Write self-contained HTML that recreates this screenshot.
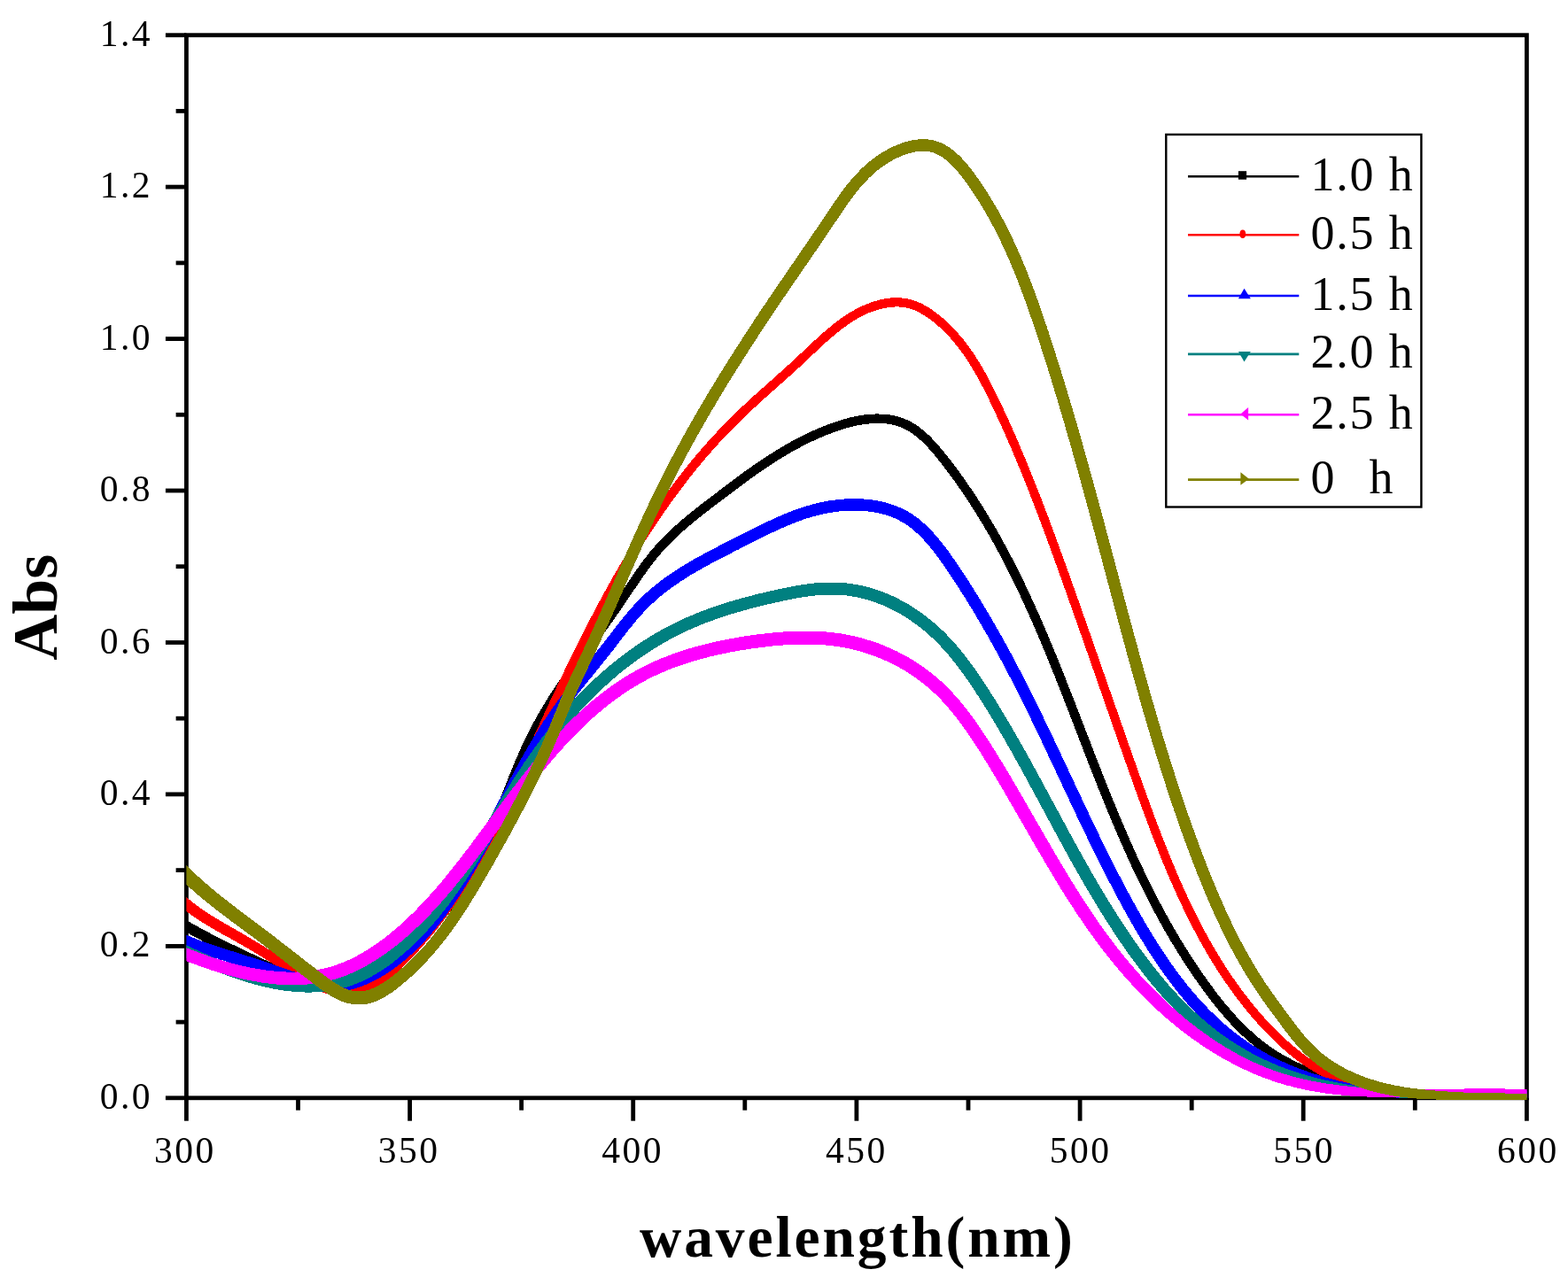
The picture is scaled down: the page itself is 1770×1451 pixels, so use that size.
<!DOCTYPE html>
<html><head><meta charset="utf-8"><title>Abs vs wavelength</title>
<style>
html,body{margin:0;padding:0;background:#fff;width:1770px;height:1451px;overflow:hidden}
svg{display:block}
.t{font-family:"Liberation Serif","Times New Roman",serif;fill:#000}
</style></head><body>
<svg width="1770" height="1451" viewBox="0 0 1770 1451">
<rect width="1770" height="1451" fill="#fff"/>
<rect x="210.4" y="39.7" width="1513.0" height="1200.1" fill="none" stroke="#000" stroke-width="4.8"/>
<line x1="186.9" y1="1239.8" x2="210.4" y2="1239.8" stroke="#000" stroke-width="4.8"/>
<line x1="186.9" y1="1068.4" x2="210.4" y2="1068.4" stroke="#000" stroke-width="4.8"/>
<line x1="186.9" y1="896.9" x2="210.4" y2="896.9" stroke="#000" stroke-width="4.8"/>
<line x1="186.9" y1="725.5" x2="210.4" y2="725.5" stroke="#000" stroke-width="4.8"/>
<line x1="186.9" y1="554.0" x2="210.4" y2="554.0" stroke="#000" stroke-width="4.8"/>
<line x1="186.9" y1="382.6" x2="210.4" y2="382.6" stroke="#000" stroke-width="4.8"/>
<line x1="186.9" y1="211.1" x2="210.4" y2="211.1" stroke="#000" stroke-width="4.8"/>
<line x1="186.9" y1="39.7" x2="210.4" y2="39.7" stroke="#000" stroke-width="4.8"/>
<line x1="198.6" y1="1154.1" x2="210.4" y2="1154.1" stroke="#000" stroke-width="4.8"/>
<line x1="198.6" y1="982.6" x2="210.4" y2="982.6" stroke="#000" stroke-width="4.8"/>
<line x1="198.6" y1="811.2" x2="210.4" y2="811.2" stroke="#000" stroke-width="4.8"/>
<line x1="198.6" y1="639.7" x2="210.4" y2="639.7" stroke="#000" stroke-width="4.8"/>
<line x1="198.6" y1="468.3" x2="210.4" y2="468.3" stroke="#000" stroke-width="4.8"/>
<line x1="198.6" y1="296.9" x2="210.4" y2="296.9" stroke="#000" stroke-width="4.8"/>
<line x1="198.6" y1="125.4" x2="210.4" y2="125.4" stroke="#000" stroke-width="4.8"/>
<line x1="210.4" y1="1239.8" x2="210.4" y2="1265.7" stroke="#000" stroke-width="4.8"/>
<line x1="462.6" y1="1239.8" x2="462.6" y2="1265.7" stroke="#000" stroke-width="4.8"/>
<line x1="714.7" y1="1239.8" x2="714.7" y2="1265.7" stroke="#000" stroke-width="4.8"/>
<line x1="966.9" y1="1239.8" x2="966.9" y2="1265.7" stroke="#000" stroke-width="4.8"/>
<line x1="1219.1" y1="1239.8" x2="1219.1" y2="1265.7" stroke="#000" stroke-width="4.8"/>
<line x1="1471.2" y1="1239.8" x2="1471.2" y2="1265.7" stroke="#000" stroke-width="4.8"/>
<line x1="1723.4" y1="1239.8" x2="1723.4" y2="1265.7" stroke="#000" stroke-width="4.8"/>
<line x1="336.5" y1="1239.8" x2="336.5" y2="1253.7" stroke="#000" stroke-width="4.8"/>
<line x1="588.6" y1="1239.8" x2="588.6" y2="1253.7" stroke="#000" stroke-width="4.8"/>
<line x1="840.8" y1="1239.8" x2="840.8" y2="1253.7" stroke="#000" stroke-width="4.8"/>
<line x1="1093.0" y1="1239.8" x2="1093.0" y2="1253.7" stroke="#000" stroke-width="4.8"/>
<line x1="1345.2" y1="1239.8" x2="1345.2" y2="1253.7" stroke="#000" stroke-width="4.8"/>
<line x1="1597.3" y1="1239.8" x2="1597.3" y2="1253.7" stroke="#000" stroke-width="4.8"/>
<clipPath id="pc"><rect x="210.4" y="0" width="1513.2" height="1451"/></clipPath>
<g clip-path="url(#pc)" shape-rendering="crispEdges">
<path fill="#000000" d="M196.3,1044.3L198.0,1045.3L199.7,1046.4L201.4,1047.4L203.2,1048.5L204.9,1049.5L206.7,1050.5L208.4,1051.6L210.2,1052.6L211.9,1053.6L213.7,1054.6L215.5,1055.6L217.2,1056.5L219.0,1057.5L220.8,1058.5L222.6,1059.4L224.4,1060.4L226.2,1061.3L227.9,1062.3L229.7,1063.2L231.5,1064.1L233.3,1065.1L235.1,1066.0L236.9,1066.9L238.7,1067.8L240.5,1068.7L242.3,1069.6L244.2,1070.5L246.0,1071.4L247.8,1072.2L249.6,1073.1L251.4,1074.0L253.2,1074.9L255.0,1075.7L256.9,1076.6L258.7,1077.4L260.5,1078.3L262.3,1079.2L264.1,1080.0L265.9,1080.9L267.8,1081.7L269.6,1082.5L271.4,1083.4L273.2,1084.2L275.0,1085.1L276.9,1085.9L278.7,1086.7L280.5,1087.6L282.3,1088.4L284.1,1089.3L286.0,1090.1L287.8,1090.9L289.6,1091.8L291.4,1092.6L293.2,1093.4L295.1,1094.3L296.9,1095.1L298.7,1096.0L300.5,1096.8L302.4,1097.6L304.2,1098.4L306.1,1099.3L307.9,1100.1L309.8,1100.9L311.6,1101.7L313.5,1102.5L315.3,1103.3L317.2,1104.1L319.1,1104.8L321.0,1105.6L322.9,1106.3L324.8,1107.1L326.7,1107.8L328.6,1108.5L330.5,1109.2L332.4,1109.9L334.3,1110.6L336.3,1111.3L338.2,1111.9L340.2,1112.6L342.2,1113.2L344.1,1113.8L346.1,1114.3L348.1,1114.9L350.1,1115.4L352.1,1115.9L354.1,1116.4L356.1,1116.8L358.2,1117.2L360.2,1117.6L362.3,1118.0L364.4,1118.3L366.4,1118.6L368.5,1118.9L370.6,1119.1L372.7,1119.3L374.8,1119.4L376.9,1119.5L379.0,1119.5L381.1,1119.5L383.3,1119.5L385.4,1119.4L387.5,1119.3L389.6,1119.1L391.7,1118.9L393.8,1118.6L395.9,1118.2L398.0,1117.9L400.1,1117.5L402.1,1117.0L404.2,1116.5L406.2,1115.9L408.3,1115.3L410.3,1114.7L412.3,1114.0L414.3,1113.3L416.2,1112.5L418.2,1111.7L420.1,1110.8L422.0,1109.9L423.9,1109.0L425.8,1108.0L427.6,1107.0L429.5,1106.0L431.3,1104.9L433.1,1103.8L434.8,1102.7L436.6,1101.6L438.3,1100.4L440.0,1099.2L441.6,1098.0L443.3,1096.7L444.9,1095.5L446.6,1094.2L448.2,1092.9L449.8,1091.6L451.3,1090.3L452.9,1089.0L454.4,1087.6L456.0,1086.3L457.5,1084.9L459.0,1083.5L460.5,1082.1L462.0,1080.7L463.4,1079.3L464.9,1077.9L466.4,1076.5L467.8,1075.0L469.2,1073.6L470.6,1072.2L472.1,1070.7L473.5,1069.3L474.9,1067.8L476.3,1066.3L477.7,1064.9L479.0,1063.4L480.4,1061.9L481.8,1060.5L483.2,1059.0L484.5,1057.5L485.9,1056.0L487.3,1054.5L488.6,1053.0L489.9,1051.4L491.3,1049.9L492.6,1048.4L493.9,1046.9L495.2,1045.3L496.5,1043.8L497.9,1042.2L499.1,1040.7L500.4,1039.1L501.7,1037.6L503.0,1036.0L504.3,1034.4L505.5,1032.8L506.8,1031.2L508.0,1029.6L509.3,1028.0L510.5,1026.4L511.7,1024.8L512.9,1023.2L514.2,1021.6L515.4,1019.9L516.5,1018.3L517.7,1016.6L518.9,1015.0L520.1,1013.3L521.2,1011.7L522.4,1010.0L523.5,1008.3L524.7,1006.6L525.8,1005.0L526.9,1003.3L528.0,1001.6L529.1,999.9L530.2,998.1L531.3,996.4L532.4,994.7L533.4,993.0L534.5,991.2L535.5,989.5L536.6,987.8L537.6,986.0L538.6,984.2L539.6,982.5L540.6,980.7L541.6,978.9L542.6,977.1L543.5,975.4L544.5,973.6L545.4,971.8L546.4,970.0L547.3,968.2L548.2,966.3L549.1,964.5L550.0,962.7L550.9,960.9L551.8,959.1L552.6,957.2L553.5,955.4L554.3,953.6L555.2,951.7L556.0,949.9L556.8,948.0L557.7,946.2L558.5,944.3L559.3,942.5L560.1,940.6L560.9,938.8L561.7,936.9L562.5,935.1L563.2,933.2L564.0,931.4L564.8,929.5L565.6,927.6L566.3,925.8L567.1,923.9L567.8,922.0L568.6,920.2L569.3,918.3L570.1,916.4L570.8,914.6L571.5,912.7L572.3,910.9L573.0,909.0L573.8,907.1L574.5,905.3L575.2,903.4L575.9,901.5L576.7,899.7L577.4,897.8L578.1,895.9L578.9,894.1L579.6,892.2L580.3,890.4L581.1,888.5L581.8,886.6L582.5,884.8L583.3,882.9L584.0,881.1L584.7,879.2L585.5,877.4L586.2,875.5L587.0,873.7L587.7,871.8L588.5,870.0L589.2,868.1L590.0,866.3L590.8,864.5L591.5,862.6L592.3,860.8L593.1,859.0L593.9,857.2L594.7,855.3L595.5,853.5L596.3,851.7L597.1,849.9L597.9,848.1L598.7,846.3L599.6,844.5L600.4,842.7L601.2,840.9L602.1,839.1L603.0,837.4L603.8,835.6L604.7,833.8L605.6,832.0L606.5,830.3L607.4,828.5L608.3,826.8L609.2,825.0L610.1,823.3L611.1,821.5L612.0,819.8L613.0,818.1L613.9,816.3L614.9,814.6L615.9,812.9L616.9,811.2L617.8,809.4L618.8,807.7L619.8,806.0L620.9,804.3L621.9,802.6L622.9,800.9L623.9,799.2L625.0,797.5L626.0,795.9L627.1,794.2L628.1,792.5L629.2,790.8L630.2,789.1L631.3,787.5L632.4,785.8L633.5,784.1L634.6,782.5L635.6,780.8L636.7,779.1L637.8,777.5L638.9,775.8L640.0,774.2L641.2,772.5L642.3,770.9L643.4,769.2L644.5,767.6L645.6,765.9L646.8,764.3L647.9,762.7L649.0,761.0L650.2,759.4L651.3,757.8L652.5,756.1L653.6,754.5L654.8,752.9L655.9,751.2L657.1,749.6L658.2,748.0L659.4,746.4L660.5,744.7L661.7,743.1L662.9,741.5L664.0,739.9L665.2,738.2L666.4,736.6L667.5,735.0L668.7,733.4L669.9,731.7L671.0,730.1L672.2,728.5L673.4,726.9L674.6,725.3L675.7,723.6L676.9,722.0L678.1,720.4L679.2,718.8L680.4,717.1L681.6,715.5L682.7,713.9L683.9,712.2L685.1,710.6L686.2,709.0L687.4,707.3L688.6,705.7L689.7,704.1L690.9,702.4L692.1,700.8L693.2,699.2L694.4,697.5L695.5,695.9L696.7,694.2L697.8,692.6L699.0,690.9L700.1,689.3L701.3,687.6L702.4,685.9L703.5,684.3L704.7,682.6L705.8,681.0L706.9,679.3L708.0,677.6L709.1,676.0L710.3,674.3L711.4,672.6L712.5,671.0L713.6,669.3L714.7,667.7L715.8,666.0L717.0,664.3L718.1,662.7L719.2,661.0L720.3,659.4L721.4,657.7L722.5,656.1L723.7,654.5L724.8,652.8L725.9,651.2L727.1,649.6L728.2,648.0L729.4,646.3L730.5,644.7L731.7,643.1L732.9,641.5L734.0,640.0L735.2,638.4L736.4,636.8L737.6,635.3L738.8,633.7L740.0,632.2L741.3,630.6L742.5,629.1L743.8,627.6L745.0,626.1L746.3,624.6L747.6,623.2L748.9,621.7L750.2,620.3L751.5,618.8L752.9,617.4L754.2,616.0L755.6,614.6L757.0,613.2L758.4,611.8L759.8,610.4L761.2,609.0L762.6,607.7L764.0,606.3L765.4,605.0L766.9,603.6L768.3,602.3L769.8,601.0L771.3,599.7L772.8,598.4L774.3,597.1L775.7,595.8L777.3,594.5L778.8,593.2L780.3,591.9L781.8,590.7L783.3,589.4L784.9,588.2L786.4,586.9L787.9,585.7L789.5,584.4L791.0,583.2L792.6,582.0L794.2,580.7L795.7,579.5L797.3,578.3L798.9,577.1L800.4,575.8L802.0,574.6L803.6,573.4L805.2,572.2L806.8,571.0L808.4,569.8L809.9,568.6L811.5,567.3L813.1,566.1L814.7,564.9L816.3,563.7L817.9,562.5L819.5,561.3L821.1,560.1L822.7,558.9L824.3,557.7L825.9,556.5L827.5,555.3L829.1,554.1L830.7,552.9L832.3,551.7L833.9,550.5L835.5,549.3L837.1,548.1L838.7,546.9L840.3,545.7L841.9,544.6L843.5,543.4L845.1,542.2L846.7,541.0L848.3,539.9L849.9,538.7L851.5,537.6L853.2,536.4L854.8,535.3L856.4,534.1L858.0,533.0L859.7,531.9L861.3,530.8L862.9,529.6L864.6,528.5L866.2,527.4L867.9,526.3L869.5,525.2L871.2,524.1L872.9,523.1L874.5,522.0L876.2,520.9L877.9,519.9L879.5,518.8L881.2,517.8L882.9,516.8L884.6,515.7L886.3,514.7L888.0,513.7L889.7,512.7L891.4,511.7L893.1,510.7L894.8,509.8L896.6,508.8L898.3,507.8L900.0,506.9L901.8,506.0L903.5,505.0L905.3,504.1L907.0,503.2L908.8,502.3L910.5,501.4L912.3,500.6L914.1,499.7L915.8,498.8L917.6,498.0L919.4,497.2L921.2,496.3L923.0,495.5L924.8,494.7L926.6,493.9L928.4,493.2L930.2,492.4L932.0,491.6L933.8,490.9L935.7,490.2L937.5,489.5L939.3,488.8L941.2,488.1L943.0,487.4L944.8,486.8L946.7,486.2L948.5,485.6L950.4,485.0L952.3,484.4L954.1,483.8L956.0,483.3L957.9,482.8L959.8,482.3L961.6,481.8L963.5,481.4L965.4,480.9L967.3,480.5L969.2,480.1L971.1,479.8L973.0,479.5L974.9,479.2L976.8,478.9L978.7,478.7L980.6,478.5L982.5,478.3L984.4,478.2L986.3,478.0L988.2,478.0L990.1,477.9L992.0,478.0L993.9,478.0L995.8,478.1L997.7,478.2L999.5,478.4L1001.4,478.6L1003.2,478.9L1005.1,479.2L1006.9,479.5L1008.7,480.0L1010.5,480.4L1012.3,480.9L1014.0,481.5L1015.7,482.1L1017.5,482.8L1019.1,483.5L1020.8,484.3L1022.4,485.1L1024.1,486.0L1025.7,486.9L1027.2,487.9L1028.8,488.9L1030.3,490.0L1031.9,491.1L1033.4,492.2L1034.8,493.4L1036.3,494.6L1037.7,495.9L1039.2,497.2L1040.6,498.5L1042.0,499.8L1043.3,501.1L1044.7,502.5L1046.0,503.9L1047.4,505.3L1048.7,506.8L1050.0,508.2L1051.3,509.7L1052.5,511.1L1053.8,512.6L1055.1,514.1L1056.3,515.7L1057.6,517.2L1058.8,518.7L1060.0,520.3L1061.3,521.8L1062.5,523.4L1063.7,525.0L1064.9,526.5L1066.1,528.1L1067.3,529.7L1068.5,531.3L1069.7,532.8L1070.9,534.4L1072.1,536.0L1073.3,537.6L1074.4,539.2L1075.6,540.8L1076.8,542.4L1077.9,544.1L1079.1,545.7L1080.2,547.3L1081.4,548.9L1082.5,550.6L1083.6,552.2L1084.8,553.8L1085.9,555.5L1087.0,557.1L1088.1,558.7L1089.2,560.4L1090.3,562.0L1091.4,563.7L1092.5,565.4L1093.6,567.0L1094.7,568.7L1095.8,570.4L1096.8,572.0L1097.9,573.7L1099.0,575.4L1100.0,577.1L1101.1,578.7L1102.1,580.4L1103.2,582.1L1104.2,583.8L1105.3,585.5L1106.3,587.2L1107.3,588.9L1108.3,590.6L1109.4,592.3L1110.4,594.0L1111.4,595.7L1112.4,597.4L1113.4,599.2L1114.4,600.9L1115.4,602.6L1116.4,604.3L1117.4,606.1L1118.3,607.8L1119.3,609.5L1120.3,611.3L1121.3,613.0L1122.2,614.7L1123.2,616.5L1124.1,618.2L1125.1,620.0L1126.0,621.7L1127.0,623.5L1127.9,625.2L1128.8,627.0L1129.8,628.7L1130.7,630.5L1131.6,632.3L1132.6,634.0L1133.5,635.8L1134.4,637.6L1135.3,639.3L1136.2,641.1L1137.1,642.9L1138.0,644.7L1138.9,646.4L1139.8,648.2L1140.7,650.0L1141.6,651.8L1142.4,653.6L1143.3,655.4L1144.2,657.1L1145.1,658.9L1145.9,660.7L1146.8,662.5L1147.7,664.3L1148.5,666.1L1149.4,667.9L1150.2,669.7L1151.1,671.5L1151.9,673.3L1152.8,675.1L1153.6,676.9L1154.4,678.7L1155.3,680.6L1156.1,682.4L1156.9,684.2L1157.7,686.0L1158.6,687.8L1159.4,689.6L1160.2,691.4L1161.0,693.3L1161.8,695.1L1162.6,696.9L1163.4,698.7L1164.3,700.6L1165.1,702.4L1165.9,704.2L1166.7,706.0L1167.4,707.9L1168.2,709.7L1169.0,711.5L1169.8,713.4L1170.6,715.2L1171.4,717.0L1172.2,718.9L1172.9,720.7L1173.7,722.5L1174.5,724.4L1175.3,726.2L1176.0,728.1L1176.8,729.9L1177.6,731.8L1178.3,733.6L1179.1,735.4L1179.9,737.3L1180.6,739.1L1181.4,741.0L1182.1,742.8L1182.9,744.7L1183.6,746.5L1184.4,748.4L1185.1,750.2L1185.9,752.1L1186.6,753.9L1187.4,755.8L1188.1,757.6L1188.9,759.5L1189.6,761.3L1190.4,763.2L1191.1,765.1L1191.8,766.9L1192.6,768.8L1193.3,770.6L1194.0,772.5L1194.8,774.4L1195.5,776.2L1196.2,778.1L1197.0,779.9L1197.7,781.8L1198.4,783.7L1199.1,785.5L1199.9,787.4L1200.6,789.2L1201.3,791.1L1202.1,793.0L1202.8,794.8L1203.5,796.7L1204.2,798.6L1204.9,800.4L1205.7,802.3L1206.4,804.2L1207.1,806.0L1207.8,807.9L1208.5,809.8L1209.3,811.6L1210.0,813.5L1210.7,815.4L1211.4,817.2L1212.1,819.1L1212.9,821.0L1213.6,822.8L1214.3,824.7L1215.0,826.6L1215.7,828.4L1216.5,830.3L1217.2,832.2L1217.9,834.0L1218.6,835.9L1219.3,837.8L1220.1,839.6L1220.8,841.5L1221.5,843.4L1222.2,845.2L1222.9,847.1L1223.7,849.0L1224.4,850.8L1225.1,852.7L1225.8,854.6L1226.6,856.5L1227.3,858.3L1228.0,860.2L1228.7,862.1L1229.5,863.9L1230.2,865.8L1230.9,867.7L1231.6,869.5L1232.4,871.4L1233.1,873.3L1233.8,875.1L1234.6,877.0L1235.3,878.8L1236.0,880.7L1236.8,882.6L1237.5,884.4L1238.3,886.3L1239.0,888.2L1239.7,890.0L1240.5,891.9L1241.2,893.8L1242.0,895.6L1242.7,897.5L1243.5,899.3L1244.2,901.2L1245.0,903.1L1245.7,904.9L1246.5,906.8L1247.2,908.6L1248.0,910.5L1248.7,912.4L1249.5,914.2L1250.3,916.1L1251.0,917.9L1251.8,919.8L1252.6,921.6L1253.3,923.5L1254.1,925.3L1254.9,927.2L1255.7,929.0L1256.4,930.9L1257.2,932.7L1258.0,934.6L1258.8,936.4L1259.6,938.3L1260.4,940.1L1261.2,942.0L1262.0,943.8L1262.8,945.7L1263.6,947.5L1264.4,949.3L1265.2,951.2L1266.0,953.0L1266.8,954.9L1267.6,956.7L1268.4,958.5L1269.2,960.4L1270.1,962.2L1270.9,964.0L1271.7,965.9L1272.5,967.7L1273.4,969.5L1274.2,971.4L1275.0,973.2L1275.9,975.0L1276.7,976.8L1277.6,978.7L1278.4,980.5L1279.3,982.3L1280.1,984.1L1281.0,985.9L1281.8,987.7L1282.7,989.6L1283.6,991.4L1284.5,993.2L1285.3,995.0L1286.2,996.8L1287.1,998.6L1288.0,1000.4L1288.9,1002.2L1289.8,1004.0L1290.7,1005.8L1291.6,1007.6L1292.5,1009.4L1293.4,1011.2L1294.3,1013.0L1295.2,1014.8L1296.1,1016.6L1297.0,1018.4L1298.0,1020.2L1298.9,1022.0L1299.8,1023.7L1300.8,1025.5L1301.7,1027.3L1302.7,1029.1L1303.6,1030.9L1304.6,1032.6L1305.5,1034.4L1306.5,1036.2L1307.5,1037.9L1308.4,1039.7L1309.4,1041.5L1310.4,1043.2L1311.4,1045.0L1312.4,1046.7L1313.3,1048.5L1314.3,1050.2L1315.3,1052.0L1316.4,1053.7L1317.4,1055.5L1318.4,1057.2L1319.4,1058.9L1320.4,1060.7L1321.4,1062.4L1322.5,1064.1L1323.5,1065.9L1324.6,1067.6L1325.6,1069.3L1326.7,1071.0L1327.7,1072.8L1328.8,1074.5L1329.8,1076.2L1330.9,1077.9L1332.0,1079.6L1333.1,1081.3L1334.1,1083.0L1335.2,1084.7L1336.3,1086.4L1337.4,1088.1L1338.5,1089.8L1339.6,1091.5L1340.7,1093.1L1341.9,1094.8L1343.0,1096.5L1344.1,1098.2L1345.2,1099.8L1346.4,1101.5L1347.5,1103.2L1348.7,1104.8L1349.8,1106.5L1351.0,1108.1L1352.1,1109.8L1353.3,1111.4L1354.5,1113.1L1355.7,1114.7L1356.8,1116.3L1358.0,1118.0L1359.2,1119.6L1360.4,1121.2L1361.6,1122.9L1362.9,1124.5L1364.1,1126.1L1365.3,1127.7L1366.5,1129.3L1367.8,1130.9L1369.0,1132.5L1370.3,1134.1L1371.5,1135.7L1372.8,1137.2L1374.1,1138.8L1375.4,1140.4L1376.7,1141.9L1378.0,1143.5L1379.3,1145.0L1380.6,1146.6L1382.0,1148.1L1383.3,1149.6L1384.6,1151.1L1386.0,1152.7L1387.4,1154.2L1388.7,1155.7L1390.1,1157.2L1391.5,1158.6L1392.9,1160.1L1394.4,1161.6L1395.8,1163.0L1397.2,1164.5L1398.7,1165.9L1400.1,1167.3L1401.6,1168.7L1403.1,1170.1L1404.6,1171.5L1406.1,1172.9L1407.6,1174.3L1409.2,1175.6L1410.7,1177.0L1412.3,1178.3L1413.8,1179.6L1415.4,1180.9L1417.0,1182.2L1418.6,1183.5L1420.2,1184.8L1421.8,1186.0L1423.5,1187.2L1425.1,1188.4L1426.8,1189.6L1428.5,1190.8L1430.2,1192.0L1431.9,1193.1L1433.6,1194.3L1435.3,1195.4L1437.1,1196.5L1438.8,1197.6L1440.6,1198.6L1442.3,1199.7L1444.1,1200.7L1445.9,1201.7L1447.7,1202.7L1449.5,1203.7L1451.3,1204.6L1453.1,1205.6L1454.9,1206.5L1456.8,1207.4L1458.6,1208.3L1460.5,1209.2L1462.3,1210.1L1464.2,1210.9L1466.0,1211.7L1467.9,1212.6L1469.8,1213.4L1471.7,1214.2L1473.6,1214.9L1475.5,1215.7L1477.4,1216.4L1479.3,1217.1L1481.2,1217.8L1483.1,1218.5L1485.1,1219.1L1487.0,1219.8L1488.9,1220.4L1490.9,1221.0L1492.8,1221.6L1494.8,1222.2L1496.7,1222.8L1498.7,1223.3L1500.6,1223.9L1502.6,1224.4L1504.6,1224.9L1506.5,1225.4L1508.5,1225.9L1510.5,1226.4L1512.5,1226.9L1514.4,1227.3L1516.4,1227.8L1518.4,1228.2L1520.4,1228.7L1522.4,1229.1L1524.3,1229.5L1526.3,1229.9L1528.3,1230.2L1530.3,1230.6L1532.3,1231.0L1534.3,1231.3L1536.3,1231.7L1538.3,1232.0L1540.3,1232.3L1542.3,1232.6L1544.3,1232.9L1546.3,1233.2L1548.3,1233.5L1550.3,1233.8L1552.3,1234.0L1554.3,1234.3L1556.3,1234.6L1558.3,1234.8L1560.3,1235.0L1562.3,1235.3L1564.3,1235.5L1566.3,1235.8L1568.3,1236.0L1570.3,1236.2L1572.3,1236.4L1574.3,1236.6L1576.3,1236.8L1578.3,1237.0L1580.3,1237.2L1582.3,1237.4L1584.4,1237.6L1586.4,1237.7L1588.4,1237.9L1590.4,1238.0L1592.4,1238.2L1594.4,1238.3L1596.4,1238.4L1598.4,1238.6L1600.4,1238.7L1602.4,1238.8L1604.4,1238.9L1606.4,1239.0L1608.5,1239.1L1610.5,1239.2L1612.5,1239.3L1614.5,1239.4L1616.5,1239.5L1618.5,1239.6L1620.5,1239.6L1622.5,1239.7L1624.5,1239.8L1626.5,1239.8L1628.6,1239.9L1630.7,1239.9L1632.7,1239.8L1634.7,1239.8L1636.7,1239.8L1638.7,1239.8L1640.7,1239.8L1642.7,1239.8L1644.7,1239.8L1646.7,1239.8L1648.7,1239.8L1650.7,1239.8L1652.7,1239.8L1654.7,1239.8L1656.7,1239.8L1658.7,1239.8L1660.7,1239.8L1662.7,1239.8L1664.7,1239.8L1666.7,1239.8L1668.7,1239.8L1670.7,1239.8L1672.7,1239.8L1674.7,1239.8L1676.7,1239.8L1678.7,1239.8L1680.7,1239.7L1682.7,1239.7L1684.7,1239.7L1686.7,1239.7L1688.7,1239.7L1690.7,1239.7L1692.7,1239.7L1694.7,1239.7L1696.7,1239.7L1698.7,1239.7L1700.7,1239.7L1702.7,1239.7L1704.7,1239.7L1706.7,1239.7L1708.7,1239.7L1710.7,1239.7L1712.7,1239.7L1714.7,1239.7L1716.7,1239.7L1718.7,1239.7L1720.7,1239.7L1722.7,1239.6L1724.7,1239.6L1726.7,1239.6L1728.7,1239.6L1730.7,1239.6L1732.7,1239.6L1734.7,1239.5L1734.7,1232.3L1732.7,1232.3L1730.7,1232.3L1728.7,1232.3L1726.7,1232.3L1724.7,1232.3L1722.7,1232.3L1720.7,1232.3L1718.7,1232.3L1716.7,1232.3L1714.7,1232.3L1712.7,1232.3L1710.7,1232.3L1708.7,1232.3L1706.7,1232.3L1704.7,1232.3L1702.7,1232.3L1700.7,1232.3L1698.7,1232.3L1696.7,1232.3L1694.7,1232.3L1692.7,1232.3L1690.7,1232.3L1688.7,1232.3L1686.7,1232.3L1684.7,1232.3L1682.7,1232.3L1680.7,1232.3L1678.7,1232.2L1676.7,1232.2L1674.7,1232.2L1672.7,1232.2L1670.7,1232.2L1668.7,1232.2L1666.7,1232.2L1664.7,1232.2L1662.7,1232.2L1660.7,1232.2L1658.7,1232.2L1656.7,1232.2L1654.7,1232.2L1652.7,1232.2L1650.7,1232.2L1648.7,1232.2L1646.7,1232.2L1644.7,1232.2L1642.7,1232.2L1640.7,1232.2L1638.7,1232.2L1636.7,1232.2L1634.7,1232.2L1632.7,1232.2L1630.7,1232.1L1628.7,1232.1L1626.8,1232.1L1624.8,1232.0L1622.8,1232.0L1620.8,1231.9L1618.8,1231.8L1616.8,1231.7L1614.8,1231.6L1612.8,1231.5L1610.8,1231.4L1608.8,1231.3L1606.9,1231.2L1604.9,1231.1L1602.9,1231.0L1600.9,1230.9L1598.9,1230.7L1596.9,1230.6L1594.9,1230.5L1593.0,1230.3L1591.0,1230.2L1589.0,1230.0L1587.0,1229.9L1585.0,1229.7L1583.0,1229.5L1581.1,1229.3L1579.1,1229.1L1577.1,1228.9L1575.1,1228.7L1573.2,1228.5L1571.2,1228.3L1569.2,1228.1L1567.2,1227.8L1565.3,1227.6L1563.3,1227.4L1561.3,1227.1L1559.4,1226.8L1557.4,1226.5L1555.4,1226.2L1553.5,1225.9L1551.5,1225.6L1549.6,1225.3L1547.6,1224.9L1545.7,1224.6L1543.7,1224.2L1541.8,1223.9L1539.8,1223.5L1537.9,1223.1L1535.9,1222.7L1534.0,1222.3L1532.0,1221.9L1530.1,1221.5L1528.2,1221.0L1526.3,1220.6L1524.3,1220.1L1522.4,1219.7L1520.5,1219.2L1518.6,1218.7L1516.7,1218.2L1514.8,1217.7L1512.9,1217.2L1511.0,1216.7L1509.1,1216.1L1507.2,1215.6L1505.3,1215.0L1503.4,1214.5L1501.5,1213.9L1499.6,1213.3L1497.8,1212.7L1495.9,1212.0L1494.0,1211.4L1492.2,1210.8L1490.3,1210.1L1488.5,1209.4L1486.6,1208.7L1484.8,1208.0L1483.0,1207.3L1481.1,1206.6L1479.3,1205.9L1477.5,1205.2L1475.7,1204.4L1473.9,1203.7L1472.1,1202.9L1470.3,1202.1L1468.5,1201.3L1466.7,1200.5L1464.9,1199.7L1463.2,1198.9L1461.4,1198.0L1459.6,1197.1L1457.9,1196.3L1456.2,1195.3L1454.4,1194.4L1452.7,1193.5L1451.0,1192.6L1449.3,1191.6L1447.6,1190.6L1446.0,1189.6L1444.3,1188.6L1442.6,1187.6L1441.0,1186.5L1439.3,1185.5L1437.7,1184.4L1436.1,1183.3L1434.5,1182.2L1432.9,1181.1L1431.3,1180.0L1429.7,1178.8L1428.2,1177.6L1426.6,1176.4L1425.1,1175.2L1423.6,1174.0L1422.1,1172.8L1420.5,1171.6L1419.0,1170.3L1417.6,1169.0L1416.1,1167.7L1414.6,1166.4L1413.2,1165.1L1411.7,1163.8L1410.3,1162.5L1408.9,1161.1L1407.4,1159.8L1406.0,1158.4L1404.6,1157.0L1403.2,1155.6L1401.9,1154.2L1400.5,1152.8L1399.1,1151.4L1397.8,1150.0L1396.4,1148.5L1395.1,1147.1L1393.8,1145.6L1392.5,1144.2L1391.2,1142.7L1389.9,1141.2L1388.6,1139.7L1387.3,1138.2L1386.0,1136.7L1384.7,1135.2L1383.5,1133.7L1382.2,1132.2L1381.0,1130.6L1379.7,1129.1L1378.5,1127.5L1377.3,1126.0L1376.1,1124.4L1374.8,1122.9L1373.6,1121.3L1372.4,1119.7L1371.2,1118.1L1370.0,1116.6L1368.9,1115.0L1367.7,1113.4L1366.5,1111.8L1365.3,1110.2L1364.2,1108.6L1363.0,1107.0L1361.9,1105.3L1360.7,1103.7L1359.6,1102.1L1358.4,1100.5L1357.3,1098.8L1356.2,1097.2L1355.0,1095.6L1353.9,1093.9L1352.8,1092.3L1351.7,1090.6L1350.6,1089.0L1349.5,1087.3L1348.4,1085.7L1347.3,1084.0L1346.2,1082.4L1345.1,1080.7L1344.1,1079.0L1343.0,1077.4L1341.9,1075.7L1340.9,1074.0L1339.8,1072.3L1338.7,1070.6L1337.7,1068.9L1336.6,1067.3L1335.6,1065.6L1334.6,1063.9L1333.5,1062.2L1332.5,1060.5L1331.5,1058.8L1330.5,1057.1L1329.5,1055.3L1328.4,1053.6L1327.4,1051.9L1326.4,1050.2L1325.4,1048.5L1324.5,1046.8L1323.5,1045.0L1322.5,1043.3L1321.5,1041.6L1320.5,1039.8L1319.6,1038.1L1318.6,1036.4L1317.6,1034.6L1316.7,1032.9L1315.7,1031.1L1314.8,1029.4L1313.8,1027.6L1312.9,1025.9L1311.9,1024.1L1311.0,1022.4L1310.1,1020.6L1309.1,1018.9L1308.2,1017.1L1307.3,1015.3L1306.4,1013.6L1305.5,1011.8L1304.5,1010.0L1303.6,1008.2L1302.7,1006.5L1301.8,1004.7L1300.9,1002.9L1300.1,1001.1L1299.2,999.4L1298.3,997.6L1297.4,995.8L1296.5,994.0L1295.7,992.2L1294.8,990.4L1293.9,988.6L1293.0,986.8L1292.2,985.0L1291.3,983.2L1290.5,981.4L1289.6,979.6L1288.8,977.8L1287.9,976.0L1287.1,974.2L1286.2,972.4L1285.4,970.6L1284.6,968.8L1283.7,967.0L1282.9,965.2L1282.1,963.4L1281.3,961.5L1280.4,959.7L1279.6,957.9L1278.8,956.1L1278.0,954.3L1277.2,952.4L1276.4,950.6L1275.6,948.8L1274.8,947.0L1274.0,945.1L1273.2,943.3L1272.4,941.5L1271.6,939.6L1270.8,937.8L1270.0,936.0L1269.2,934.2L1268.5,932.3L1267.7,930.5L1266.9,928.6L1266.1,926.8L1265.3,925.0L1264.6,923.1L1263.8,921.3L1263.0,919.4L1262.3,917.6L1261.5,915.8L1260.7,913.9L1260.0,912.1L1259.2,910.2L1258.5,908.4L1257.7,906.5L1257.0,904.7L1256.2,902.8L1255.4,901.0L1254.7,899.1L1254.0,897.3L1253.2,895.4L1252.5,893.6L1251.7,891.7L1251.0,889.9L1250.2,888.0L1249.5,886.1L1248.8,884.3L1248.0,882.4L1247.3,880.6L1246.5,878.7L1245.8,876.9L1245.1,875.0L1244.3,873.1L1243.6,871.3L1242.9,869.4L1242.2,867.6L1241.4,865.7L1240.7,863.8L1240.0,862.0L1239.2,860.1L1238.5,858.2L1237.8,856.4L1237.1,854.5L1236.3,852.7L1235.6,850.8L1234.9,848.9L1234.2,847.1L1233.5,845.2L1232.7,843.3L1232.0,841.5L1231.3,839.6L1230.6,837.7L1229.9,835.9L1229.1,834.0L1228.4,832.1L1227.7,830.3L1227.0,828.4L1226.3,826.5L1225.5,824.7L1224.8,822.8L1224.1,820.9L1223.4,819.1L1222.7,817.2L1221.9,815.3L1221.2,813.4L1220.5,811.6L1219.8,809.7L1219.1,807.8L1218.3,806.0L1217.6,804.1L1216.9,802.2L1216.2,800.4L1215.5,798.5L1214.7,796.6L1214.0,794.8L1213.3,792.9L1212.6,791.0L1211.8,789.2L1211.1,787.3L1210.4,785.4L1209.7,783.6L1208.9,781.7L1208.2,779.8L1207.5,778.0L1206.7,776.1L1206.0,774.2L1205.3,772.4L1204.5,770.5L1203.8,768.6L1203.1,766.8L1202.3,764.9L1201.6,763.0L1200.8,761.2L1200.1,759.3L1199.4,757.5L1198.6,755.6L1197.9,753.7L1197.1,751.9L1196.4,750.0L1195.6,748.2L1194.9,746.3L1194.1,744.4L1193.4,742.6L1192.6,740.7L1191.9,738.9L1191.1,737.0L1190.3,735.1L1189.6,733.3L1188.8,731.4L1188.0,729.6L1187.3,727.7L1186.5,725.9L1185.7,724.0L1185.0,722.2L1184.2,720.3L1183.4,718.5L1182.6,716.6L1181.8,714.8L1181.0,712.9L1180.3,711.1L1179.5,709.2L1178.7,707.4L1177.9,705.5L1177.1,703.7L1176.3,701.9L1175.5,700.0L1174.7,698.2L1173.9,696.3L1173.1,694.5L1172.2,692.7L1171.4,690.8L1170.6,689.0L1169.8,687.2L1169.0,685.3L1168.1,683.5L1167.3,681.7L1166.5,679.8L1165.6,678.0L1164.8,676.2L1164.0,674.3L1163.1,672.5L1162.3,670.7L1161.4,668.9L1160.6,667.1L1159.7,665.2L1158.9,663.4L1158.0,661.6L1157.1,659.8L1156.3,658.0L1155.4,656.2L1154.5,654.4L1153.6,652.5L1152.7,650.7L1151.9,648.9L1151.0,647.1L1150.1,645.3L1149.2,643.5L1148.3,641.7L1147.4,639.9L1146.5,638.1L1145.6,636.3L1144.6,634.5L1143.7,632.8L1142.8,631.0L1141.9,629.2L1140.9,627.4L1140.0,625.6L1139.1,623.8L1138.1,622.1L1137.2,620.3L1136.2,618.5L1135.3,616.7L1134.3,615.0L1133.3,613.2L1132.4,611.4L1131.4,609.7L1130.4,607.9L1129.4,606.1L1128.5,604.4L1127.5,602.6L1126.5,600.9L1125.5,599.1L1124.5,597.4L1123.5,595.6L1122.5,593.9L1121.5,592.1L1120.4,590.4L1119.4,588.7L1118.4,586.9L1117.3,585.2L1116.3,583.5L1115.3,581.8L1114.2,580.0L1113.2,578.3L1112.1,576.6L1111.1,574.9L1110.0,573.2L1108.9,571.5L1107.8,569.8L1106.8,568.1L1105.7,566.4L1104.6,564.7L1103.5,563.0L1102.4,561.3L1101.3,559.6L1100.2,557.9L1099.1,556.2L1097.9,554.5L1096.8,552.9L1095.7,551.2L1094.5,549.5L1093.4,547.9L1092.3,546.2L1091.1,544.6L1090.0,542.9L1088.8,541.2L1087.6,539.6L1086.5,538.0L1085.3,536.3L1084.1,534.7L1082.9,533.0L1081.7,531.4L1080.5,529.8L1079.3,528.2L1078.1,526.6L1076.9,524.9L1075.7,523.3L1074.5,521.7L1073.2,520.1L1072.0,518.5L1070.8,516.9L1069.5,515.3L1068.3,513.7L1067.0,512.2L1065.7,510.6L1064.4,509.0L1063.2,507.4L1061.8,505.9L1060.5,504.3L1059.2,502.8L1057.8,501.2L1056.4,499.7L1055.1,498.2L1053.6,496.7L1052.2,495.2L1050.8,493.7L1049.3,492.3L1047.8,490.8L1046.2,489.4L1044.7,488.0L1043.1,486.6L1041.5,485.3L1039.8,484.0L1038.1,482.7L1036.4,481.4L1034.7,480.2L1032.9,479.0L1031.1,477.9L1029.2,476.8L1027.3,475.8L1025.4,474.8L1023.4,473.9L1021.4,473.1L1019.4,472.3L1017.4,471.5L1015.3,470.9L1013.2,470.3L1011.2,469.7L1009.1,469.3L1007.0,468.9L1004.9,468.5L1002.7,468.2L1000.6,467.9L998.5,467.7L996.4,467.6L994.3,467.5L992.2,467.5L990.0,467.4L987.9,467.5L985.8,467.6L983.7,467.7L981.7,467.8L979.6,468.0L977.5,468.2L975.4,468.5L973.4,468.8L971.3,469.1L969.3,469.5L967.2,469.8L965.2,470.2L963.2,470.7L961.2,471.1L959.1,471.6L957.1,472.1L955.2,472.6L953.2,473.2L951.2,473.7L949.2,474.3L947.3,474.9L945.3,475.6L943.4,476.2L941.4,476.9L939.5,477.5L937.6,478.2L935.6,478.9L933.7,479.7L931.8,480.4L929.9,481.2L928.0,481.9L926.2,482.7L924.3,483.5L922.4,484.3L920.5,485.1L918.7,485.9L916.8,486.8L915.0,487.6L913.1,488.5L911.3,489.4L909.5,490.2L907.6,491.1L905.8,492.0L904.0,493.0L902.2,493.9L900.4,494.8L898.6,495.8L896.8,496.7L895.0,497.7L893.2,498.6L891.5,499.6L889.7,500.6L887.9,501.6L886.2,502.6L884.4,503.6L882.7,504.7L880.9,505.7L879.2,506.7L877.5,507.8L875.7,508.8L874.0,509.9L872.3,511.0L870.6,512.1L868.9,513.2L867.2,514.2L865.5,515.3L863.8,516.5L862.1,517.6L860.4,518.7L858.7,519.8L857.1,520.9L855.4,522.1L853.7,523.2L852.1,524.4L850.4,525.5L848.7,526.7L847.1,527.8L845.5,529.0L843.8,530.2L842.2,531.4L840.5,532.5L838.9,533.7L837.3,534.9L835.7,536.1L834.0,537.3L832.4,538.5L830.8,539.7L829.2,540.9L827.6,542.1L826.0,543.3L824.4,544.5L822.8,545.7L821.2,546.9L819.6,548.1L818.0,549.3L816.4,550.5L814.8,551.7L813.2,552.9L811.6,554.1L810.0,555.4L808.4,556.6L806.8,557.8L805.2,559.0L803.6,560.2L802.0,561.4L800.4,562.6L798.8,563.8L797.2,565.1L795.6,566.3L794.0,567.5L792.4,568.8L790.8,570.0L789.3,571.2L787.7,572.5L786.1,573.7L784.5,575.0L782.9,576.2L781.4,577.5L779.8,578.8L778.2,580.0L776.7,581.3L775.1,582.6L773.5,583.9L772.0,585.2L770.4,586.5L768.9,587.8L767.4,589.1L765.8,590.5L764.3,591.8L762.8,593.2L761.3,594.5L759.8,595.9L758.3,597.3L756.8,598.7L755.3,600.1L753.9,601.5L752.4,602.9L751.0,604.3L749.5,605.8L748.1,607.2L746.7,608.7L745.2,610.2L743.8,611.7L742.5,613.2L741.1,614.7L739.7,616.2L738.4,617.8L737.0,619.3L735.7,620.9L734.4,622.4L733.1,624.0L731.8,625.6L730.6,627.2L729.3,628.8L728.1,630.4L726.8,632.1L725.6,633.7L724.4,635.3L723.2,636.9L722.0,638.6L720.8,640.2L719.7,641.9L718.5,643.5L717.3,645.2L716.2,646.8L715.0,648.5L713.9,650.2L712.8,651.8L711.6,653.5L710.5,655.1L709.4,656.8L708.2,658.5L707.1,660.1L706.0,661.8L704.9,663.5L703.8,665.1L702.7,666.8L701.5,668.5L700.4,670.1L699.3,671.8L698.2,673.4L697.1,675.1L696.0,676.7L694.8,678.4L693.7,680.0L692.6,681.7L691.5,683.3L690.3,684.9L689.2,686.6L688.1,688.2L686.9,689.8L685.8,691.5L684.6,693.1L683.5,694.7L682.3,696.4L681.2,698.0L680.0,699.6L678.9,701.3L677.7,702.9L676.5,704.5L675.4,706.1L674.2,707.7L673.0,709.4L671.9,711.0L670.7,712.6L669.5,714.2L668.4,715.9L667.2,717.5L666.0,719.1L664.9,720.7L663.7,722.4L662.5,724.0L661.4,725.6L660.2,727.2L659.0,728.9L657.8,730.5L656.7,732.1L655.5,733.7L654.3,735.4L653.2,737.0L652.0,738.6L650.8,740.3L649.7,741.9L648.5,743.5L647.4,745.2L646.2,746.8L645.0,748.5L643.9,750.1L642.7,751.7L641.6,753.4L640.4,755.0L639.3,756.7L638.1,758.3L637.0,760.0L635.9,761.7L634.7,763.3L633.6,765.0L632.5,766.7L631.3,768.3L630.2,770.0L629.1,771.7L628.0,773.3L626.9,775.0L625.8,776.7L624.7,778.4L623.6,780.1L622.5,781.8L621.4,783.5L620.3,785.2L619.2,786.9L618.2,788.6L617.1,790.3L616.0,792.0L615.0,793.8L613.9,795.5L612.9,797.2L611.8,799.0L610.8,800.7L609.8,802.4L608.8,804.2L607.8,805.9L606.7,807.7L605.7,809.4L604.8,811.2L603.8,813.0L602.8,814.8L601.8,816.5L600.9,818.3L599.9,820.1L599.0,821.9L598.0,823.7L597.1,825.5L596.2,827.3L595.3,829.1L594.4,830.9L593.5,832.8L592.6,834.6L591.8,836.4L590.9,838.3L590.0,840.1L589.2,841.9L588.3,843.8L587.5,845.6L586.7,847.4L585.9,849.3L585.1,851.1L584.3,853.0L583.5,854.8L582.7,856.7L581.9,858.6L581.1,860.4L580.3,862.3L579.5,864.1L578.8,866.0L578.0,867.9L577.3,869.7L576.5,871.6L575.7,873.4L575.0,875.3L574.2,877.2L573.5,879.0L572.8,880.9L572.0,882.8L571.3,884.6L570.6,886.5L569.8,888.4L569.1,890.2L568.4,892.1L567.6,894.0L566.9,895.8L566.2,897.7L565.4,899.6L564.7,901.4L564.0,903.3L563.2,905.1L562.5,907.0L561.8,908.9L561.0,910.7L560.3,912.6L559.6,914.4L558.8,916.3L558.1,918.1L557.3,920.0L556.6,921.8L555.8,923.7L555.1,925.5L554.3,927.3L553.6,929.2L552.8,931.0L552.0,932.8L551.2,934.7L550.4,936.5L549.7,938.3L548.9,940.1L548.1,941.9L547.3,943.7L546.4,945.6L545.6,947.4L544.8,949.2L544.0,951.0L543.1,952.7L542.3,954.5L541.4,956.3L540.6,958.1L539.7,959.9L538.8,961.6L537.9,963.4L537.0,965.2L536.1,966.9L535.2,968.7L534.3,970.4L533.3,972.1L532.4,973.9L531.4,975.6L530.5,977.3L529.5,979.0L528.5,980.7L527.5,982.4L526.5,984.1L525.5,985.8L524.5,987.5L523.4,989.2L522.4,990.9L521.4,992.5L520.3,994.2L519.2,995.9L518.1,997.5L517.1,999.2L516.0,1000.8L514.9,1002.4L513.7,1004.1L512.6,1005.7L511.5,1007.3L510.3,1008.9L509.2,1010.5L508.0,1012.1L506.9,1013.7L505.7,1015.3L504.5,1016.9L503.3,1018.5L502.1,1020.1L500.9,1021.6L499.7,1023.2L498.5,1024.7L497.3,1026.3L496.1,1027.8L494.8,1029.4L493.6,1030.9L492.3,1032.5L491.1,1034.0L489.8,1035.5L488.5,1037.0L487.2,1038.5L486.0,1040.0L484.7,1041.5L483.4,1043.0L482.1,1044.5L480.7,1046.0L479.4,1047.5L478.1,1048.9L476.8,1050.4L475.4,1051.9L474.1,1053.3L472.7,1054.8L471.4,1056.2L470.0,1057.7L468.7,1059.1L467.3,1060.5L465.9,1062.0L464.5,1063.4L463.2,1064.8L461.8,1066.2L460.4,1067.6L459.0,1069.0L457.6,1070.4L456.2,1071.7L454.7,1073.1L453.3,1074.5L451.9,1075.8L450.4,1077.1L449.0,1078.4L447.5,1079.7L446.0,1081.0L444.6,1082.3L443.1,1083.5L441.6,1084.8L440.0,1086.0L438.5,1087.2L437.0,1088.4L435.4,1089.5L433.9,1090.6L432.3,1091.8L430.7,1092.8L429.1,1093.9L427.5,1094.9L425.9,1095.9L424.2,1096.9L422.6,1097.8L420.9,1098.8L419.2,1099.6L417.5,1100.5L415.8,1101.3L414.1,1102.0L412.3,1102.8L410.5,1103.4L408.8,1104.1L407.0,1104.7L405.2,1105.3L403.4,1105.8L401.6,1106.3L399.7,1106.8L397.9,1107.2L396.1,1107.5L394.2,1107.9L392.3,1108.1L390.5,1108.4L388.6,1108.6L386.7,1108.7L384.8,1108.8L383.0,1108.9L381.1,1108.9L379.2,1108.9L377.3,1108.9L375.4,1108.8L373.5,1108.6L371.6,1108.5L369.7,1108.2L367.9,1108.0L366.0,1107.7L364.1,1107.4L362.2,1107.1L360.3,1106.7L358.4,1106.3L356.6,1105.9L354.7,1105.4L352.8,1104.9L350.9,1104.4L349.1,1103.9L347.2,1103.4L345.3,1102.8L343.5,1102.2L341.6,1101.6L339.8,1101.0L337.9,1100.3L336.1,1099.7L334.3,1099.0L332.4,1098.3L330.6,1097.6L328.8,1096.9L326.9,1096.2L325.1,1095.4L323.3,1094.7L321.5,1093.9L319.7,1093.1L317.8,1092.3L316.0,1091.5L314.2,1090.7L312.4,1089.9L310.6,1089.1L308.8,1088.3L307.0,1087.5L305.2,1086.6L303.4,1085.8L301.6,1085.0L299.8,1084.1L297.9,1083.3L296.1,1082.4L294.3,1081.6L292.5,1080.7L290.7,1079.9L288.9,1079.0L287.1,1078.2L285.3,1077.3L283.5,1076.5L281.6,1075.6L279.8,1074.8L278.0,1073.9L276.2,1073.1L274.4,1072.2L272.6,1071.4L270.8,1070.5L269.0,1069.7L267.2,1068.8L265.4,1067.9L263.6,1067.1L261.8,1066.2L260.0,1065.3L258.2,1064.5L256.4,1063.6L254.7,1062.7L252.9,1061.8L251.1,1061.0L249.3,1060.1L247.5,1059.2L245.8,1058.3L244.0,1057.4L242.2,1056.5L240.5,1055.6L238.7,1054.7L236.9,1053.7L235.2,1052.8L233.4,1051.9L231.7,1051.0L229.9,1050.0L228.2,1049.1L226.5,1048.1L224.7,1047.2L223.0,1046.2L221.3,1045.2L219.6,1044.3L217.8,1043.3L216.1,1042.3L214.4,1041.3L212.7,1040.3L211.0,1039.3L209.3,1038.2L207.7,1037.2L206.0,1036.2L204.3,1035.1L202.6,1034.1Z"/>
<path fill="#ff0000" d="M194.6,1014.9L196.1,1016.3L197.5,1017.8L199.1,1019.3L200.6,1020.7L202.1,1022.1L203.7,1023.4L205.3,1024.8L206.9,1026.1L208.5,1027.4L210.1,1028.7L211.8,1030.0L213.4,1031.2L215.1,1032.5L216.7,1033.7L218.4,1034.9L220.1,1036.0L221.8,1037.2L223.5,1038.3L225.2,1039.5L227.0,1040.6L228.7,1041.7L230.4,1042.7L232.1,1043.8L233.9,1044.9L235.6,1045.9L237.4,1047.0L239.1,1048.0L240.9,1049.0L242.6,1050.0L244.4,1051.0L246.1,1052.0L247.9,1053.0L249.6,1054.0L251.4,1055.0L253.1,1055.9L254.9,1056.9L256.6,1057.9L258.4,1058.9L260.1,1059.8L261.9,1060.8L263.6,1061.8L265.3,1062.8L267.1,1063.8L268.8,1064.7L270.5,1065.7L272.3,1066.7L274.0,1067.7L275.7,1068.7L277.4,1069.7L279.1,1070.7L280.9,1071.7L282.6,1072.7L284.3,1073.7L286.0,1074.8L287.7,1075.8L289.4,1076.8L291.1,1077.8L292.8,1078.9L294.5,1079.9L296.2,1080.9L297.9,1082.0L299.6,1083.0L301.3,1084.1L303.0,1085.1L304.6,1086.2L306.3,1087.2L308.0,1088.3L309.7,1089.4L311.4,1090.4L313.0,1091.5L314.7,1092.6L316.4,1093.7L318.0,1094.8L319.7,1095.9L321.4,1097.0L323.0,1098.1L324.7,1099.2L326.4,1100.3L328.1,1101.4L329.8,1102.5L331.5,1103.6L333.2,1104.7L334.9,1105.8L336.6,1106.9L338.4,1107.9L340.2,1109.0L341.9,1110.0L343.7,1111.0L345.5,1112.0L347.3,1113.0L349.2,1114.0L351.0,1114.9L352.9,1115.8L354.8,1116.7L356.7,1117.5L358.7,1118.4L360.6,1119.1L362.6,1119.9L364.6,1120.6L366.6,1121.2L368.6,1121.9L370.7,1122.4L372.7,1123.0L374.8,1123.5L376.9,1123.9L379.0,1124.3L381.1,1124.6L383.2,1124.9L385.3,1125.1L387.5,1125.3L389.6,1125.4L391.8,1125.4L394.0,1125.4L396.1,1125.3L398.3,1125.1L400.5,1124.9L402.7,1124.5L404.8,1124.1L407.0,1123.6L409.1,1123.1L411.2,1122.4L413.2,1121.7L415.3,1120.9L417.2,1120.1L419.2,1119.2L421.1,1118.2L423.0,1117.2L424.9,1116.2L426.7,1115.1L428.5,1114.0L430.3,1112.8L432.0,1111.7L433.7,1110.4L435.4,1109.2L437.1,1107.9L438.7,1106.7L440.3,1105.4L441.9,1104.0L443.5,1102.7L445.0,1101.3L446.6,1100.0L448.1,1098.6L449.6,1097.2L451.1,1095.8L452.5,1094.4L454.0,1092.9L455.4,1091.5L456.9,1090.1L458.3,1088.6L459.7,1087.2L461.1,1085.8L462.5,1084.3L463.9,1082.8L465.3,1081.4L466.7,1079.9L468.1,1078.4L469.5,1076.9L470.8,1075.4L472.2,1073.9L473.6,1072.4L474.9,1070.9L476.2,1069.4L477.6,1067.9L478.9,1066.4L480.2,1064.8L481.6,1063.3L482.9,1061.8L484.2,1060.2L485.5,1058.7L486.8,1057.1L488.0,1055.6L489.3,1054.0L490.6,1052.4L491.9,1050.9L493.1,1049.3L494.4,1047.7L495.6,1046.1L496.9,1044.5L498.1,1042.9L499.3,1041.3L500.6,1039.7L501.8,1038.1L503.0,1036.5L504.2,1034.8L505.4,1033.2L506.6,1031.6L507.8,1029.9L508.9,1028.3L510.1,1026.7L511.3,1025.0L512.5,1023.4L513.6,1021.7L514.8,1020.1L515.9,1018.4L517.0,1016.7L518.2,1015.1L519.3,1013.4L520.4,1011.7L521.6,1010.0L522.7,1008.3L523.8,1006.7L524.9,1005.0L526.0,1003.3L527.1,1001.6L528.1,999.9L529.2,998.2L530.3,996.5L531.4,994.7L532.4,993.0L533.5,991.3L534.5,989.6L535.6,987.9L536.6,986.2L537.7,984.4L538.7,982.7L539.7,981.0L540.7,979.2L541.8,977.5L542.8,975.7L543.8,974.0L544.8,972.3L545.8,970.5L546.8,968.8L547.8,967.0L548.8,965.2L549.8,963.5L550.7,961.7L551.7,960.0L552.7,958.2L553.6,956.4L554.6,954.7L555.6,952.9L556.5,951.1L557.5,949.4L558.4,947.6L559.4,945.8L560.3,944.0L561.2,942.2L562.2,940.5L563.1,938.7L564.0,936.9L564.9,935.1L565.9,933.3L566.8,931.5L567.7,929.7L568.6,927.9L569.5,926.1L570.4,924.4L571.3,922.6L572.2,920.8L573.1,919.0L574.0,917.2L574.9,915.4L575.7,913.6L576.6,911.8L577.5,909.9L578.4,908.1L579.3,906.3L580.1,904.5L581.0,902.7L581.9,900.9L582.7,899.1L583.6,897.3L584.5,895.5L585.3,893.7L586.2,891.9L587.0,890.0L587.9,888.2L588.8,886.4L589.6,884.6L590.5,882.8L591.3,881.0L592.2,879.1L593.0,877.3L593.8,875.5L594.7,873.7L595.5,871.9L596.4,870.0L597.2,868.2L598.0,866.4L598.9,864.6L599.7,862.8L600.6,861.0L601.4,859.1L602.2,857.3L603.1,855.5L603.9,853.7L604.7,851.8L605.6,850.0L606.4,848.2L607.2,846.4L608.1,844.6L608.9,842.7L609.7,840.9L610.5,839.1L611.4,837.3L612.2,835.5L613.0,833.6L613.9,831.8L614.7,830.0L615.5,828.2L616.4,826.4L617.2,824.5L618.0,822.7L618.9,820.9L619.7,819.1L620.5,817.3L621.4,815.5L622.2,813.6L623.0,811.8L623.9,810.0L624.7,808.2L625.5,806.4L626.4,804.6L627.2,802.8L628.1,800.9L628.9,799.1L629.8,797.3L630.6,795.5L631.4,793.7L632.3,791.9L633.1,790.1L634.0,788.3L634.8,786.5L635.7,784.6L636.5,782.8L637.4,781.0L638.2,779.2L639.1,777.4L639.9,775.6L640.8,773.8L641.6,772.0L642.5,770.2L643.4,768.4L644.2,766.6L645.1,764.8L645.9,763.0L646.8,761.2L647.7,759.4L648.5,757.6L649.4,755.8L650.3,754.0L651.2,752.2L652.0,750.4L652.9,748.6L653.8,746.8L654.7,745.0L655.5,743.2L656.4,741.4L657.3,739.6L658.2,737.9L659.1,736.1L659.9,734.3L660.8,732.5L661.7,730.7L662.6,728.9L663.5,727.1L664.4,725.3L665.3,723.6L666.2,721.8L667.1,720.0L668.0,718.2L668.9,716.4L669.8,714.7L670.7,712.9L671.6,711.1L672.5,709.3L673.5,707.6L674.4,705.8L675.3,704.0L676.2,702.2L677.1,700.5L678.1,698.7L679.0,696.9L679.9,695.2L680.8,693.4L681.8,691.7L682.7,689.9L683.7,688.1L684.6,686.4L685.5,684.6L686.5,682.9L687.4,681.1L688.4,679.4L689.3,677.6L690.3,675.9L691.2,674.1L692.2,672.4L693.2,670.6L694.1,668.9L695.1,667.1L696.1,665.4L697.0,663.6L698.0,661.9L699.0,660.2L700.0,658.4L700.9,656.7L701.9,655.0L702.9,653.2L703.9,651.5L704.9,649.8L705.9,648.0L706.9,646.3L707.9,644.6L708.9,642.9L709.9,641.2L710.9,639.4L711.9,637.7L712.9,636.0L714.0,634.3L715.0,632.6L716.0,630.9L717.0,629.2L718.1,627.5L719.1,625.8L720.1,624.1L721.2,622.4L722.2,620.7L723.3,619.0L724.3,617.3L725.4,615.6L726.4,613.9L727.5,612.2L728.5,610.5L729.6,608.9L730.7,607.2L731.8,605.5L732.8,603.8L733.9,602.2L735.0,600.5L736.1,598.8L737.2,597.2L738.3,595.5L739.4,593.8L740.5,592.2L741.6,590.5L742.7,588.9L743.8,587.2L744.9,585.6L746.0,583.9L747.1,582.3L748.3,580.6L749.4,579.0L750.5,577.4L751.7,575.7L752.8,574.1L753.9,572.5L755.1,570.9L756.2,569.2L757.4,567.6L758.6,566.0L759.7,564.4L760.9,562.8L762.1,561.2L763.2,559.6L764.4,558.0L765.6,556.4L766.8,554.8L768.0,553.2L769.2,551.6L770.4,550.0L771.6,548.4L772.8,546.8L774.0,545.3L775.2,543.7L776.4,542.1L777.6,540.6L778.9,539.0L780.1,537.4L781.3,535.9L782.6,534.3L783.8,532.8L785.1,531.2L786.3,529.7L787.6,528.1L788.8,526.6L790.1,525.1L791.4,523.5L792.6,522.0L793.9,520.5L795.2,519.0L796.5,517.5L797.8,516.0L799.1,514.5L800.4,513.0L801.7,511.5L803.0,510.0L804.3,508.5L805.6,507.0L806.9,505.5L808.3,504.0L809.6,502.6L810.9,501.1L812.3,499.6L813.6,498.2L815.0,496.7L816.3,495.2L817.7,493.8L819.0,492.4L820.4,490.9L821.8,489.5L823.1,488.1L824.5,486.6L825.9,485.2L827.3,483.8L828.7,482.4L830.1,481.0L831.5,479.6L832.9,478.2L834.3,476.8L835.7,475.4L837.1,474.0L838.6,472.6L840.0,471.2L841.4,469.9L842.9,468.5L844.3,467.1L845.8,465.8L847.2,464.4L848.7,463.1L850.1,461.7L851.6,460.4L853.1,459.0L854.5,457.7L856.0,456.3L857.5,455.0L858.9,453.6L860.4,452.3L861.9,451.0L863.4,449.6L864.9,448.3L866.4,447.0L867.9,445.6L869.3,444.3L870.8,443.0L872.3,441.6L873.8,440.3L875.3,439.0L876.8,437.7L878.3,436.3L879.8,435.0L881.3,433.7L882.8,432.3L884.3,431.0L885.8,429.7L887.3,428.3L888.8,427.0L890.3,425.6L891.8,424.3L893.2,423.0L894.7,421.6L896.2,420.3L897.7,418.9L899.2,417.6L900.7,416.2L902.2,414.8L903.6,413.5L905.1,412.1L906.6,410.7L908.1,409.4L909.5,408.0L911.0,406.6L912.4,405.2L913.9,403.9L915.4,402.5L916.8,401.1L918.3,399.7L919.7,398.4L921.2,397.0L922.6,395.6L924.1,394.3L925.5,392.9L927.0,391.6L928.4,390.2L929.9,388.9L931.4,387.6L932.8,386.2L934.3,384.9L935.8,383.6L937.3,382.3L938.8,381.0L940.3,379.7L941.8,378.5L943.3,377.2L944.8,376.0L946.3,374.7L947.9,373.5L949.4,372.3L951.0,371.1L952.5,370.0L954.1,368.8L955.7,367.7L957.3,366.6L958.9,365.5L960.5,364.4L962.1,363.3L963.7,362.3L965.4,361.3L967.0,360.3L968.7,359.4L970.4,358.4L972.1,357.5L973.8,356.7L975.5,355.8L977.3,355.0L979.0,354.2L980.7,353.4L982.5,352.7L984.3,352.0L986.1,351.4L987.9,350.7L989.7,350.2L991.5,349.6L993.3,349.1L995.2,348.6L997.0,348.2L998.8,347.8L1000.7,347.5L1002.5,347.2L1004.4,346.9L1006.2,346.7L1008.1,346.6L1009.9,346.5L1011.8,346.4L1013.6,346.4L1015.5,346.5L1017.3,346.6L1019.1,346.8L1020.9,347.1L1022.7,347.4L1024.5,347.8L1026.2,348.3L1027.9,348.8L1029.7,349.4L1031.4,350.0L1033.1,350.7L1034.8,351.5L1036.4,352.3L1038.1,353.2L1039.7,354.1L1041.4,355.0L1043.0,356.0L1044.6,357.0L1046.2,358.1L1047.7,359.2L1049.3,360.3L1050.8,361.5L1052.4,362.6L1053.9,363.8L1055.4,365.0L1056.9,366.3L1058.3,367.5L1059.8,368.8L1061.2,370.1L1062.7,371.4L1064.1,372.8L1065.4,374.1L1066.8,375.5L1068.2,376.9L1069.5,378.3L1070.9,379.7L1072.2,381.1L1073.5,382.6L1074.7,384.0L1076.0,385.5L1077.3,387.0L1078.5,388.5L1079.7,390.0L1080.9,391.6L1082.1,393.1L1083.3,394.7L1084.5,396.2L1085.6,397.8L1086.8,399.4L1087.9,401.0L1089.0,402.6L1090.1,404.2L1091.2,405.9L1092.3,407.5L1093.4,409.1L1094.4,410.8L1095.4,412.5L1096.5,414.1L1097.5,415.8L1098.5,417.5L1099.5,419.2L1100.5,420.9L1101.5,422.6L1102.5,424.3L1103.4,426.1L1104.4,427.8L1105.3,429.5L1106.3,431.3L1107.2,433.0L1108.1,434.8L1109.0,436.5L1110.0,438.3L1110.9,440.0L1111.8,441.8L1112.7,443.6L1113.5,445.3L1114.4,447.1L1115.3,448.9L1116.2,450.7L1117.0,452.5L1117.9,454.3L1118.8,456.1L1119.6,457.9L1120.5,459.7L1121.3,461.5L1122.2,463.3L1123.0,465.1L1123.9,466.9L1124.7,468.7L1125.5,470.5L1126.4,472.3L1127.2,474.1L1128.0,475.9L1128.8,477.7L1129.7,479.6L1130.5,481.4L1131.3,483.2L1132.1,485.0L1132.9,486.8L1133.7,488.7L1134.6,490.5L1135.4,492.3L1136.2,494.1L1137.0,496.0L1137.8,497.8L1138.5,499.6L1139.3,501.4L1140.1,503.3L1140.9,505.1L1141.7,506.9L1142.5,508.8L1143.3,510.6L1144.0,512.5L1144.8,514.3L1145.6,516.1L1146.4,518.0L1147.1,519.8L1147.9,521.7L1148.7,523.5L1149.4,525.3L1150.2,527.2L1150.9,529.0L1151.7,530.9L1152.4,532.7L1153.2,534.6L1153.9,536.4L1154.7,538.3L1155.4,540.1L1156.2,542.0L1156.9,543.8L1157.7,545.7L1158.4,547.5L1159.1,549.4L1159.9,551.3L1160.6,553.1L1161.3,555.0L1162.1,556.8L1162.8,558.7L1163.5,560.5L1164.2,562.4L1164.9,564.3L1165.7,566.1L1166.4,568.0L1167.1,569.9L1167.8,571.7L1168.5,573.6L1169.2,575.4L1170.0,577.3L1170.7,579.2L1171.4,581.0L1172.1,582.9L1172.8,584.8L1173.5,586.7L1174.2,588.5L1174.9,590.4L1175.6,592.3L1176.3,594.1L1177.0,596.0L1177.7,597.9L1178.4,599.8L1179.1,601.6L1179.8,603.5L1180.5,605.4L1181.2,607.3L1181.8,609.1L1182.5,611.0L1183.2,612.9L1183.9,614.8L1184.6,616.6L1185.3,618.5L1186.0,620.4L1186.6,622.3L1187.3,624.1L1188.0,626.0L1188.7,627.9L1189.4,629.8L1190.1,631.7L1190.7,633.5L1191.4,635.4L1192.1,637.3L1192.8,639.2L1193.4,641.1L1194.1,642.9L1194.8,644.8L1195.5,646.7L1196.1,648.6L1196.8,650.5L1197.5,652.4L1198.2,654.2L1198.8,656.1L1199.5,658.0L1200.2,659.9L1200.9,661.8L1201.5,663.7L1202.2,665.5L1202.9,667.4L1203.5,669.3L1204.2,671.2L1204.9,673.1L1205.5,675.0L1206.2,676.9L1206.9,678.7L1207.5,680.6L1208.2,682.5L1208.9,684.4L1209.5,686.3L1210.2,688.2L1210.9,690.1L1211.5,691.9L1212.2,693.8L1212.9,695.7L1213.5,697.6L1214.2,699.5L1214.9,701.4L1215.5,703.3L1216.2,705.1L1216.8,707.0L1217.5,708.9L1218.2,710.8L1218.8,712.7L1219.5,714.6L1220.2,716.5L1220.8,718.4L1221.5,720.2L1222.1,722.1L1222.8,724.0L1223.5,725.9L1224.1,727.8L1224.8,729.7L1225.4,731.6L1226.1,733.5L1226.8,735.4L1227.4,737.2L1228.1,739.1L1228.7,741.0L1229.4,742.9L1230.1,744.8L1230.7,746.7L1231.4,748.6L1232.0,750.5L1232.7,752.4L1233.3,754.3L1234.0,756.1L1234.7,758.0L1235.3,759.9L1236.0,761.8L1236.6,763.7L1237.3,765.6L1238.0,767.5L1238.6,769.4L1239.3,771.3L1239.9,773.1L1240.6,775.0L1241.2,776.9L1241.9,778.8L1242.6,780.7L1243.2,782.6L1243.9,784.5L1244.5,786.4L1245.2,788.3L1245.8,790.2L1246.5,792.0L1247.2,793.9L1247.8,795.8L1248.5,797.7L1249.1,799.6L1249.8,801.5L1250.5,803.4L1251.1,805.3L1251.8,807.2L1252.4,809.1L1253.1,810.9L1253.8,812.8L1254.4,814.7L1255.1,816.6L1255.7,818.5L1256.4,820.4L1257.1,822.3L1257.7,824.2L1258.4,826.1L1259.0,827.9L1259.7,829.8L1260.4,831.7L1261.0,833.6L1261.7,835.5L1262.4,837.4L1263.0,839.3L1263.7,841.2L1264.3,843.1L1265.0,844.9L1265.7,846.8L1266.3,848.7L1267.0,850.6L1267.7,852.5L1268.3,854.4L1269.0,856.3L1269.7,858.2L1270.3,860.1L1271.0,861.9L1271.7,863.8L1272.3,865.7L1273.0,867.6L1273.7,869.5L1274.3,871.4L1275.0,873.3L1275.7,875.1L1276.4,877.0L1277.0,878.9L1277.7,880.8L1278.4,882.7L1279.0,884.6L1279.7,886.5L1280.4,888.4L1281.1,890.2L1281.7,892.1L1282.4,894.0L1283.1,895.9L1283.8,897.8L1284.4,899.7L1285.1,901.5L1285.8,903.4L1286.5,905.3L1287.2,907.2L1287.9,909.1L1288.5,911.0L1289.2,912.9L1289.9,914.7L1290.6,916.6L1291.3,918.5L1292.0,920.4L1292.7,922.3L1293.4,924.1L1294.1,926.0L1294.8,927.9L1295.5,929.8L1296.2,931.7L1296.9,933.5L1297.6,935.4L1298.3,937.3L1299.0,939.2L1299.7,941.0L1300.5,942.9L1301.2,944.8L1301.9,946.7L1302.6,948.5L1303.3,950.4L1304.1,952.3L1304.8,954.2L1305.5,956.0L1306.3,957.9L1307.0,959.8L1307.7,961.6L1308.5,963.5L1309.2,965.4L1310.0,967.2L1310.7,969.1L1311.5,970.9L1312.2,972.8L1313.0,974.7L1313.8,976.5L1314.5,978.4L1315.3,980.2L1316.1,982.1L1316.9,983.9L1317.6,985.8L1318.4,987.6L1319.2,989.5L1320.0,991.3L1320.8,993.2L1321.6,995.0L1322.4,996.9L1323.2,998.7L1324.0,1000.6L1324.8,1002.4L1325.6,1004.2L1326.5,1006.1L1327.3,1007.9L1328.1,1009.7L1329.0,1011.6L1329.8,1013.4L1330.6,1015.2L1331.5,1017.1L1332.3,1018.9L1333.2,1020.7L1334.1,1022.5L1334.9,1024.3L1335.8,1026.2L1336.7,1028.0L1337.5,1029.8L1338.4,1031.6L1339.3,1033.4L1340.2,1035.2L1341.1,1037.0L1342.0,1038.8L1342.9,1040.6L1343.8,1042.4L1344.8,1044.2L1345.7,1046.0L1346.6,1047.8L1347.5,1049.6L1348.5,1051.4L1349.4,1053.1L1350.4,1054.9L1351.3,1056.7L1352.3,1058.5L1353.3,1060.2L1354.2,1062.0L1355.2,1063.8L1356.2,1065.5L1357.2,1067.3L1358.2,1069.0L1359.2,1070.8L1360.2,1072.5L1361.2,1074.3L1362.2,1076.0L1363.2,1077.8L1364.3,1079.5L1365.3,1081.2L1366.3,1083.0L1367.4,1084.7L1368.4,1086.4L1369.5,1088.1L1370.6,1089.8L1371.6,1091.6L1372.7,1093.3L1373.8,1095.0L1374.9,1096.7L1376.0,1098.4L1377.1,1100.1L1378.2,1101.7L1379.3,1103.4L1380.5,1105.1L1381.6,1106.8L1382.7,1108.4L1383.9,1110.1L1385.0,1111.8L1386.2,1113.4L1387.3,1115.1L1388.5,1116.7L1389.7,1118.4L1390.9,1120.0L1392.1,1121.6L1393.3,1123.3L1394.5,1124.9L1395.7,1126.5L1396.9,1128.1L1398.1,1129.7L1399.4,1131.3L1400.6,1132.9L1401.8,1134.5L1403.1,1136.1L1404.4,1137.7L1405.6,1139.3L1406.9,1140.8L1408.2,1142.4L1409.5,1144.0L1410.8,1145.5L1412.1,1147.1L1413.4,1148.6L1414.7,1150.1L1416.0,1151.7L1417.4,1153.2L1418.7,1154.7L1420.1,1156.2L1421.4,1157.7L1422.8,1159.2L1424.1,1160.7L1425.5,1162.2L1426.9,1163.7L1428.3,1165.2L1429.7,1166.6L1431.1,1168.1L1432.6,1169.5L1434.0,1171.0L1435.4,1172.4L1436.9,1173.8L1438.3,1175.2L1439.8,1176.6L1441.3,1178.0L1442.8,1179.4L1444.3,1180.8L1445.8,1182.2L1447.3,1183.5L1448.8,1184.9L1450.4,1186.2L1451.9,1187.5L1453.5,1188.9L1455.0,1190.2L1456.6,1191.5L1458.2,1192.7L1459.8,1194.0L1461.4,1195.3L1463.0,1196.5L1464.7,1197.7L1466.3,1198.9L1468.0,1200.1L1469.6,1201.3L1471.3,1202.5L1473.0,1203.7L1474.7,1204.8L1476.4,1205.9L1478.1,1207.0L1479.9,1208.1L1481.6,1209.2L1483.4,1210.2L1485.2,1211.3L1486.9,1212.3L1488.7,1213.3L1490.5,1214.2L1492.4,1215.2L1494.2,1216.1L1496.0,1217.0L1497.9,1217.9L1499.7,1218.8L1501.6,1219.6L1503.5,1220.5L1505.4,1221.3L1507.3,1222.1L1509.2,1222.8L1511.1,1223.6L1513.0,1224.3L1515.0,1225.0L1516.9,1225.7L1518.8,1226.3L1520.8,1226.9L1522.7,1227.6L1524.7,1228.1L1526.7,1228.7L1528.6,1229.3L1530.6,1229.8L1532.6,1230.3L1534.6,1230.8L1536.5,1231.3L1538.5,1231.7L1540.5,1232.2L1542.5,1232.6L1544.5,1233.0L1546.5,1233.4L1548.5,1233.8L1550.5,1234.1L1552.5,1234.5L1554.5,1234.8L1556.5,1235.1L1558.5,1235.4L1560.5,1235.7L1562.6,1236.0L1564.6,1236.2L1566.6,1236.5L1568.6,1236.7L1570.6,1237.0L1572.6,1237.2L1574.6,1237.4L1576.6,1237.6L1578.6,1237.8L1580.7,1238.0L1582.7,1238.2L1584.7,1238.3L1586.7,1238.5L1588.7,1238.6L1590.7,1238.7L1592.7,1238.8L1594.8,1238.9L1596.8,1239.1L1598.8,1239.1L1600.8,1239.2L1602.8,1239.3L1604.8,1239.4L1606.8,1239.4L1608.9,1239.5L1610.9,1239.5L1612.9,1239.6L1614.9,1239.6L1616.9,1239.6L1618.9,1239.7L1620.9,1239.7L1622.9,1239.7L1625.0,1239.7L1627.0,1239.7L1629.0,1239.7L1631.0,1239.7L1633.0,1239.7L1635.0,1239.7L1637.0,1239.7L1639.0,1239.7L1641.0,1239.6L1643.0,1239.6L1645.0,1239.6L1647.0,1239.6L1649.0,1239.5L1651.0,1239.5L1653.1,1239.5L1655.1,1239.4L1657.1,1239.4L1659.1,1239.3L1661.1,1239.3L1663.1,1239.3L1665.1,1239.2L1667.1,1239.2L1669.1,1239.1L1671.1,1239.1L1673.1,1239.1L1675.1,1239.0L1677.1,1239.0L1679.1,1239.0L1681.0,1238.9L1683.0,1238.9L1685.0,1238.9L1687.0,1238.9L1689.0,1238.8L1691.0,1238.8L1693.0,1238.8L1695.0,1238.8L1697.0,1238.8L1699.0,1238.8L1701.0,1238.8L1703.0,1238.8L1705.0,1238.8L1707.0,1238.8L1708.9,1238.9L1710.9,1238.9L1712.9,1238.9L1714.9,1239.0L1716.9,1239.0L1718.9,1239.1L1720.9,1239.2L1722.8,1239.3L1724.8,1239.3L1726.8,1239.4L1728.8,1239.6L1730.9,1239.6L1733.0,1239.6L1735.0,1239.6L1735.0,1232.4L1733.0,1232.4L1731.1,1232.4L1729.2,1232.3L1727.2,1232.2L1725.2,1232.0L1723.2,1231.9L1721.2,1231.9L1719.1,1231.8L1717.1,1231.7L1715.1,1231.6L1713.1,1231.6L1711.1,1231.5L1709.1,1231.5L1707.1,1231.4L1705.1,1231.4L1703.0,1231.4L1701.0,1231.4L1699.0,1231.4L1697.0,1231.4L1695.0,1231.4L1693.0,1231.4L1691.0,1231.4L1689.0,1231.4L1687.0,1231.4L1685.0,1231.4L1683.0,1231.4L1681.0,1231.4L1678.9,1231.5L1676.9,1231.5L1674.9,1231.5L1672.9,1231.5L1670.9,1231.6L1668.9,1231.6L1666.9,1231.6L1664.9,1231.7L1662.9,1231.7L1660.9,1231.7L1658.9,1231.8L1656.9,1231.8L1654.9,1231.8L1652.9,1231.8L1650.9,1231.9L1648.9,1231.9L1646.9,1231.9L1644.9,1231.9L1642.9,1232.0L1640.9,1232.0L1639.0,1232.0L1637.0,1232.0L1635.0,1232.0L1633.0,1232.0L1631.0,1232.0L1629.0,1232.0L1627.0,1232.0L1625.0,1232.0L1623.0,1232.0L1621.0,1231.9L1619.0,1231.9L1617.0,1231.9L1615.0,1231.8L1613.1,1231.8L1611.1,1231.8L1609.1,1231.7L1607.1,1231.6L1605.1,1231.6L1603.1,1231.5L1601.1,1231.4L1599.2,1231.3L1597.2,1231.2L1595.2,1231.1L1593.2,1231.0L1591.2,1230.9L1589.3,1230.7L1587.3,1230.6L1585.3,1230.4L1583.3,1230.3L1581.3,1230.1L1579.4,1229.9L1577.4,1229.7L1575.4,1229.5L1573.5,1229.3L1571.5,1229.1L1569.5,1228.8L1567.6,1228.6L1565.6,1228.3L1563.7,1228.1L1561.7,1227.8L1559.8,1227.5L1557.8,1227.1L1555.9,1226.8L1553.9,1226.4L1552.0,1226.0L1550.1,1225.6L1548.2,1225.2L1546.2,1224.8L1544.3,1224.4L1542.4,1223.9L1540.5,1223.5L1538.6,1223.0L1536.7,1222.5L1534.8,1221.9L1532.9,1221.4L1531.0,1220.9L1529.2,1220.3L1527.3,1219.7L1525.5,1219.1L1523.6,1218.5L1521.8,1217.8L1519.9,1217.1L1518.1,1216.5L1516.3,1215.7L1514.5,1215.0L1512.7,1214.3L1510.9,1213.5L1509.1,1212.7L1507.3,1211.9L1505.6,1211.1L1503.8,1210.3L1502.1,1209.4L1500.3,1208.5L1498.6,1207.6L1496.9,1206.7L1495.2,1205.7L1493.5,1204.8L1491.8,1203.8L1490.1,1202.8L1488.4,1201.8L1486.8,1200.7L1485.1,1199.7L1483.5,1198.6L1481.9,1197.6L1480.2,1196.5L1478.6,1195.4L1477.0,1194.3L1475.4,1193.2L1473.8,1192.0L1472.2,1190.9L1470.7,1189.7L1469.1,1188.5L1467.5,1187.3L1466.0,1186.1L1464.5,1184.9L1462.9,1183.7L1461.4,1182.4L1459.9,1181.2L1458.4,1179.9L1456.9,1178.6L1455.4,1177.3L1454.0,1176.0L1452.5,1174.7L1451.0,1173.4L1449.6,1172.1L1448.1,1170.7L1446.7,1169.4L1445.3,1168.0L1443.9,1166.7L1442.5,1165.3L1441.1,1163.9L1439.7,1162.5L1438.3,1161.1L1436.9,1159.7L1435.6,1158.2L1434.2,1156.8L1432.9,1155.4L1431.5,1153.9L1430.2,1152.5L1428.8,1151.0L1427.5,1149.5L1426.2,1148.1L1424.9,1146.6L1423.6,1145.1L1422.3,1143.6L1421.0,1142.1L1419.7,1140.6L1418.5,1139.1L1417.2,1137.6L1415.9,1136.0L1414.7,1134.5L1413.4,1133.0L1412.2,1131.4L1411.0,1129.9L1409.7,1128.3L1408.5,1126.8L1407.3,1125.2L1406.1,1123.6L1404.9,1122.1L1403.7,1120.5L1402.5,1118.9L1401.3,1117.3L1400.2,1115.7L1399.0,1114.1L1397.8,1112.5L1396.7,1110.9L1395.5,1109.3L1394.4,1107.7L1393.3,1106.0L1392.1,1104.4L1391.0,1102.8L1389.9,1101.1L1388.8,1099.5L1387.7,1097.8L1386.6,1096.2L1385.5,1094.5L1384.4,1092.9L1383.3,1091.2L1382.3,1089.5L1381.2,1087.9L1380.1,1086.2L1379.1,1084.5L1378.0,1082.8L1377.0,1081.2L1376.0,1079.5L1374.9,1077.8L1373.9,1076.1L1372.9,1074.4L1371.9,1072.7L1370.9,1070.9L1369.9,1069.2L1368.9,1067.5L1367.9,1065.8L1366.9,1064.1L1365.9,1062.3L1365.0,1060.6L1364.0,1058.9L1363.0,1057.1L1362.1,1055.4L1361.1,1053.7L1360.2,1051.9L1359.2,1050.2L1358.3,1048.4L1357.4,1046.7L1356.4,1044.9L1355.5,1043.1L1354.6,1041.4L1353.7,1039.6L1352.8,1037.8L1351.9,1036.1L1351.0,1034.3L1350.1,1032.5L1349.2,1030.7L1348.3,1029.0L1347.5,1027.2L1346.6,1025.4L1345.7,1023.6L1344.9,1021.8L1344.0,1020.0L1343.2,1018.2L1342.3,1016.4L1341.5,1014.6L1340.6,1012.8L1339.8,1011.0L1338.9,1009.2L1338.1,1007.4L1337.3,1005.6L1336.5,1003.8L1335.7,1002.0L1334.8,1000.1L1334.0,998.3L1333.2,996.5L1332.4,994.7L1331.6,992.9L1330.8,991.0L1330.0,989.2L1329.3,987.4L1328.5,985.5L1327.7,983.7L1326.9,981.9L1326.1,980.0L1325.4,978.2L1324.6,976.4L1323.8,974.5L1323.1,972.7L1322.3,970.8L1321.6,969.0L1320.8,967.2L1320.1,965.3L1319.3,963.5L1318.6,961.6L1317.8,959.8L1317.1,957.9L1316.4,956.0L1315.6,954.2L1314.9,952.3L1314.2,950.5L1313.5,948.6L1312.7,946.8L1312.0,944.9L1311.3,943.0L1310.6,941.2L1309.9,939.3L1309.2,937.5L1308.4,935.6L1307.7,933.7L1307.0,931.9L1306.3,930.0L1305.6,928.1L1304.9,926.3L1304.2,924.4L1303.5,922.5L1302.8,920.6L1302.1,918.8L1301.5,916.9L1300.8,915.0L1300.1,913.1L1299.4,911.3L1298.7,909.4L1298.0,907.5L1297.3,905.6L1296.7,903.8L1296.0,901.9L1295.3,900.0L1294.6,898.1L1293.9,896.2L1293.3,894.4L1292.6,892.5L1291.9,890.6L1291.2,888.7L1290.6,886.8L1289.9,885.0L1289.2,883.1L1288.5,881.2L1287.9,879.3L1287.2,877.4L1286.5,875.5L1285.9,873.7L1285.2,871.8L1284.5,869.9L1283.9,868.0L1283.2,866.1L1282.5,864.2L1281.9,862.3L1281.2,860.5L1280.5,858.6L1279.9,856.7L1279.2,854.8L1278.5,852.9L1277.9,851.0L1277.2,849.1L1276.5,847.3L1275.9,845.4L1275.2,843.5L1274.5,841.6L1273.9,839.7L1273.2,837.8L1272.5,835.9L1271.9,834.0L1271.2,832.2L1270.6,830.3L1269.9,828.4L1269.2,826.5L1268.6,824.6L1267.9,822.7L1267.3,820.8L1266.6,818.9L1265.9,817.1L1265.3,815.2L1264.6,813.3L1264.0,811.4L1263.3,809.5L1262.6,807.6L1262.0,805.7L1261.3,803.8L1260.7,801.9L1260.0,800.1L1259.3,798.2L1258.7,796.3L1258.0,794.4L1257.4,792.5L1256.7,790.6L1256.0,788.7L1255.4,786.8L1254.7,784.9L1254.1,783.1L1253.4,781.2L1252.8,779.3L1252.1,777.4L1251.4,775.5L1250.8,773.6L1250.1,771.7L1249.5,769.8L1248.8,767.9L1248.2,766.0L1247.5,764.2L1246.8,762.3L1246.2,760.4L1245.5,758.5L1244.9,756.6L1244.2,754.7L1243.6,752.8L1242.9,750.9L1242.2,749.0L1241.6,747.1L1240.9,745.3L1240.3,743.4L1239.6,741.5L1238.9,739.6L1238.3,737.7L1237.6,735.8L1237.0,733.9L1236.3,732.0L1235.6,730.1L1235.0,728.2L1234.3,726.4L1233.7,724.5L1233.0,722.6L1232.3,720.7L1231.7,718.8L1231.0,716.9L1230.4,715.0L1229.7,713.1L1229.0,711.2L1228.4,709.4L1227.7,707.5L1227.1,705.6L1226.4,703.7L1225.7,701.8L1225.1,699.9L1224.4,698.0L1223.7,696.1L1223.1,694.2L1222.4,692.4L1221.8,690.5L1221.1,688.6L1220.4,686.7L1219.8,684.8L1219.1,682.9L1218.4,681.0L1217.8,679.1L1217.1,677.2L1216.4,675.4L1215.8,673.5L1215.1,671.6L1214.4,669.7L1213.7,667.8L1213.1,665.9L1212.4,664.0L1211.7,662.2L1211.1,660.3L1210.4,658.4L1209.7,656.5L1209.1,654.6L1208.4,652.7L1207.7,650.8L1207.0,648.9L1206.4,647.1L1205.7,645.2L1205.0,643.3L1204.3,641.4L1203.7,639.5L1203.0,637.6L1202.3,635.8L1201.6,633.9L1200.9,632.0L1200.3,630.1L1199.6,628.2L1198.9,626.3L1198.2,624.5L1197.5,622.6L1196.9,620.7L1196.2,618.8L1195.5,616.9L1194.8,615.0L1194.1,613.2L1193.4,611.3L1192.7,609.4L1192.0,607.5L1191.4,605.6L1190.7,603.8L1190.0,601.9L1189.3,600.0L1188.6,598.1L1187.9,596.2L1187.2,594.4L1186.5,592.5L1185.8,590.6L1185.1,588.7L1184.4,586.8L1183.7,585.0L1183.0,583.1L1182.3,581.2L1181.6,579.3L1180.9,577.5L1180.1,575.6L1179.4,573.7L1178.7,571.8L1178.0,570.0L1177.3,568.1L1176.6,566.2L1175.9,564.3L1175.1,562.5L1174.4,560.6L1173.7,558.7L1173.0,556.9L1172.2,555.0L1171.5,553.1L1170.8,551.3L1170.0,549.4L1169.3,547.5L1168.6,545.7L1167.8,543.8L1167.1,541.9L1166.3,540.1L1165.6,538.2L1164.8,536.3L1164.1,534.5L1163.3,532.6L1162.6,530.8L1161.8,528.9L1161.1,527.0L1160.3,525.2L1159.6,523.3L1158.8,521.5L1158.0,519.6L1157.3,517.8L1156.5,515.9L1155.7,514.1L1154.9,512.2L1154.2,510.4L1153.4,508.5L1152.6,506.7L1151.8,504.8L1151.0,503.0L1150.2,501.1L1149.5,499.3L1148.7,497.4L1147.9,495.6L1147.1,493.7L1146.3,491.9L1145.5,490.1L1144.7,488.2L1143.8,486.4L1143.0,484.5L1142.2,482.7L1141.4,480.9L1140.6,479.0L1139.8,477.2L1138.9,475.4L1138.1,473.5L1137.3,471.7L1136.4,469.9L1135.6,468.1L1134.8,466.2L1133.9,464.4L1133.1,462.6L1132.2,460.8L1131.4,459.0L1130.5,457.1L1129.7,455.3L1128.8,453.5L1127.9,451.7L1127.1,449.9L1126.2,448.1L1125.3,446.2L1124.4,444.4L1123.5,442.6L1122.6,440.8L1121.7,439.0L1120.8,437.2L1119.9,435.4L1119.0,433.6L1118.1,431.8L1117.1,430.0L1116.2,428.2L1115.2,426.4L1114.3,424.7L1113.3,422.9L1112.3,421.1L1111.3,419.3L1110.3,417.6L1109.3,415.8L1108.3,414.1L1107.3,412.3L1106.2,410.6L1105.2,408.8L1104.1,407.1L1103.0,405.4L1101.9,403.7L1100.8,401.9L1099.7,400.2L1098.6,398.5L1097.4,396.8L1096.2,395.2L1095.1,393.5L1093.9,391.8L1092.7,390.2L1091.5,388.5L1090.2,386.9L1089.0,385.3L1087.7,383.7L1086.4,382.1L1085.1,380.5L1083.8,378.9L1082.4,377.4L1081.1,375.8L1079.7,374.3L1078.3,372.8L1076.9,371.3L1075.5,369.8L1074.1,368.3L1072.6,366.8L1071.1,365.4L1069.6,364.0L1068.1,362.6L1066.6,361.2L1065.0,359.8L1063.4,358.5L1061.8,357.2L1060.2,355.9L1058.6,354.6L1057.0,353.3L1055.3,352.1L1053.6,350.9L1051.9,349.7L1050.2,348.5L1048.4,347.4L1046.6,346.3L1044.8,345.2L1042.9,344.2L1041.0,343.2L1039.1,342.2L1037.1,341.4L1035.1,340.5L1033.1,339.8L1031.0,339.1L1028.9,338.4L1026.8,337.9L1024.7,337.4L1022.5,337.0L1020.4,336.7L1018.2,336.5L1016.0,336.3L1013.9,336.2L1011.7,336.2L1009.6,336.3L1007.4,336.4L1005.3,336.5L1003.2,336.8L1001.0,337.0L998.9,337.4L996.8,337.8L994.8,338.2L992.7,338.7L990.7,339.2L988.6,339.8L986.6,340.4L984.6,341.0L982.6,341.7L980.7,342.5L978.7,343.2L976.8,344.0L974.9,344.8L973.0,345.7L971.1,346.6L969.2,347.5L967.3,348.5L965.5,349.4L963.7,350.4L961.9,351.5L960.1,352.5L958.3,353.6L956.6,354.7L954.9,355.8L953.1,357.0L951.4,358.1L949.7,359.3L948.1,360.5L946.4,361.7L944.8,363.0L943.1,364.2L941.5,365.5L939.9,366.7L938.3,368.0L936.8,369.3L935.2,370.6L933.6,371.9L932.1,373.2L930.6,374.6L929.0,375.9L927.5,377.2L926.0,378.6L924.5,380.0L923.0,381.3L921.5,382.7L920.0,384.0L918.5,385.4L917.1,386.8L915.6,388.2L914.1,389.5L912.7,390.9L911.2,392.3L909.8,393.7L908.3,395.0L906.9,396.4L905.4,397.8L903.9,399.1L902.5,400.5L901.0,401.9L899.6,403.2L898.1,404.6L896.7,405.9L895.2,407.3L893.7,408.6L892.3,410.0L890.8,411.3L889.3,412.7L887.8,414.0L886.4,415.3L884.9,416.7L883.4,418.0L881.9,419.3L880.4,420.7L878.9,422.0L877.4,423.3L875.9,424.7L874.5,426.0L873.0,427.3L871.5,428.6L870.0,430.0L868.5,431.3L867.0,432.6L865.5,434.0L864.0,435.3L862.5,436.6L861.0,438.0L859.5,439.3L858.0,440.6L856.5,442.0L855.0,443.3L853.5,444.7L852.0,446.0L850.6,447.4L849.1,448.7L847.6,450.1L846.1,451.4L844.6,452.8L843.1,454.1L841.7,455.5L840.2,456.9L838.7,458.3L837.3,459.6L835.8,461.0L834.3,462.4L832.9,463.8L831.4,465.2L830.0,466.6L828.5,468.0L827.1,469.4L825.6,470.8L824.2,472.3L822.8,473.7L821.4,475.1L819.9,476.6L818.5,478.0L817.1,479.4L815.7,480.9L814.3,482.3L812.9,483.8L811.5,485.3L810.2,486.7L808.8,488.2L807.4,489.7L806.0,491.2L804.7,492.6L803.3,494.1L801.9,495.6L800.6,497.1L799.2,498.6L797.9,500.1L796.6,501.6L795.2,503.2L793.9,504.7L792.6,506.2L791.3,507.7L789.9,509.2L788.6,510.8L787.3,512.3L786.0,513.9L784.7,515.4L783.4,516.9L782.1,518.5L780.9,520.0L779.6,521.6L778.3,523.2L777.0,524.7L775.8,526.3L774.5,527.9L773.3,529.4L772.0,531.0L770.7,532.6L769.5,534.2L768.3,535.8L767.0,537.4L765.8,539.0L764.6,540.6L763.3,542.2L762.1,543.8L760.9,545.4L759.7,547.0L758.5,548.6L757.3,550.2L756.1,551.8L754.9,553.4L753.7,555.1L752.5,556.7L751.3,558.3L750.2,560.0L749.0,561.6L747.8,563.2L746.7,564.9L745.5,566.5L744.3,568.2L743.2,569.8L742.0,571.5L740.9,573.1L739.7,574.8L738.6,576.4L737.5,578.1L736.3,579.8L735.2,581.4L734.1,583.1L733.0,584.8L731.8,586.4L730.7,588.1L729.6,589.8L728.5,591.5L727.4,593.2L726.3,594.9L725.2,596.5L724.1,598.2L723.0,599.9L722.0,601.6L720.9,603.3L719.8,605.0L718.7,606.7L717.7,608.4L716.6,610.1L715.5,611.8L714.5,613.5L713.4,615.2L712.4,617.0L711.3,618.7L710.3,620.4L709.2,622.1L708.2,623.8L707.1,625.5L706.1,627.3L705.1,629.0L704.0,630.7L703.0,632.5L702.0,634.2L701.0,635.9L700.0,637.6L698.9,639.4L697.9,641.1L696.9,642.9L695.9,644.6L694.9,646.3L693.9,648.1L692.9,649.8L691.9,651.6L690.9,653.3L689.9,655.1L689.0,656.8L688.0,658.6L687.0,660.3L686.0,662.1L685.1,663.8L684.1,665.6L683.1,667.4L682.1,669.1L681.2,670.9L680.2,672.6L679.3,674.4L678.3,676.2L677.3,677.9L676.4,679.7L675.4,681.5L674.5,683.3L673.6,685.0L672.6,686.8L671.7,688.6L670.7,690.3L669.8,692.1L668.9,693.9L667.9,695.7L667.0,697.5L666.1,699.2L665.2,701.0L664.2,702.8L663.3,704.6L662.4,706.4L661.5,708.2L660.6,709.9L659.7,711.7L658.7,713.5L657.8,715.3L656.9,717.1L656.0,718.9L655.1,720.7L654.2,722.5L653.3,724.3L652.4,726.1L651.5,727.9L650.6,729.7L649.8,731.5L648.9,733.3L648.0,735.1L647.1,736.8L646.2,738.6L645.3,740.5L644.4,742.3L643.6,744.1L642.7,745.9L641.8,747.7L640.9,749.5L640.1,751.3L639.2,753.1L638.3,754.9L637.4,756.7L636.6,758.5L635.7,760.3L634.8,762.1L634.0,763.9L633.1,765.7L632.3,767.5L631.4,769.4L630.5,771.2L629.7,773.0L628.8,774.8L628.0,776.6L627.1,778.4L626.3,780.2L625.4,782.0L624.6,783.9L623.7,785.7L622.9,787.5L622.0,789.3L621.2,791.1L620.3,792.9L619.5,794.8L618.6,796.6L617.8,798.4L617.0,800.2L616.1,802.0L615.3,803.8L614.4,805.7L613.6,807.5L612.8,809.3L611.9,811.1L611.1,812.9L610.2,814.8L609.4,816.6L608.6,818.4L607.7,820.2L606.9,822.0L606.1,823.9L605.2,825.7L604.4,827.5L603.6,829.3L602.7,831.1L601.9,833.0L601.1,834.8L600.3,836.6L599.4,838.4L598.6,840.2L597.8,842.1L596.9,843.9L596.1,845.7L595.3,847.5L594.4,849.3L593.6,851.2L592.8,853.0L591.9,854.8L591.1,856.6L590.3,858.4L589.4,860.2L588.6,862.1L587.8,863.9L586.9,865.7L586.1,867.5L585.2,869.3L584.4,871.1L583.6,872.9L582.7,874.7L581.9,876.6L581.0,878.4L580.2,880.2L579.3,882.0L578.5,883.8L577.6,885.6L576.8,887.4L575.9,889.2L575.1,891.0L574.2,892.8L573.3,894.6L572.5,896.4L571.6,898.2L570.8,900.0L569.9,901.8L569.0,903.6L568.1,905.4L567.3,907.2L566.4,909.0L565.5,910.8L564.6,912.5L563.7,914.3L562.9,916.1L562.0,917.9L561.1,919.7L560.2,921.5L559.3,923.2L558.4,925.0L557.5,926.8L556.6,928.6L555.7,930.3L554.8,932.1L553.8,933.9L552.9,935.6L552.0,937.4L551.1,939.2L550.1,940.9L549.2,942.7L548.3,944.4L547.3,946.2L546.4,947.9L545.4,949.7L544.5,951.4L543.5,953.2L542.6,954.9L541.6,956.7L540.6,958.4L539.7,960.1L538.7,961.9L537.7,963.6L536.7,965.3L535.7,967.1L534.8,968.8L533.8,970.5L532.8,972.2L531.8,973.9L530.7,975.6L529.7,977.4L528.7,979.1L527.7,980.8L526.7,982.5L525.6,984.2L524.6,985.8L523.5,987.5L522.5,989.2L521.4,990.9L520.4,992.6L519.3,994.3L518.3,995.9L517.2,997.6L516.1,999.3L515.0,1000.9L513.9,1002.6L512.8,1004.3L511.7,1005.9L510.6,1007.6L509.5,1009.2L508.4,1010.8L507.3,1012.5L506.2,1014.1L505.0,1015.7L503.9,1017.4L502.8,1019.0L501.6,1020.6L500.5,1022.2L499.3,1023.8L498.1,1025.4L497.0,1027.0L495.8,1028.6L494.6,1030.2L493.4,1031.8L492.2,1033.4L491.0,1035.0L489.8,1036.5L488.6,1038.1L487.4,1039.7L486.2,1041.2L484.9,1042.8L483.7,1044.3L482.5,1045.9L481.2,1047.4L480.0,1048.9L478.7,1050.5L477.4,1052.0L476.2,1053.5L474.9,1055.0L473.6,1056.5L472.3,1058.0L471.0,1059.5L469.7,1061.0L468.4,1062.5L467.1,1064.0L465.8,1065.4L464.4,1066.9L463.1,1068.4L461.8,1069.8L460.4,1071.3L459.1,1072.7L457.7,1074.2L456.4,1075.6L455.0,1077.0L453.6,1078.5L452.2,1079.9L450.8,1081.3L449.5,1082.7L448.1,1084.1L446.7,1085.5L445.2,1086.8L443.8,1088.2L442.4,1089.5L441.0,1090.9L439.5,1092.2L438.1,1093.5L436.6,1094.8L435.1,1096.0L433.7,1097.3L432.2,1098.5L430.7,1099.7L429.1,1100.8L427.6,1101.9L426.0,1103.1L424.5,1104.1L422.9,1105.2L421.3,1106.1L419.7,1107.1L418.0,1108.0L416.4,1108.9L414.7,1109.7L413.0,1110.5L411.3,1111.2L409.6,1111.8L407.9,1112.4L406.2,1113.0L404.4,1113.4L402.7,1113.8L400.9,1114.2L399.1,1114.4L397.3,1114.6L395.5,1114.8L393.7,1114.9L391.8,1114.9L390.0,1114.8L388.2,1114.7L386.3,1114.6L384.5,1114.4L382.6,1114.1L380.8,1113.8L379.0,1113.5L377.1,1113.1L375.3,1112.6L373.5,1112.2L371.7,1111.6L369.9,1111.1L368.1,1110.5L366.3,1109.8L364.5,1109.1L362.8,1108.4L361.0,1107.7L359.3,1106.9L357.6,1106.1L355.8,1105.2L354.1,1104.4L352.4,1103.5L350.7,1102.5L349.0,1101.6L347.4,1100.6L345.7,1099.6L344.0,1098.6L342.4,1097.6L340.7,1096.6L339.0,1095.5L337.4,1094.4L335.7,1093.4L334.1,1092.3L332.4,1091.2L330.8,1090.1L329.1,1089.0L327.4,1087.8L325.8,1086.7L324.1,1085.6L322.4,1084.5L320.8,1083.4L319.1,1082.3L317.4,1081.2L315.7,1080.1L314.0,1079.0L312.3,1077.9L310.6,1076.8L308.9,1075.7L307.3,1074.6L305.6,1073.5L303.9,1072.4L302.1,1071.4L300.4,1070.3L298.7,1069.2L297.0,1068.2L295.3,1067.1L293.6,1066.0L291.9,1065.0L290.2,1064.0L288.4,1062.9L286.7,1061.9L285.0,1060.8L283.3,1059.8L281.5,1058.8L279.8,1057.7L278.1,1056.7L276.3,1055.7L274.6,1054.7L272.9,1053.7L271.1,1052.7L269.4,1051.7L267.6,1050.7L265.9,1049.7L264.2,1048.7L262.4,1047.7L260.7,1046.7L258.9,1045.7L257.2,1044.7L255.5,1043.7L253.8,1042.7L252.0,1041.7L250.3,1040.7L248.6,1039.7L246.9,1038.7L245.2,1037.7L243.5,1036.7L241.8,1035.6L240.2,1034.6L238.5,1033.6L236.8,1032.5L235.2,1031.5L233.5,1030.4L231.9,1029.3L230.3,1028.2L228.7,1027.1L227.1,1026.0L225.5,1024.9L223.9,1023.7L222.4,1022.6L220.8,1021.4L219.3,1020.2L217.8,1019.1L216.3,1017.8L214.8,1016.6L213.3,1015.4L211.9,1014.1L210.4,1012.8L209.0,1011.5L207.6,1010.2L206.3,1008.9L204.9,1007.5L203.6,1006.1Z"/>
<path fill="#0000ff" d="M196.6,1063.8L198.4,1064.7L200.3,1065.5L202.2,1066.3L204.0,1067.2L205.9,1068.0L207.8,1068.8L209.7,1069.5L211.6,1070.3L213.4,1071.1L215.3,1071.8L217.2,1072.6L219.1,1073.3L221.0,1074.0L222.9,1074.7L224.8,1075.4L226.7,1076.1L228.7,1076.8L230.6,1077.5L232.5,1078.1L234.4,1078.8L236.3,1079.5L238.2,1080.1L240.1,1080.8L242.0,1081.4L244.0,1082.0L245.9,1082.6L247.8,1083.3L249.7,1083.9L251.6,1084.5L253.5,1085.1L255.4,1085.7L257.4,1086.3L259.3,1086.9L261.2,1087.5L263.1,1088.1L265.0,1088.7L266.9,1089.3L268.8,1089.9L270.7,1090.5L272.6,1091.1L274.5,1091.7L276.4,1092.4L278.3,1093.0L280.2,1093.6L282.1,1094.2L284.0,1094.8L285.9,1095.4L287.8,1096.0L289.7,1096.7L291.5,1097.3L293.4,1097.9L295.3,1098.6L297.2,1099.2L299.0,1099.9L300.9,1100.5L302.8,1101.2L304.6,1101.9L306.5,1102.5L308.4,1103.2L310.3,1103.9L312.2,1104.6L314.1,1105.2L316.0,1105.9L317.9,1106.6L319.8,1107.3L321.7,1107.9L323.6,1108.6L325.5,1109.2L327.4,1109.9L329.4,1110.5L331.3,1111.2L333.3,1111.8L335.2,1112.4L337.2,1113.0L339.2,1113.5L341.1,1114.1L343.1,1114.7L345.1,1115.2L347.1,1115.7L349.2,1116.2L351.2,1116.6L353.2,1117.1L355.3,1117.5L357.4,1117.9L359.4,1118.2L361.5,1118.5L363.6,1118.8L365.7,1119.1L367.8,1119.3L370.0,1119.4L372.1,1119.6L374.3,1119.6L376.4,1119.7L378.6,1119.6L380.7,1119.6L382.9,1119.4L385.1,1119.2L387.3,1119.0L389.4,1118.7L391.6,1118.3L393.7,1117.9L395.8,1117.5L397.9,1116.9L400.0,1116.4L402.0,1115.8L404.1,1115.1L406.1,1114.4L408.1,1113.7L410.1,1113.0L412.0,1112.2L414.0,1111.4L415.9,1110.5L417.8,1109.6L419.7,1108.7L421.6,1107.8L423.5,1106.8L425.3,1105.9L427.1,1104.9L429.0,1103.8L430.8,1102.8L432.5,1101.7L434.3,1100.7L436.1,1099.5L437.8,1098.4L439.6,1097.3L441.3,1096.1L443.0,1094.9L444.7,1093.7L446.4,1092.5L448.0,1091.3L449.7,1090.1L451.3,1088.8L452.9,1087.5L454.6,1086.2L456.2,1084.9L457.7,1083.6L459.3,1082.2L460.9,1080.9L462.4,1079.5L463.9,1078.1L465.5,1076.7L467.0,1075.3L468.5,1073.9L469.9,1072.5L471.4,1071.1L472.9,1069.6L474.3,1068.1L475.7,1066.7L477.1,1065.2L478.6,1063.7L480.0,1062.2L481.3,1060.7L482.7,1059.2L484.1,1057.6L485.4,1056.1L486.8,1054.5L488.1,1053.0L489.4,1051.4L490.7,1049.9L492.0,1048.3L493.3,1046.7L494.6,1045.1L495.8,1043.5L497.1,1041.9L498.3,1040.3L499.6,1038.7L500.8,1037.1L502.0,1035.4L503.3,1033.8L504.5,1032.2L505.7,1030.5L506.8,1028.9L508.0,1027.2L509.2,1025.5L510.4,1023.9L511.5,1022.2L512.7,1020.5L513.8,1018.9L514.9,1017.2L516.1,1015.5L517.2,1013.8L518.3,1012.1L519.4,1010.4L520.5,1008.7L521.6,1007.0L522.7,1005.3L523.7,1003.6L524.8,1001.9L525.9,1000.1L526.9,998.4L528.0,996.7L529.0,995.0L530.1,993.2L531.1,991.5L532.2,989.8L533.2,988.0L534.2,986.3L535.2,984.5L536.3,982.8L537.3,981.1L538.3,979.3L539.3,977.6L540.3,975.8L541.3,974.0L542.2,972.3L543.2,970.5L544.2,968.8L545.2,967.0L546.2,965.3L547.1,963.5L548.1,961.7L549.1,960.0L550.0,958.2L551.0,956.4L551.9,954.7L552.9,952.9L553.8,951.1L554.8,949.3L555.7,947.6L556.7,945.8L557.6,944.0L558.6,942.2L559.5,940.5L560.4,938.7L561.4,936.9L562.3,935.1L563.2,933.4L564.2,931.6L565.1,929.8L566.0,928.0L566.9,926.2L567.8,924.5L568.8,922.7L569.7,920.9L570.6,919.1L571.5,917.4L572.5,915.6L573.4,913.8L574.3,912.0L575.2,910.2L576.1,908.5L577.0,906.7L578.0,904.9L578.9,903.1L579.8,901.4L580.7,899.6L581.6,897.8L582.6,896.1L583.5,894.3L584.4,892.5L585.3,890.8L586.3,889.0L587.2,887.2L588.1,885.5L589.1,883.7L590.0,881.9L590.9,880.2L591.9,878.4L592.8,876.7L593.8,874.9L594.7,873.2L595.7,871.4L596.6,869.7L597.6,867.9L598.5,866.2L599.5,864.4L600.4,862.7L601.4,861.0L602.4,859.2L603.4,857.5L604.3,855.8L605.3,854.1L606.3,852.3L607.3,850.6L608.3,848.9L609.3,847.2L610.3,845.5L611.3,843.8L612.3,842.1L613.3,840.4L614.3,838.7L615.4,837.0L616.4,835.3L617.4,833.6L618.5,831.9L619.5,830.2L620.6,828.6L621.6,826.9L622.7,825.2L623.8,823.6L624.8,821.9L625.9,820.3L627.0,818.6L628.1,817.0L629.2,815.3L630.3,813.7L631.4,812.0L632.5,810.4L633.7,808.8L634.8,807.2L635.9,805.6L637.1,804.0L638.2,802.4L639.4,800.8L640.5,799.2L641.7,797.6L642.9,796.0L644.1,794.4L645.3,792.8L646.5,791.3L647.7,789.7L648.9,788.1L650.1,786.6L651.3,785.0L652.5,783.4L653.8,781.9L655.0,780.3L656.2,778.8L657.5,777.2L658.7,775.7L660.0,774.1L661.2,772.5L662.5,771.0L663.7,769.4L665.0,767.9L666.2,766.3L667.5,764.8L668.8,763.2L670.0,761.7L671.3,760.1L672.5,758.6L673.8,757.0L675.1,755.5L676.3,753.9L677.6,752.3L678.9,750.8L680.1,749.2L681.4,747.6L682.6,746.1L683.9,744.5L685.1,742.9L686.4,741.3L687.6,739.7L688.9,738.2L690.1,736.6L691.3,735.0L692.6,733.4L693.8,731.8L695.0,730.2L696.2,728.6L697.5,727.0L698.7,725.4L699.9,723.8L701.1,722.3L702.3,720.7L703.5,719.1L704.8,717.5L706.0,716.0L707.2,714.4L708.4,712.9L709.6,711.3L710.9,709.8L712.1,708.2L713.4,706.7L714.6,705.2L715.9,703.6L717.1,702.1L718.4,700.6L719.7,699.1L720.9,697.7L722.2,696.2L723.5,694.7L724.8,693.3L726.1,691.9L727.5,690.4L728.8,689.0L730.2,687.6L731.5,686.2L732.9,684.9L734.3,683.5L735.7,682.2L737.1,680.9L738.5,679.6L739.9,678.3L741.4,677.0L742.8,675.7L744.3,674.4L745.8,673.2L747.3,672.0L748.8,670.7L750.3,669.5L751.9,668.3L753.4,667.2L755.0,666.0L756.5,664.8L758.1,663.7L759.7,662.5L761.3,661.4L762.9,660.3L764.5,659.2L766.1,658.1L767.7,657.0L769.4,655.9L771.0,654.8L772.7,653.8L774.3,652.7L776.0,651.7L777.7,650.7L779.3,649.6L781.0,648.6L782.7,647.6L784.4,646.6L786.1,645.6L787.8,644.6L789.5,643.6L791.2,642.7L793.0,641.7L794.7,640.7L796.4,639.8L798.2,638.8L799.9,637.9L801.6,636.9L803.4,636.0L805.1,635.1L806.9,634.1L808.6,633.2L810.4,632.3L812.2,631.4L813.9,630.4L815.7,629.5L817.5,628.6L819.2,627.7L821.0,626.8L822.8,625.9L824.6,625.0L826.3,624.1L828.1,623.2L829.9,622.3L831.7,621.4L833.5,620.5L835.3,619.6L837.0,618.7L838.8,617.8L840.6,616.9L842.4,616.0L844.2,615.1L846.0,614.2L847.8,613.3L849.6,612.4L851.3,611.5L853.1,610.6L854.9,609.7L856.7,608.8L858.5,607.9L860.2,607.0L862.0,606.1L863.8,605.2L865.6,604.4L867.4,603.5L869.1,602.6L870.9,601.8L872.7,600.9L874.5,600.1L876.3,599.2L878.1,598.4L879.9,597.6L881.7,596.8L883.5,596.0L885.3,595.2L887.1,594.4L888.9,593.6L890.7,592.9L892.5,592.1L894.3,591.4L896.1,590.7L897.9,590.0L899.8,589.3L901.6,588.6L903.4,587.9L905.2,587.3L907.1,586.6L908.9,586.0L910.8,585.4L912.6,584.8L914.5,584.3L916.3,583.7L918.2,583.2L920.1,582.7L921.9,582.2L923.8,581.7L925.7,581.3L927.6,580.8L929.4,580.4L931.3,580.0L933.2,579.6L935.1,579.3L937.0,579.0L938.9,578.7L940.8,578.4L942.7,578.1L944.6,577.9L946.5,577.6L948.5,577.4L950.4,577.2L952.3,577.1L954.2,577.0L956.1,576.8L958.0,576.8L960.0,576.7L961.9,576.6L963.8,576.6L965.7,576.6L967.6,576.7L969.5,576.7L971.4,576.8L973.3,576.9L975.2,577.1L977.1,577.2L979.0,577.4L980.9,577.6L982.8,577.9L984.7,578.1L986.5,578.4L988.4,578.8L990.3,579.1L992.1,579.5L993.9,579.9L995.8,580.4L997.6,580.9L999.4,581.4L1001.2,582.0L1002.9,582.5L1004.7,583.2L1006.4,583.8L1008.2,584.5L1009.9,585.2L1011.6,586.0L1013.2,586.8L1014.9,587.6L1016.5,588.5L1018.1,589.4L1019.7,590.3L1021.3,591.3L1022.9,592.3L1024.4,593.4L1025.9,594.5L1027.4,595.6L1028.9,596.7L1030.4,597.9L1031.8,599.1L1033.2,600.3L1034.6,601.6L1036.0,602.9L1037.4,604.2L1038.8,605.5L1040.1,606.9L1041.4,608.3L1042.7,609.7L1044.0,611.1L1045.3,612.5L1046.6,614.0L1047.9,615.4L1049.1,616.9L1050.3,618.4L1051.6,619.9L1052.8,621.4L1054.0,623.0L1055.2,624.5L1056.3,626.1L1057.5,627.6L1058.7,629.2L1059.8,630.8L1061.0,632.4L1062.1,634.0L1063.3,635.6L1064.4,637.2L1065.5,638.8L1066.6,640.5L1067.8,642.1L1068.9,643.8L1070.0,645.4L1071.1,647.0L1072.2,648.7L1073.3,650.3L1074.4,652.0L1075.5,653.7L1076.6,655.3L1077.7,657.0L1078.8,658.6L1079.9,660.3L1080.9,662.0L1082.0,663.6L1083.1,665.3L1084.2,667.0L1085.2,668.7L1086.3,670.3L1087.4,672.0L1088.4,673.7L1089.5,675.4L1090.5,677.1L1091.6,678.8L1092.6,680.5L1093.7,682.2L1094.7,683.8L1095.7,685.5L1096.8,687.2L1097.8,688.9L1098.8,690.6L1099.9,692.4L1100.9,694.1L1101.9,695.8L1102.9,697.5L1103.9,699.2L1104.9,700.9L1105.9,702.6L1106.9,704.3L1107.9,706.1L1108.9,707.8L1109.9,709.5L1110.9,711.2L1111.9,712.9L1112.9,714.7L1113.9,716.4L1114.9,718.1L1115.9,719.9L1116.8,721.6L1117.8,723.3L1118.8,725.1L1119.8,726.8L1120.7,728.6L1121.7,730.3L1122.6,732.0L1123.6,733.8L1124.6,735.5L1125.5,737.3L1126.5,739.0L1127.4,740.8L1128.4,742.5L1129.3,744.3L1130.3,746.0L1131.2,747.8L1132.1,749.6L1133.1,751.3L1134.0,753.1L1134.9,754.8L1135.9,756.6L1136.8,758.4L1137.7,760.1L1138.6,761.9L1139.5,763.7L1140.5,765.4L1141.4,767.2L1142.3,769.0L1143.2,770.7L1144.1,772.5L1145.0,774.3L1145.9,776.1L1146.8,777.8L1147.7,779.6L1148.6,781.4L1149.5,783.2L1150.4,785.0L1151.3,786.7L1152.2,788.5L1153.1,790.3L1154.0,792.1L1154.9,793.9L1155.8,795.7L1156.6,797.5L1157.5,799.2L1158.4,801.0L1159.3,802.8L1160.2,804.6L1161.0,806.4L1161.9,808.2L1162.8,810.0L1163.7,811.8L1164.5,813.6L1165.4,815.4L1166.3,817.2L1167.1,819.0L1168.0,820.8L1168.9,822.6L1169.7,824.4L1170.6,826.2L1171.5,828.0L1172.3,829.8L1173.2,831.6L1174.0,833.4L1174.9,835.2L1175.8,837.0L1176.6,838.8L1177.5,840.6L1178.3,842.4L1179.2,844.2L1180.0,846.0L1180.9,847.8L1181.7,849.6L1182.6,851.4L1183.4,853.3L1184.3,855.1L1185.1,856.9L1186.0,858.7L1186.8,860.5L1187.7,862.3L1188.5,864.1L1189.4,865.9L1190.2,867.7L1191.1,869.5L1191.9,871.4L1192.8,873.2L1193.6,875.0L1194.5,876.8L1195.3,878.6L1196.2,880.4L1197.0,882.2L1197.9,884.0L1198.7,885.9L1199.6,887.7L1200.4,889.5L1201.3,891.3L1202.1,893.1L1203.0,894.9L1203.8,896.7L1204.7,898.5L1205.5,900.4L1206.4,902.2L1207.2,904.0L1208.1,905.8L1208.9,907.6L1209.8,909.4L1210.6,911.2L1211.5,913.0L1212.4,914.8L1213.2,916.7L1214.1,918.5L1214.9,920.3L1215.8,922.1L1216.7,923.9L1217.5,925.7L1218.4,927.5L1219.2,929.3L1220.1,931.1L1221.0,932.9L1221.8,934.8L1222.7,936.6L1223.6,938.4L1224.4,940.2L1225.3,942.0L1226.2,943.8L1227.1,945.6L1227.9,947.4L1228.8,949.2L1229.7,951.0L1230.6,952.8L1231.4,954.6L1232.3,956.4L1233.2,958.2L1234.1,960.0L1235.0,961.8L1235.9,963.6L1236.8,965.4L1237.6,967.2L1238.5,969.0L1239.4,970.8L1240.3,972.6L1241.2,974.4L1242.1,976.2L1243.0,978.0L1243.9,979.8L1244.8,981.6L1245.7,983.4L1246.7,985.2L1247.6,986.9L1248.5,988.7L1249.4,990.5L1250.3,992.3L1251.2,994.1L1252.2,995.9L1253.1,997.7L1254.0,999.4L1254.9,1001.2L1255.9,1003.0L1256.8,1004.8L1257.7,1006.6L1258.7,1008.3L1259.6,1010.1L1260.6,1011.9L1261.5,1013.7L1262.4,1015.4L1263.4,1017.2L1264.4,1019.0L1265.3,1020.8L1266.3,1022.5L1267.2,1024.3L1268.2,1026.1L1269.2,1027.8L1270.1,1029.6L1271.1,1031.3L1272.1,1033.1L1273.1,1034.9L1274.1,1036.6L1275.1,1038.4L1276.1,1040.1L1277.1,1041.9L1278.1,1043.6L1279.1,1045.4L1280.1,1047.1L1281.1,1048.9L1282.1,1050.6L1283.2,1052.3L1284.2,1054.1L1285.2,1055.8L1286.3,1057.5L1287.3,1059.3L1288.4,1061.0L1289.4,1062.7L1290.5,1064.4L1291.5,1066.1L1292.6,1067.9L1293.7,1069.6L1294.7,1071.3L1295.8,1073.0L1296.9,1074.7L1298.0,1076.4L1299.1,1078.1L1300.2,1079.8L1301.3,1081.5L1302.4,1083.2L1303.6,1084.8L1304.7,1086.5L1305.8,1088.2L1307.0,1089.9L1308.1,1091.5L1309.3,1093.2L1310.4,1094.9L1311.6,1096.5L1312.8,1098.2L1313.9,1099.8L1315.1,1101.5L1316.3,1103.1L1317.5,1104.7L1318.7,1106.4L1319.9,1108.0L1321.2,1109.6L1322.4,1111.2L1323.6,1112.9L1324.9,1114.5L1326.1,1116.1L1327.4,1117.7L1328.6,1119.3L1329.9,1120.8L1331.2,1122.4L1332.5,1124.0L1333.8,1125.6L1335.1,1127.1L1336.4,1128.7L1337.7,1130.2L1339.0,1131.8L1340.3,1133.3L1341.7,1134.8L1343.0,1136.4L1344.4,1137.9L1345.8,1139.4L1347.1,1140.9L1348.5,1142.4L1349.9,1143.9L1351.3,1145.4L1352.7,1146.8L1354.2,1148.3L1355.6,1149.8L1357.0,1151.2L1358.5,1152.6L1359.9,1154.1L1361.4,1155.5L1362.9,1156.9L1364.4,1158.3L1365.8,1159.7L1367.3,1161.1L1368.9,1162.5L1370.4,1163.8L1371.9,1165.2L1373.5,1166.6L1375.0,1167.9L1376.6,1169.2L1378.1,1170.5L1379.7,1171.8L1381.3,1173.1L1382.9,1174.4L1384.5,1175.7L1386.1,1176.9L1387.8,1178.2L1389.4,1179.4L1391.0,1180.7L1392.7,1181.9L1394.4,1183.1L1396.0,1184.3L1397.7,1185.4L1399.4,1186.6L1401.2,1187.7L1402.9,1188.8L1404.6,1189.9L1406.4,1191.0L1408.1,1192.0L1409.9,1193.1L1411.7,1194.1L1413.4,1195.2L1415.2,1196.2L1417.0,1197.2L1418.8,1198.2L1420.6,1199.1L1422.4,1200.1L1424.2,1201.0L1426.1,1202.0L1427.9,1202.9L1429.7,1203.8L1431.6,1204.7L1433.4,1205.5L1435.3,1206.4L1437.1,1207.2L1439.0,1208.1L1440.9,1208.9L1442.8,1209.7L1444.6,1210.5L1446.5,1211.3L1448.4,1212.0L1450.3,1212.8L1452.2,1213.5L1454.1,1214.3L1456.0,1215.0L1457.9,1215.7L1459.8,1216.4L1461.8,1217.1L1463.7,1217.7L1465.6,1218.4L1467.5,1219.0L1469.5,1219.7L1471.4,1220.3L1473.4,1220.9L1475.3,1221.5L1477.2,1222.1L1479.2,1222.7L1481.1,1223.2L1483.1,1223.8L1485.1,1224.3L1487.0,1224.8L1489.0,1225.4L1490.9,1225.9L1492.9,1226.4L1494.9,1226.9L1496.8,1227.3L1498.8,1227.8L1500.8,1228.3L1502.8,1228.7L1504.7,1229.1L1506.7,1229.6L1508.7,1230.0L1510.7,1230.4L1512.7,1230.8L1514.6,1231.2L1516.6,1231.6L1518.6,1232.0L1520.6,1232.3L1522.6,1232.7L1524.6,1233.0L1526.6,1233.4L1528.6,1233.7L1530.6,1234.0L1532.6,1234.3L1534.6,1234.6L1536.6,1234.9L1538.6,1235.2L1540.6,1235.5L1542.6,1235.8L1544.6,1236.0L1546.6,1236.3L1548.6,1236.6L1550.6,1236.8L1552.6,1237.0L1554.6,1237.3L1556.6,1237.5L1558.6,1237.7L1560.6,1237.9L1562.6,1238.2L1564.6,1238.4L1566.6,1238.6L1568.6,1238.8L1570.6,1239.0L1572.6,1239.2L1574.6,1239.4L1576.6,1239.6L1578.6,1239.8L1580.8,1240.0L1582.9,1240.0L1584.9,1239.9L1586.9,1239.9L1588.9,1239.9L1590.9,1239.9L1592.9,1239.9L1594.9,1239.9L1596.9,1239.9L1598.9,1239.9L1600.9,1239.9L1602.9,1239.9L1604.9,1239.9L1606.9,1239.9L1608.9,1239.9L1610.9,1239.9L1612.9,1239.9L1614.9,1239.9L1616.9,1239.9L1618.9,1239.9L1620.9,1239.9L1622.9,1239.9L1624.9,1239.9L1626.9,1239.9L1628.9,1239.9L1630.9,1239.9L1632.9,1239.8L1634.9,1239.8L1636.9,1239.8L1638.9,1239.8L1640.9,1239.8L1642.9,1239.8L1644.9,1239.8L1646.9,1239.8L1648.9,1239.8L1650.9,1239.8L1652.9,1239.8L1654.9,1239.8L1656.9,1239.8L1658.9,1239.8L1660.9,1239.8L1662.9,1239.8L1664.9,1239.8L1666.9,1239.8L1668.9,1239.8L1670.9,1239.8L1672.9,1239.8L1674.9,1239.8L1676.9,1239.8L1678.9,1239.8L1680.9,1239.7L1682.9,1239.7L1684.9,1239.7L1686.9,1239.7L1688.9,1239.7L1690.9,1239.7L1692.9,1239.7L1694.9,1239.7L1696.9,1239.7L1698.9,1239.7L1700.9,1239.7L1702.9,1239.7L1704.9,1239.7L1706.9,1239.7L1708.9,1239.7L1710.9,1239.7L1712.9,1239.7L1714.9,1239.7L1716.9,1239.7L1718.9,1239.7L1720.9,1239.7L1722.9,1239.7L1725.0,1239.6L1727.1,1239.5L1729.1,1239.3L1731.1,1239.2L1733.1,1239.1L1735.1,1238.9L1734.6,1231.7L1732.6,1231.8L1730.6,1231.9L1728.6,1232.1L1726.6,1232.2L1724.7,1232.3L1722.9,1232.3L1720.9,1232.3L1718.9,1232.3L1716.9,1232.3L1714.9,1232.3L1712.9,1232.3L1710.9,1232.3L1708.9,1232.3L1706.9,1232.3L1704.9,1232.3L1702.9,1232.3L1700.9,1232.3L1698.9,1232.3L1696.9,1232.3L1694.9,1232.3L1692.9,1232.3L1690.9,1232.3L1688.9,1232.3L1686.9,1232.3L1684.9,1232.3L1682.9,1232.3L1680.9,1232.3L1678.9,1232.2L1676.9,1232.2L1674.9,1232.2L1672.9,1232.2L1670.9,1232.2L1668.9,1232.2L1666.9,1232.2L1664.9,1232.2L1662.9,1232.2L1660.9,1232.2L1658.9,1232.2L1656.9,1232.2L1654.9,1232.2L1652.9,1232.2L1650.9,1232.2L1648.9,1232.2L1646.9,1232.2L1644.9,1232.2L1642.9,1232.2L1640.9,1232.2L1638.9,1232.2L1636.9,1232.2L1634.9,1232.2L1632.9,1232.2L1630.9,1232.1L1628.9,1232.1L1626.9,1232.1L1624.9,1232.1L1622.9,1232.1L1620.9,1232.1L1618.9,1232.1L1616.9,1232.1L1614.9,1232.1L1612.9,1232.1L1610.9,1232.1L1608.9,1232.1L1606.9,1232.1L1604.9,1232.1L1602.9,1232.1L1600.9,1232.1L1598.9,1232.1L1596.9,1232.1L1594.9,1232.1L1592.9,1232.1L1590.9,1232.1L1588.9,1232.1L1586.9,1232.1L1584.9,1232.1L1582.9,1232.0L1581.1,1232.0L1579.3,1231.9L1577.3,1231.7L1575.4,1231.5L1573.4,1231.3L1571.4,1231.1L1569.4,1230.9L1567.4,1230.7L1565.5,1230.4L1563.5,1230.2L1561.5,1230.0L1559.6,1229.7L1557.6,1229.4L1555.6,1229.1L1553.7,1228.8L1551.7,1228.5L1549.7,1228.2L1547.8,1227.9L1545.8,1227.6L1543.9,1227.2L1541.9,1226.9L1540.0,1226.6L1538.0,1226.2L1536.1,1225.8L1534.1,1225.5L1532.2,1225.1L1530.2,1224.7L1528.3,1224.3L1526.3,1223.9L1524.4,1223.5L1522.5,1223.1L1520.5,1222.6L1518.6,1222.2L1516.7,1221.7L1514.7,1221.3L1512.8,1220.8L1510.9,1220.4L1509.0,1219.9L1507.1,1219.4L1505.1,1218.9L1503.2,1218.4L1501.3,1217.9L1499.4,1217.3L1497.5,1216.8L1495.6,1216.3L1493.7,1215.7L1491.8,1215.1L1490.0,1214.6L1488.1,1214.0L1486.2,1213.4L1484.3,1212.8L1482.4,1212.2L1480.6,1211.6L1478.7,1210.9L1476.8,1210.3L1475.0,1209.6L1473.1,1209.0L1471.3,1208.3L1469.4,1207.6L1467.6,1207.0L1465.7,1206.3L1463.9,1205.5L1462.1,1204.8L1460.3,1204.1L1458.4,1203.3L1456.6,1202.6L1454.8,1201.8L1453.0,1201.0L1451.2,1200.2L1449.4,1199.4L1447.6,1198.6L1445.9,1197.8L1444.1,1197.0L1442.3,1196.1L1440.6,1195.3L1438.8,1194.4L1437.1,1193.5L1435.3,1192.6L1433.6,1191.7L1431.9,1190.8L1430.2,1189.8L1428.5,1188.9L1426.8,1187.9L1425.1,1187.0L1423.4,1186.0L1421.7,1185.0L1420.0,1184.0L1418.4,1183.0L1416.7,1181.9L1415.1,1180.9L1413.4,1179.8L1411.8,1178.8L1410.2,1177.7L1408.6,1176.6L1407.0,1175.5L1405.4,1174.3L1403.8,1173.2L1402.2,1172.1L1400.6,1170.9L1399.1,1169.8L1397.5,1168.6L1395.9,1167.5L1394.4,1166.3L1392.8,1165.1L1391.3,1163.9L1389.8,1162.6L1388.3,1161.4L1386.8,1160.2L1385.3,1158.9L1383.8,1157.6L1382.3,1156.4L1380.8,1155.1L1379.4,1153.8L1377.9,1152.5L1376.5,1151.2L1375.0,1149.8L1373.6,1148.5L1372.2,1147.1L1370.8,1145.8L1369.4,1144.4L1368.0,1143.0L1366.6,1141.7L1365.2,1140.3L1363.8,1138.9L1362.5,1137.5L1361.1,1136.0L1359.8,1134.6L1358.4,1133.2L1357.1,1131.8L1355.7,1130.3L1354.4,1128.8L1353.1,1127.4L1351.8,1125.9L1350.5,1124.4L1349.2,1123.0L1347.9,1121.5L1346.7,1120.0L1345.4,1118.5L1344.1,1116.9L1342.9,1115.4L1341.6,1113.9L1340.4,1112.4L1339.2,1110.8L1338.0,1109.3L1336.7,1107.7L1335.5,1106.2L1334.3,1104.6L1333.1,1103.1L1331.9,1101.5L1330.7,1099.9L1329.6,1098.3L1328.4,1096.7L1327.2,1095.2L1326.1,1093.6L1324.9,1092.0L1323.8,1090.3L1322.6,1088.7L1321.5,1087.1L1320.4,1085.5L1319.2,1083.9L1318.1,1082.2L1317.0,1080.6L1315.9,1079.0L1314.8,1077.3L1313.7,1075.7L1312.6,1074.0L1311.5,1072.4L1310.4,1070.7L1309.4,1069.1L1308.3,1067.4L1307.2,1065.7L1306.2,1064.1L1305.1,1062.4L1304.0,1060.7L1303.0,1059.0L1302.0,1057.3L1300.9,1055.6L1299.9,1054.0L1298.9,1052.3L1297.8,1050.6L1296.8,1048.9L1295.8,1047.2L1294.8,1045.5L1293.8,1043.7L1292.8,1042.0L1291.8,1040.3L1290.8,1038.6L1289.8,1036.9L1288.8,1035.2L1287.8,1033.4L1286.8,1031.7L1285.8,1030.0L1284.9,1028.2L1283.9,1026.5L1282.9,1024.8L1282.0,1023.0L1281.0,1021.3L1280.0,1019.6L1279.1,1017.8L1278.1,1016.1L1277.2,1014.3L1276.2,1012.6L1275.3,1010.8L1274.3,1009.1L1273.4,1007.3L1272.5,1005.6L1271.5,1003.8L1270.6,1002.0L1269.7,1000.3L1268.7,998.5L1267.8,996.7L1266.9,995.0L1266.0,993.2L1265.1,991.4L1264.1,989.7L1263.2,987.9L1262.3,986.1L1261.4,984.4L1260.5,982.6L1259.6,980.8L1258.7,979.0L1257.8,977.3L1256.9,975.5L1256.0,973.7L1255.1,971.9L1254.2,970.1L1253.3,968.4L1252.4,966.6L1251.5,964.8L1250.6,963.0L1249.7,961.2L1248.9,959.4L1248.0,957.6L1247.1,955.9L1246.2,954.1L1245.3,952.3L1244.4,950.5L1243.6,948.7L1242.7,946.9L1241.8,945.1L1240.9,943.3L1240.1,941.5L1239.2,939.7L1238.3,937.9L1237.5,936.1L1236.6,934.3L1235.7,932.5L1234.9,930.7L1234.0,928.9L1233.1,927.1L1232.3,925.3L1231.4,923.5L1230.6,921.7L1229.7,919.9L1228.8,918.1L1228.0,916.3L1227.1,914.5L1226.3,912.7L1225.4,910.9L1224.6,909.1L1223.7,907.3L1222.9,905.5L1222.0,903.7L1221.2,901.8L1220.3,900.0L1219.4,898.2L1218.6,896.4L1217.7,894.6L1216.9,892.8L1216.0,891.0L1215.2,889.2L1214.3,887.4L1213.5,885.6L1212.7,883.7L1211.8,881.9L1211.0,880.1L1210.1,878.3L1209.3,876.5L1208.4,874.7L1207.6,872.9L1206.7,871.1L1205.9,869.3L1205.0,867.4L1204.2,865.6L1203.3,863.8L1202.5,862.0L1201.6,860.2L1200.8,858.4L1199.9,856.6L1199.1,854.8L1198.2,852.9L1197.4,851.1L1196.5,849.3L1195.7,847.5L1194.8,845.7L1193.9,843.9L1193.1,842.1L1192.2,840.3L1191.4,838.4L1190.5,836.6L1189.7,834.8L1188.8,833.0L1188.0,831.2L1187.1,829.4L1186.2,827.6L1185.4,825.8L1184.5,824.0L1183.6,822.2L1182.8,820.3L1181.9,818.5L1181.0,816.7L1180.2,814.9L1179.3,813.1L1178.4,811.3L1177.6,809.5L1176.7,807.7L1175.8,805.9L1174.9,804.1L1174.1,802.3L1173.2,800.5L1172.3,798.7L1171.4,796.9L1170.5,795.1L1169.6,793.3L1168.7,791.5L1167.9,789.7L1167.0,787.9L1166.1,786.1L1165.2,784.3L1164.3,782.5L1163.4,780.7L1162.5,778.9L1161.6,777.1L1160.7,775.3L1159.8,773.5L1158.9,771.7L1158.0,769.9L1157.0,768.2L1156.1,766.4L1155.2,764.6L1154.3,762.8L1153.4,761.0L1152.5,759.2L1151.5,757.4L1150.6,755.7L1149.7,753.9L1148.7,752.1L1147.8,750.3L1146.9,748.5L1145.9,746.8L1145.0,745.0L1144.0,743.2L1143.1,741.4L1142.2,739.7L1141.2,737.9L1140.2,736.1L1139.3,734.4L1138.3,732.6L1137.4,730.8L1136.4,729.1L1135.4,727.3L1134.5,725.5L1133.5,723.8L1132.5,722.0L1131.6,720.2L1130.6,718.5L1129.6,716.7L1128.6,715.0L1127.6,713.2L1126.6,711.5L1125.6,709.7L1124.6,708.0L1123.6,706.2L1122.6,704.5L1121.6,702.7L1120.6,701.0L1119.6,699.3L1118.6,697.5L1117.6,695.8L1116.6,694.1L1115.5,692.3L1114.5,690.6L1113.5,688.9L1112.5,687.1L1111.4,685.4L1110.4,683.7L1109.4,682.0L1108.3,680.2L1107.3,678.5L1106.2,676.8L1105.2,675.1L1104.1,673.4L1103.0,671.7L1102.0,669.9L1100.9,668.2L1099.9,666.5L1098.8,664.8L1097.7,663.1L1096.6,661.4L1095.5,659.7L1094.5,658.0L1093.4,656.3L1092.3,654.6L1091.2,653.0L1090.1,651.3L1089.0,649.6L1087.9,647.9L1086.8,646.2L1085.7,644.5L1084.5,642.9L1083.4,641.2L1082.3,639.5L1081.2,637.8L1080.0,636.2L1078.9,634.5L1077.8,632.8L1076.6,631.2L1075.5,629.5L1074.3,627.8L1073.1,626.2L1071.9,624.5L1070.8,622.9L1069.6,621.2L1068.3,619.6L1067.1,617.9L1065.9,616.3L1064.6,614.7L1063.4,613.1L1062.1,611.5L1060.8,609.9L1059.5,608.3L1058.1,606.7L1056.8,605.1L1055.4,603.5L1054.0,602.0L1052.6,600.5L1051.2,598.9L1049.8,597.4L1048.3,596.0L1046.8,594.5L1045.3,593.0L1043.7,591.6L1042.1,590.2L1040.5,588.8L1038.9,587.5L1037.3,586.1L1035.6,584.8L1033.9,583.6L1032.1,582.3L1030.4,581.1L1028.6,579.9L1026.7,578.8L1024.9,577.7L1023.0,576.6L1021.1,575.6L1019.2,574.7L1017.2,573.7L1015.3,572.9L1013.3,572.0L1011.3,571.2L1009.3,570.5L1007.3,569.8L1005.3,569.1L1003.2,568.5L1001.2,567.9L999.1,567.3L997.1,566.8L995.0,566.3L993.0,565.9L990.9,565.5L988.8,565.1L986.7,564.8L984.6,564.5L982.6,564.2L980.5,564.0L978.4,563.8L976.3,563.6L974.2,563.4L972.1,563.3L970.0,563.2L967.9,563.2L965.8,563.1L963.7,563.1L961.7,563.2L959.6,563.2L957.5,563.3L955.4,563.4L953.3,563.5L951.3,563.6L949.2,563.8L947.1,564.0L945.1,564.2L943.0,564.5L940.9,564.7L938.9,565.0L936.8,565.3L934.8,565.6L932.7,566.0L930.7,566.4L928.6,566.8L926.6,567.2L924.6,567.7L922.6,568.1L920.6,568.6L918.6,569.1L916.5,569.6L914.6,570.2L912.6,570.8L910.6,571.3L908.6,571.9L906.6,572.6L904.7,573.2L902.7,573.9L900.8,574.5L898.9,575.2L896.9,575.9L895.0,576.6L893.1,577.4L891.2,578.1L889.3,578.9L887.4,579.6L885.5,580.4L883.6,581.2L881.7,582.0L879.9,582.8L878.0,583.6L876.1,584.5L874.3,585.3L872.4,586.1L870.6,587.0L868.8,587.9L866.9,588.7L865.1,589.6L863.3,590.5L861.5,591.3L859.6,592.2L857.8,593.1L856.0,594.0L854.2,594.9L852.4,595.8L850.6,596.7L848.8,597.6L847.0,598.5L845.2,599.4L843.5,600.3L841.7,601.2L839.9,602.1L838.1,603.0L836.3,603.9L834.5,604.8L832.8,605.7L831.0,606.6L829.2,607.5L827.4,608.4L825.6,609.3L823.8,610.3L822.0,611.2L820.2,612.1L818.5,613.0L816.7,613.9L814.9,614.8L813.1,615.7L811.3,616.6L809.5,617.5L807.7,618.5L805.9,619.4L804.1,620.3L802.4,621.3L800.6,622.2L798.8,623.1L797.0,624.1L795.2,625.0L793.5,626.0L791.7,627.0L789.9,627.9L788.1,628.9L786.4,629.9L784.6,630.9L782.8,631.9L781.1,632.9L779.3,633.9L777.6,635.0L775.8,636.0L774.1,637.0L772.3,638.1L770.6,639.2L768.9,640.2L767.1,641.3L765.4,642.4L763.7,643.5L762.0,644.6L760.3,645.7L758.6,646.9L756.9,648.0L755.2,649.2L753.5,650.4L751.8,651.5L750.2,652.7L748.5,654.0L746.9,655.2L745.2,656.4L743.6,657.7L742.0,658.9L740.4,660.2L738.8,661.5L737.2,662.8L735.6,664.1L734.0,665.5L732.5,666.8L730.9,668.2L729.4,669.6L727.9,671.0L726.4,672.4L724.9,673.8L723.4,675.3L721.9,676.7L720.5,678.2L719.0,679.7L717.6,681.2L716.2,682.7L714.8,684.2L713.5,685.7L712.1,687.3L710.8,688.8L709.4,690.3L708.1,691.9L706.8,693.5L705.5,695.0L704.2,696.6L702.9,698.2L701.6,699.7L700.3,701.3L699.1,702.9L697.8,704.5L696.6,706.1L695.3,707.7L694.1,709.3L692.9,710.9L691.6,712.4L690.4,714.0L689.2,715.6L688.0,717.2L686.7,718.8L685.5,720.4L684.3,722.0L683.1,723.6L681.9,725.1L680.7,726.7L679.4,728.3L678.2,729.9L677.0,731.4L675.8,733.0L674.5,734.5L673.3,736.1L672.1,737.7L670.8,739.2L669.6,740.8L668.3,742.3L667.1,743.9L665.8,745.4L664.6,747.0L663.3,748.5L662.1,750.1L660.8,751.6L659.5,753.2L658.3,754.7L657.0,756.3L655.8,757.8L654.5,759.4L653.2,761.0L652.0,762.5L650.7,764.1L649.5,765.6L648.2,767.2L646.9,768.8L645.7,770.4L644.4,771.9L643.2,773.5L641.9,775.1L640.7,776.7L639.4,778.3L638.2,779.9L637.0,781.5L635.7,783.1L634.5,784.7L633.3,786.3L632.1,787.9L630.9,789.5L629.7,791.2L628.5,792.8L627.3,794.5L626.1,796.1L624.9,797.8L623.7,799.4L622.6,801.1L621.4,802.8L620.3,804.4L619.1,806.1L618.0,807.8L616.9,809.5L615.8,811.2L614.6,812.8L613.5,814.5L612.4,816.2L611.3,817.9L610.2,819.6L609.2,821.4L608.1,823.1L607.0,824.8L605.9,826.5L604.9,828.2L603.8,830.0L602.8,831.7L601.7,833.4L600.7,835.2L599.7,836.9L598.6,838.6L597.6,840.4L596.6,842.1L595.6,843.9L594.6,845.6L593.6,847.4L592.6,849.1L591.6,850.9L590.6,852.6L589.6,854.4L588.6,856.1L587.7,857.9L586.7,859.7L585.7,861.4L584.8,863.2L583.8,865.0L582.8,866.7L581.9,868.5L580.9,870.3L580.0,872.1L579.0,873.8L578.1,875.6L577.1,877.4L576.2,879.1L575.3,880.9L574.3,882.7L573.4,884.5L572.5,886.3L571.5,888.0L570.6,889.8L569.7,891.6L568.7,893.4L567.8,895.1L566.9,896.9L566.0,898.7L565.1,900.5L564.1,902.3L563.2,904.0L562.3,905.8L561.4,907.6L560.5,909.4L559.5,911.1L558.6,912.9L557.7,914.7L556.8,916.5L555.9,918.2L554.9,920.0L554.0,921.8L553.1,923.6L552.2,925.3L551.3,927.1L550.3,928.9L549.4,930.6L548.5,932.4L547.6,934.2L546.6,935.9L545.7,937.7L544.8,939.5L543.8,941.2L542.9,943.0L541.9,944.7L541.0,946.5L540.1,948.2L539.1,950.0L538.2,951.7L537.2,953.5L536.3,955.2L535.3,957.0L534.3,958.7L533.4,960.5L532.4,962.2L531.4,963.9L530.5,965.7L529.5,967.4L528.5,969.1L527.5,970.9L526.6,972.6L525.6,974.3L524.6,976.0L523.6,977.7L522.6,979.5L521.6,981.2L520.6,982.9L519.5,984.6L518.5,986.3L517.5,988.0L516.5,989.7L515.4,991.3L514.4,993.0L513.4,994.7L512.3,996.4L511.3,998.1L510.2,999.7L509.1,1001.4L508.1,1003.1L507.0,1004.7L505.9,1006.4L504.8,1008.0L503.7,1009.7L502.6,1011.3L501.5,1012.9L500.4,1014.5L499.3,1016.2L498.1,1017.8L497.0,1019.4L495.9,1021.0L494.7,1022.6L493.6,1024.2L492.4,1025.8L491.2,1027.4L490.0,1028.9L488.9,1030.5L487.7,1032.1L486.5,1033.6L485.2,1035.1L484.0,1036.7L482.8,1038.2L481.6,1039.7L480.3,1041.2L479.1,1042.8L477.8,1044.3L476.5,1045.7L475.2,1047.2L474.0,1048.7L472.7,1050.1L471.3,1051.6L470.0,1053.0L468.7,1054.5L467.4,1055.9L466.0,1057.3L464.7,1058.7L463.3,1060.1L461.9,1061.5L460.5,1062.8L459.1,1064.2L457.7,1065.5L456.3,1066.8L454.9,1068.1L453.4,1069.4L452.0,1070.7L450.5,1072.0L449.0,1073.3L447.5,1074.5L446.0,1075.7L444.5,1076.9L443.0,1078.1L441.5,1079.3L440.0,1080.5L438.4,1081.6L436.8,1082.8L435.3,1083.9L433.7,1085.0L432.1,1086.1L430.5,1087.1L428.9,1088.1L427.2,1089.2L425.6,1090.2L423.9,1091.1L422.3,1092.1L420.6,1093.0L418.9,1094.0L417.2,1094.9L415.5,1095.7L413.8,1096.6L412.1,1097.4L410.4,1098.2L408.6,1099.0L406.9,1099.7L405.2,1100.4L403.4,1101.1L401.6,1101.7L399.9,1102.3L398.1,1102.9L396.3,1103.4L394.5,1103.9L392.7,1104.3L390.9,1104.7L389.1,1105.1L387.3,1105.4L385.5,1105.6L383.7,1105.8L381.9,1106.0L380.1,1106.1L378.3,1106.2L376.4,1106.2L374.6,1106.2L372.7,1106.1L370.9,1106.0L369.0,1105.9L367.1,1105.7L365.3,1105.5L363.4,1105.3L361.5,1105.0L359.7,1104.7L357.8,1104.3L355.9,1104.0L354.1,1103.6L352.2,1103.1L350.3,1102.7L348.4,1102.2L346.6,1101.7L344.7,1101.2L342.8,1100.7L341.0,1100.2L339.1,1099.6L337.2,1099.0L335.4,1098.4L333.5,1097.8L331.6,1097.2L329.8,1096.6L327.9,1096.0L326.0,1095.3L324.1,1094.7L322.3,1094.0L320.4,1093.4L318.5,1092.7L316.6,1092.1L314.8,1091.4L312.9,1090.7L311.0,1090.0L309.1,1089.4L307.2,1088.7L305.3,1088.0L303.4,1087.4L301.5,1086.7L299.6,1086.0L297.7,1085.4L295.7,1084.8L293.8,1084.1L291.9,1083.5L290.0,1082.9L288.1,1082.2L286.2,1081.6L284.3,1081.0L282.3,1080.4L280.4,1079.8L278.5,1079.2L276.6,1078.6L274.7,1078.0L272.8,1077.4L270.9,1076.8L268.9,1076.2L267.0,1075.6L265.1,1075.0L263.2,1074.4L261.3,1073.8L259.4,1073.2L257.5,1072.6L255.6,1072.0L253.7,1071.4L251.8,1070.8L249.9,1070.2L248.0,1069.6L246.1,1068.9L244.3,1068.3L242.4,1067.7L240.5,1067.1L238.6,1066.4L236.8,1065.8L234.9,1065.1L233.0,1064.5L231.2,1063.8L229.3,1063.1L227.5,1062.5L225.6,1061.8L223.8,1061.1L221.9,1060.4L220.1,1059.7L218.3,1059.0L216.4,1058.2L214.6,1057.5L212.8,1056.7L211.0,1056.0L209.2,1055.2L207.4,1054.4L205.6,1053.6L203.8,1052.8L202.0,1052.0Z"/>
<path fill="#008080" d="M196.7,1074.9L198.5,1075.8L200.3,1076.7L202.1,1077.6L203.9,1078.5L205.7,1079.4L207.5,1080.3L209.4,1081.2L211.2,1082.1L213.0,1082.9L214.8,1083.8L216.6,1084.7L218.5,1085.5L220.3,1086.4L222.1,1087.2L224.0,1088.1L225.8,1088.9L227.7,1089.7L229.5,1090.6L231.4,1091.4L233.2,1092.2L235.1,1093.0L237.0,1093.8L238.8,1094.6L240.7,1095.4L242.6,1096.1L244.5,1096.9L246.4,1097.7L248.2,1098.4L250.1,1099.1L252.0,1099.9L253.9,1100.6L255.8,1101.3L257.7,1102.0L259.6,1102.7L261.6,1103.4L263.5,1104.1L265.4,1104.8L267.3,1105.4L269.3,1106.1L271.2,1106.7L273.1,1107.3L275.1,1108.0L277.0,1108.6L279.0,1109.2L280.9,1109.7L282.9,1110.3L284.9,1110.9L286.8,1111.4L288.8,1112.0L290.8,1112.5L292.8,1113.0L294.8,1113.5L296.8,1114.0L298.8,1114.4L300.8,1114.9L302.8,1115.3L304.8,1115.8L306.8,1116.2L308.8,1116.6L310.8,1116.9L312.8,1117.3L314.9,1117.6L316.9,1118.0L319.0,1118.3L321.0,1118.6L323.0,1118.8L325.1,1119.1L327.1,1119.3L329.2,1119.5L331.3,1119.7L333.3,1119.9L335.4,1120.1L337.5,1120.2L339.5,1120.3L341.6,1120.4L343.7,1120.5L345.8,1120.5L347.8,1120.5L349.9,1120.5L352.0,1120.5L354.1,1120.4L356.2,1120.4L358.3,1120.2L360.4,1120.1L362.4,1120.0L364.5,1119.8L366.6,1119.5L368.7,1119.3L370.8,1119.0L372.8,1118.7L374.9,1118.4L377.0,1118.0L379.1,1117.6L381.1,1117.2L383.2,1116.7L385.2,1116.2L387.3,1115.7L389.3,1115.2L391.3,1114.6L393.4,1114.0L395.4,1113.3L397.4,1112.6L399.4,1111.9L401.3,1111.1L403.3,1110.4L405.2,1109.6L407.2,1108.7L409.1,1107.8L411.0,1107.0L412.9,1106.0L414.7,1105.1L416.6,1104.1L418.4,1103.1L420.3,1102.1L422.1,1101.1L423.9,1100.1L425.7,1099.0L427.4,1097.9L429.2,1096.8L430.9,1095.7L432.7,1094.5L434.4,1093.3L436.1,1092.2L437.8,1091.0L439.5,1089.8L441.1,1088.5L442.8,1087.3L444.4,1086.0L446.1,1084.8L447.7,1083.5L449.3,1082.2L450.9,1080.9L452.4,1079.6L454.0,1078.3L455.6,1076.9L457.1,1075.6L458.7,1074.2L460.2,1072.8L461.7,1071.5L463.2,1070.1L464.7,1068.7L466.2,1067.3L467.7,1065.8L469.1,1064.4L470.6,1063.0L472.0,1061.5L473.5,1060.1L474.9,1058.6L476.3,1057.1L477.7,1055.7L479.1,1054.2L480.5,1052.7L481.9,1051.2L483.3,1049.7L484.7,1048.2L486.0,1046.6L487.4,1045.1L488.7,1043.6L490.0,1042.0L491.3,1040.5L492.7,1038.9L494.0,1037.3L495.3,1035.8L496.5,1034.2L497.8,1032.6L499.1,1031.0L500.4,1029.4L501.6,1027.8L502.9,1026.2L504.1,1024.6L505.3,1023.0L506.6,1021.4L507.8,1019.7L509.0,1018.1L510.2,1016.5L511.4,1014.8L512.6,1013.2L513.8,1011.5L514.9,1009.9L516.1,1008.2L517.3,1006.6L518.4,1004.9L519.6,1003.3L520.7,1001.6L521.9,999.9L523.0,998.2L524.1,996.6L525.3,994.9L526.4,993.2L527.5,991.5L528.6,989.8L529.7,988.1L530.8,986.4L531.9,984.7L533.0,983.0L534.1,981.4L535.2,979.6L536.3,977.9L537.3,976.2L538.4,974.5L539.5,972.8L540.5,971.1L541.6,969.4L542.7,967.7L543.7,966.0L544.8,964.3L545.8,962.6L546.9,960.8L547.9,959.1L549.0,957.4L550.0,955.7L551.0,954.0L552.1,952.2L553.1,950.5L554.1,948.8L555.2,947.1L556.2,945.4L557.2,943.6L558.3,941.9L559.3,940.2L560.3,938.5L561.3,936.8L562.4,935.0L563.4,933.3L564.4,931.6L565.4,929.9L566.5,928.2L567.5,926.4L568.5,924.7L569.5,923.0L570.6,921.3L571.6,919.6L572.6,917.9L573.7,916.2L574.7,914.4L575.7,912.7L576.7,911.0L577.8,909.3L578.8,907.6L579.8,905.9L580.9,904.2L581.9,902.5L583.0,900.8L584.0,899.1L585.1,897.4L586.1,895.7L587.2,894.1L588.2,892.4L589.3,890.7L590.3,889.0L591.4,887.3L592.5,885.6L593.5,884.0L594.6,882.3L595.7,880.6L596.8,879.0L597.9,877.3L598.9,875.7L600.0,874.0L601.1,872.4L602.2,870.7L603.3,869.1L604.5,867.4L605.6,865.8L606.7,864.1L607.8,862.5L608.9,860.9L610.1,859.3L611.2,857.7L612.4,856.0L613.5,854.4L614.7,852.8L615.8,851.2L617.0,849.6L618.2,848.0L619.3,846.4L620.5,844.8L621.7,843.2L622.9,841.7L624.1,840.1L625.3,838.5L626.5,836.9L627.7,835.4L628.9,833.8L630.1,832.3L631.4,830.7L632.6,829.2L633.8,827.6L635.1,826.1L636.3,824.6L637.6,823.0L638.8,821.5L640.1,820.0L641.4,818.5L642.7,817.0L643.9,815.5L645.2,814.0L646.5,812.5L647.8,811.0L649.1,809.5L650.4,808.0L651.7,806.5L653.1,805.1L654.4,803.6L655.7,802.2L657.1,800.7L658.4,799.3L659.7,797.8L661.1,796.4L662.5,795.0L663.8,793.5L665.2,792.1L666.6,790.7L668.0,789.3L669.4,787.9L670.8,786.5L672.2,785.2L673.6,783.8L675.0,782.4L676.4,781.0L677.8,779.7L679.3,778.3L680.7,777.0L682.1,775.6L683.6,774.3L685.1,773.0L686.5,771.7L688.0,770.4L689.5,769.1L690.9,767.8L692.4,766.5L693.9,765.2L695.4,763.9L696.9,762.7L698.4,761.4L700.0,760.1L701.5,758.9L703.0,757.7L704.5,756.4L706.1,755.2L707.6,754.0L709.2,752.8L710.8,751.6L712.3,750.4L713.9,749.3L715.5,748.1L717.1,746.9L718.7,745.8L720.2,744.6L721.9,743.5L723.5,742.4L725.1,741.2L726.7,740.1L728.3,739.0L730.0,737.9L731.6,736.9L733.2,735.8L734.9,734.7L736.5,733.7L738.2,732.6L739.9,731.6L741.5,730.6L743.2,729.5L744.9,728.5L746.6,727.5L748.3,726.6L750.0,725.6L751.7,724.6L753.4,723.7L755.1,722.7L756.8,721.8L758.6,720.8L760.3,719.9L762.0,719.0L763.8,718.1L765.5,717.2L767.3,716.3L769.0,715.5L770.8,714.6L772.6,713.8L774.4,712.9L776.1,712.1L777.9,711.3L779.7,710.5L781.5,709.7L783.3,708.9L785.1,708.1L786.9,707.4L788.7,706.6L790.5,705.9L792.4,705.1L794.2,704.4L796.0,703.7L797.8,703.0L799.7,702.3L801.5,701.6L803.4,700.9L805.2,700.3L807.1,699.6L808.9,698.9L810.8,698.3L812.7,697.7L814.5,697.0L816.4,696.4L818.3,695.8L820.2,695.2L822.0,694.6L823.9,694.0L825.8,693.4L827.7,692.8L829.6,692.3L831.5,691.7L833.4,691.1L835.3,690.6L837.2,690.1L839.1,689.5L841.0,689.0L842.9,688.5L844.8,687.9L846.7,687.4L848.6,686.9L850.5,686.4L852.5,685.9L854.4,685.4L856.3,685.0L858.2,684.5L860.2,684.0L862.1,683.5L864.0,683.1L865.9,682.6L867.9,682.2L869.8,681.7L871.7,681.3L873.7,680.8L875.6,680.4L877.6,680.0L879.5,679.5L881.4,679.1L883.4,678.7L885.3,678.3L887.3,677.9L889.2,677.5L891.1,677.1L893.1,676.7L895.0,676.3L896.9,675.9L898.9,675.6L900.8,675.2L902.7,674.9L904.7,674.6L906.6,674.3L908.5,674.0L910.5,673.7L912.4,673.4L914.3,673.1L916.3,672.9L918.2,672.7L920.1,672.5L922.0,672.3L924.0,672.1L925.9,671.9L927.8,671.8L929.7,671.7L931.7,671.6L933.6,671.5L935.5,671.5L937.4,671.5L939.3,671.5L941.2,671.5L943.1,671.5L945.0,671.6L946.9,671.7L948.8,671.8L950.7,672.0L952.6,672.2L954.5,672.4L956.4,672.6L958.3,672.9L960.2,673.2L962.1,673.5L964.0,673.8L965.9,674.1L967.7,674.5L969.6,674.9L971.5,675.4L973.3,675.8L975.2,676.3L977.0,676.8L978.9,677.3L980.7,677.8L982.6,678.4L984.4,679.0L986.2,679.6L988.0,680.2L989.8,680.9L991.6,681.6L993.4,682.3L995.2,683.0L997.0,683.7L998.7,684.5L1000.5,685.2L1002.2,686.0L1004.0,686.9L1005.7,687.7L1007.4,688.6L1009.1,689.4L1010.8,690.3L1012.5,691.2L1014.2,692.2L1015.9,693.1L1017.6,694.1L1019.2,695.1L1020.9,696.1L1022.5,697.1L1024.1,698.1L1025.8,699.2L1027.4,700.3L1029.0,701.4L1030.5,702.5L1032.1,703.6L1033.7,704.7L1035.2,705.9L1036.8,707.0L1038.3,708.2L1039.8,709.4L1041.3,710.6L1042.8,711.9L1044.3,713.1L1045.8,714.4L1047.2,715.6L1048.7,716.9L1050.1,718.2L1051.5,719.5L1052.9,720.8L1054.3,722.2L1055.7,723.5L1057.1,724.9L1058.5,726.3L1059.8,727.7L1061.2,729.1L1062.5,730.5L1063.8,731.9L1065.1,733.4L1066.4,734.8L1067.7,736.3L1069.0,737.8L1070.3,739.2L1071.5,740.7L1072.8,742.2L1074.0,743.7L1075.3,745.3L1076.5,746.8L1077.7,748.3L1078.9,749.9L1080.1,751.4L1081.3,753.0L1082.5,754.5L1083.7,756.1L1084.8,757.7L1086.0,759.3L1087.2,760.9L1088.3,762.5L1089.5,764.1L1090.6,765.7L1091.7,767.3L1092.8,768.9L1094.0,770.6L1095.1,772.2L1096.2,773.8L1097.3,775.5L1098.4,777.1L1099.5,778.8L1100.5,780.4L1101.6,782.1L1102.7,783.8L1103.8,785.4L1104.9,787.1L1105.9,788.8L1107.0,790.5L1108.0,792.1L1109.1,793.8L1110.2,795.5L1111.2,797.2L1112.3,798.9L1113.3,800.6L1114.4,802.3L1115.4,804.0L1116.4,805.7L1117.5,807.4L1118.5,809.1L1119.5,810.8L1120.6,812.5L1121.6,814.2L1122.6,815.9L1123.6,817.6L1124.6,819.3L1125.6,821.0L1126.7,822.7L1127.7,824.5L1128.7,826.2L1129.7,827.9L1130.7,829.6L1131.7,831.3L1132.7,833.1L1133.7,834.8L1134.7,836.5L1135.7,838.2L1136.7,840.0L1137.6,841.7L1138.6,843.4L1139.6,845.2L1140.6,846.9L1141.6,848.6L1142.5,850.4L1143.5,852.1L1144.5,853.9L1145.5,855.6L1146.4,857.4L1147.4,859.1L1148.4,860.8L1149.4,862.6L1150.3,864.3L1151.3,866.1L1152.2,867.8L1153.2,869.6L1154.2,871.3L1155.1,873.1L1156.1,874.8L1157.0,876.6L1158.0,878.3L1159.0,880.1L1159.9,881.8L1160.9,883.6L1161.8,885.4L1162.8,887.1L1163.7,888.9L1164.7,890.6L1165.6,892.4L1166.6,894.1L1167.5,895.9L1168.5,897.7L1169.4,899.4L1170.4,901.2L1171.3,903.0L1172.3,904.7L1173.2,906.5L1174.2,908.2L1175.1,910.0L1176.1,911.8L1177.0,913.5L1178.0,915.3L1178.9,917.1L1179.9,918.8L1180.8,920.6L1181.7,922.3L1182.7,924.1L1183.6,925.9L1184.6,927.6L1185.5,929.4L1186.5,931.2L1187.4,932.9L1188.4,934.7L1189.4,936.5L1190.3,938.2L1191.3,940.0L1192.2,941.7L1193.2,943.5L1194.1,945.3L1195.1,947.0L1196.0,948.8L1197.0,950.6L1198.0,952.3L1198.9,954.1L1199.9,955.8L1200.9,957.6L1201.8,959.4L1202.8,961.1L1203.8,962.9L1204.7,964.6L1205.7,966.4L1206.7,968.1L1207.6,969.9L1208.6,971.7L1209.6,973.4L1210.6,975.2L1211.6,976.9L1212.5,978.7L1213.5,980.4L1214.5,982.2L1215.5,983.9L1216.5,985.7L1217.5,987.4L1218.5,989.2L1219.5,990.9L1220.5,992.6L1221.5,994.4L1222.5,996.1L1223.5,997.9L1224.5,999.6L1225.5,1001.3L1226.5,1003.1L1227.6,1004.8L1228.6,1006.6L1229.6,1008.3L1230.6,1010.0L1231.7,1011.7L1232.7,1013.5L1233.7,1015.2L1234.8,1016.9L1235.8,1018.7L1236.8,1020.4L1237.9,1022.1L1238.9,1023.8L1240.0,1025.5L1241.0,1027.2L1242.1,1029.0L1243.2,1030.7L1244.2,1032.4L1245.3,1034.1L1246.4,1035.8L1247.4,1037.5L1248.5,1039.2L1249.6,1040.9L1250.7,1042.6L1251.8,1044.3L1252.9,1046.0L1254.0,1047.7L1255.1,1049.4L1256.2,1051.1L1257.3,1052.8L1258.4,1054.4L1259.5,1056.1L1260.6,1057.8L1261.7,1059.5L1262.9,1061.2L1264.0,1062.8L1265.1,1064.5L1266.3,1066.2L1267.4,1067.8L1268.6,1069.5L1269.7,1071.1L1270.9,1072.8L1272.1,1074.5L1273.2,1076.1L1274.4,1077.7L1275.6,1079.4L1276.8,1081.0L1278.0,1082.7L1279.2,1084.3L1280.4,1085.9L1281.6,1087.6L1282.8,1089.2L1284.0,1090.8L1285.2,1092.4L1286.4,1094.0L1287.7,1095.6L1288.9,1097.2L1290.1,1098.8L1291.4,1100.4L1292.6,1102.0L1293.9,1103.6L1295.2,1105.2L1296.4,1106.8L1297.7,1108.3L1299.0,1109.9L1300.3,1111.5L1301.6,1113.0L1302.9,1114.6L1304.2,1116.1L1305.5,1117.7L1306.9,1119.2L1308.2,1120.8L1309.5,1122.3L1310.9,1123.8L1312.2,1125.3L1313.6,1126.8L1314.9,1128.4L1316.3,1129.9L1317.7,1131.4L1319.1,1132.8L1320.5,1134.3L1321.9,1135.8L1323.3,1137.3L1324.7,1138.7L1326.1,1140.2L1327.5,1141.7L1329.0,1143.1L1330.4,1144.5L1331.8,1146.0L1333.3,1147.4L1334.8,1148.8L1336.2,1150.2L1337.7,1151.6L1339.2,1153.0L1340.7,1154.4L1342.2,1155.8L1343.7,1157.2L1345.2,1158.5L1346.8,1159.9L1348.3,1161.2L1349.8,1162.6L1351.4,1163.9L1353.0,1165.2L1354.5,1166.5L1356.1,1167.8L1357.7,1169.1L1359.3,1170.4L1360.9,1171.7L1362.5,1172.9L1364.1,1174.2L1365.7,1175.4L1367.4,1176.7L1369.0,1177.9L1370.7,1179.1L1372.3,1180.3L1374.0,1181.5L1375.7,1182.7L1377.3,1183.8L1379.0,1185.0L1380.7,1186.1L1382.4,1187.3L1384.2,1188.4L1385.9,1189.5L1387.6,1190.6L1389.4,1191.7L1391.1,1192.8L1392.9,1193.8L1394.6,1194.9L1396.4,1195.9L1398.2,1196.9L1400.0,1197.9L1401.8,1198.8L1403.6,1199.8L1405.5,1200.7L1407.3,1201.7L1409.1,1202.6L1411.0,1203.5L1412.8,1204.3L1414.7,1205.2L1416.6,1206.1L1418.4,1206.9L1420.3,1207.7L1422.2,1208.5L1424.1,1209.3L1426.0,1210.1L1427.9,1210.9L1429.8,1211.6L1431.7,1212.4L1433.6,1213.1L1435.5,1213.8L1437.4,1214.5L1439.3,1215.2L1441.3,1215.9L1443.2,1216.6L1445.1,1217.2L1447.1,1217.9L1449.0,1218.5L1450.9,1219.1L1452.9,1219.7L1454.8,1220.3L1456.8,1220.9L1458.7,1221.5L1460.7,1222.0L1462.7,1222.6L1464.6,1223.1L1466.6,1223.6L1468.6,1224.2L1470.5,1224.7L1472.5,1225.2L1474.5,1225.6L1476.4,1226.1L1478.4,1226.6L1480.4,1227.0L1482.4,1227.5L1484.4,1227.9L1486.3,1228.3L1488.3,1228.7L1490.3,1229.1L1492.3,1229.5L1494.3,1229.9L1496.3,1230.3L1498.3,1230.7L1500.3,1231.0L1502.3,1231.4L1504.3,1231.7L1506.3,1232.0L1508.2,1232.4L1510.2,1232.7L1512.2,1233.0L1514.2,1233.3L1516.2,1233.6L1518.2,1233.9L1520.2,1234.1L1522.2,1234.4L1524.3,1234.7L1526.3,1234.9L1528.3,1235.2L1530.3,1235.4L1532.3,1235.6L1534.3,1235.8L1536.3,1236.1L1538.3,1236.3L1540.3,1236.5L1542.3,1236.7L1544.3,1236.9L1546.3,1237.0L1548.3,1237.2L1550.3,1237.4L1552.3,1237.5L1554.3,1237.7L1556.4,1237.9L1558.4,1238.0L1560.4,1238.1L1562.4,1238.3L1564.4,1238.5L1566.4,1238.6L1568.4,1238.8L1570.4,1238.9L1572.4,1239.1L1574.4,1239.2L1576.4,1239.3L1578.4,1239.4L1580.4,1239.6L1582.5,1239.7L1584.5,1239.8L1586.5,1239.9L1588.6,1239.9L1590.7,1239.9L1592.7,1239.9L1594.7,1239.9L1596.7,1239.9L1598.7,1239.9L1600.7,1239.9L1602.7,1239.9L1604.7,1239.9L1606.7,1239.9L1608.7,1239.9L1610.7,1239.9L1612.7,1239.9L1614.7,1239.9L1616.7,1239.9L1618.7,1239.9L1620.7,1239.9L1622.7,1239.9L1624.7,1239.9L1626.7,1239.9L1628.7,1239.9L1630.7,1239.9L1632.7,1239.8L1634.7,1239.8L1636.7,1239.8L1638.7,1239.8L1640.7,1239.8L1642.7,1239.8L1644.7,1239.8L1646.7,1239.8L1648.7,1239.8L1650.7,1239.8L1652.7,1239.8L1654.7,1239.8L1656.7,1239.8L1658.7,1239.8L1660.7,1239.8L1662.7,1239.8L1664.7,1239.8L1666.7,1239.8L1668.7,1239.8L1670.7,1239.8L1672.7,1239.8L1674.7,1239.8L1676.7,1239.8L1678.7,1239.8L1680.7,1239.7L1682.7,1239.7L1684.7,1239.7L1686.7,1239.7L1688.7,1239.7L1690.7,1239.7L1692.7,1239.7L1694.7,1239.7L1696.7,1239.7L1698.8,1239.7L1700.8,1239.7L1702.8,1239.7L1704.8,1239.7L1706.8,1239.7L1708.8,1239.7L1710.8,1239.7L1712.8,1239.7L1714.8,1239.7L1716.8,1239.7L1718.8,1239.7L1720.8,1239.7L1722.8,1239.7L1724.8,1239.7L1726.8,1239.6L1728.8,1239.6L1730.8,1239.5L1732.8,1239.5L1734.8,1239.4L1734.7,1232.2L1732.7,1232.2L1730.7,1232.2L1728.7,1232.3L1726.7,1232.3L1724.7,1232.3L1722.8,1232.3L1720.8,1232.3L1718.8,1232.3L1716.8,1232.3L1714.8,1232.3L1712.8,1232.3L1710.8,1232.3L1708.8,1232.3L1706.8,1232.3L1704.8,1232.3L1702.8,1232.3L1700.8,1232.3L1698.8,1232.3L1696.7,1232.3L1694.7,1232.3L1692.7,1232.3L1690.7,1232.3L1688.7,1232.3L1686.7,1232.3L1684.7,1232.3L1682.7,1232.3L1680.7,1232.3L1678.7,1232.2L1676.7,1232.2L1674.7,1232.2L1672.7,1232.2L1670.7,1232.2L1668.7,1232.2L1666.7,1232.2L1664.7,1232.2L1662.7,1232.2L1660.7,1232.2L1658.7,1232.2L1656.7,1232.2L1654.7,1232.2L1652.7,1232.2L1650.7,1232.2L1648.7,1232.2L1646.7,1232.2L1644.7,1232.2L1642.7,1232.2L1640.7,1232.2L1638.7,1232.2L1636.7,1232.2L1634.7,1232.2L1632.7,1232.2L1630.7,1232.1L1628.7,1232.1L1626.7,1232.1L1624.7,1232.1L1622.7,1232.1L1620.7,1232.1L1618.7,1232.1L1616.7,1232.1L1614.7,1232.1L1612.7,1232.1L1610.7,1232.1L1608.7,1232.1L1606.7,1232.1L1604.7,1232.1L1602.7,1232.1L1600.7,1232.1L1598.7,1232.1L1596.7,1232.1L1594.7,1232.1L1592.7,1232.1L1590.7,1232.1L1588.7,1232.1L1586.8,1232.0L1584.9,1231.9L1582.9,1231.8L1580.9,1231.7L1578.9,1231.5L1576.9,1231.4L1575.0,1231.3L1573.0,1231.1L1571.0,1231.0L1569.0,1230.8L1567.0,1230.7L1565.0,1230.5L1563.0,1230.4L1561.1,1230.2L1559.1,1230.0L1557.1,1229.8L1555.1,1229.5L1553.1,1229.3L1551.2,1229.1L1549.2,1228.8L1547.2,1228.6L1545.3,1228.3L1543.3,1228.1L1541.3,1227.8L1539.3,1227.5L1537.4,1227.3L1535.4,1227.0L1533.4,1226.7L1531.5,1226.4L1529.5,1226.1L1527.6,1225.8L1525.6,1225.4L1523.6,1225.1L1521.7,1224.8L1519.7,1224.4L1517.8,1224.1L1515.8,1223.7L1513.9,1223.4L1511.9,1223.0L1510.0,1222.6L1508.0,1222.2L1506.1,1221.8L1504.2,1221.4L1502.2,1221.0L1500.3,1220.6L1498.4,1220.2L1496.4,1219.7L1494.5,1219.3L1492.6,1218.8L1490.7,1218.3L1488.7,1217.9L1486.8,1217.4L1484.9,1216.9L1483.0,1216.4L1481.1,1215.9L1479.2,1215.4L1477.3,1214.8L1475.4,1214.3L1473.5,1213.8L1471.6,1213.2L1469.7,1212.6L1467.8,1212.1L1466.0,1211.5L1464.1,1210.9L1462.2,1210.3L1460.3,1209.6L1458.5,1209.0L1456.6,1208.4L1454.8,1207.7L1452.9,1207.1L1451.1,1206.4L1449.2,1205.7L1447.4,1205.0L1445.5,1204.3L1443.7,1203.6L1441.9,1202.9L1440.1,1202.1L1438.3,1201.4L1436.5,1200.6L1434.7,1199.8L1432.9,1199.0L1431.1,1198.2L1429.3,1197.4L1427.5,1196.6L1425.8,1195.8L1424.0,1194.9L1422.2,1194.1L1420.5,1193.2L1418.8,1192.3L1417.0,1191.4L1415.3,1190.5L1413.6,1189.6L1411.9,1188.6L1410.2,1187.7L1408.5,1186.7L1406.8,1185.8L1405.1,1184.8L1403.4,1183.8L1401.7,1182.8L1400.1,1181.8L1398.4,1180.8L1396.7,1179.8L1395.1,1178.7L1393.4,1177.7L1391.8,1176.6L1390.1,1175.6L1388.5,1174.5L1386.9,1173.4L1385.3,1172.3L1383.7,1171.2L1382.1,1170.1L1380.5,1168.9L1378.9,1167.8L1377.3,1166.6L1375.8,1165.5L1374.2,1164.3L1372.6,1163.1L1371.1,1161.9L1369.6,1160.7L1368.0,1159.5L1366.5,1158.2L1365.0,1157.0L1363.5,1155.7L1362.0,1154.5L1360.5,1153.2L1359.0,1151.9L1357.5,1150.7L1356.0,1149.4L1354.6,1148.1L1353.1,1146.8L1351.6,1145.4L1350.2,1144.1L1348.8,1142.8L1347.3,1141.4L1345.9,1140.1L1344.5,1138.7L1343.1,1137.4L1341.7,1136.0L1340.3,1134.6L1338.9,1133.2L1337.5,1131.8L1336.1,1130.4L1334.7,1129.0L1333.4,1127.6L1332.0,1126.2L1330.6,1124.7L1329.3,1123.3L1328.0,1121.8L1326.6,1120.4L1325.3,1118.9L1324.0,1117.5L1322.7,1116.0L1321.3,1114.5L1320.0,1113.1L1318.7,1111.6L1317.5,1110.1L1316.2,1108.6L1314.9,1107.1L1313.6,1105.6L1312.3,1104.1L1311.1,1102.5L1309.8,1101.0L1308.6,1099.5L1307.3,1098.0L1306.1,1096.4L1304.9,1094.9L1303.6,1093.3L1302.4,1091.8L1301.2,1090.2L1300.0,1088.7L1298.8,1087.1L1297.6,1085.5L1296.4,1083.9L1295.2,1082.4L1294.0,1080.8L1292.8,1079.2L1291.6,1077.6L1290.4,1076.0L1289.3,1074.4L1288.1,1072.8L1286.9,1071.2L1285.8,1069.6L1284.6,1068.0L1283.5,1066.4L1282.3,1064.7L1281.2,1063.1L1280.1,1061.5L1278.9,1059.9L1277.8,1058.2L1276.7,1056.6L1275.6,1055.0L1274.5,1053.3L1273.4,1051.7L1272.3,1050.0L1271.2,1048.4L1270.1,1046.7L1269.0,1045.1L1267.9,1043.4L1266.8,1041.7L1265.7,1040.1L1264.6,1038.4L1263.5,1036.7L1262.5,1035.1L1261.4,1033.4L1260.3,1031.7L1259.3,1030.0L1258.2,1028.3L1257.2,1026.7L1256.1,1025.0L1255.1,1023.3L1254.0,1021.6L1253.0,1019.9L1251.9,1018.2L1250.9,1016.5L1249.8,1014.8L1248.8,1013.1L1247.8,1011.4L1246.8,1009.7L1245.7,1008.0L1244.7,1006.3L1243.7,1004.6L1242.7,1002.9L1241.7,1001.2L1240.6,999.4L1239.6,997.7L1238.6,996.0L1237.6,994.3L1236.6,992.6L1235.6,990.8L1234.6,989.1L1233.6,987.4L1232.6,985.7L1231.6,983.9L1230.6,982.2L1229.7,980.5L1228.7,978.7L1227.7,977.0L1226.7,975.3L1225.7,973.5L1224.7,971.8L1223.8,970.1L1222.8,968.3L1221.8,966.6L1220.9,964.8L1219.9,963.1L1218.9,961.3L1217.9,959.6L1217.0,957.9L1216.0,956.1L1215.0,954.4L1214.1,952.6L1213.1,950.9L1212.2,949.1L1211.2,947.4L1210.2,945.6L1209.3,943.9L1208.3,942.1L1207.4,940.3L1206.4,938.6L1205.5,936.8L1204.5,935.1L1203.6,933.3L1202.6,931.6L1201.7,929.8L1200.7,928.0L1199.8,926.3L1198.8,924.5L1197.9,922.8L1196.9,921.0L1196.0,919.2L1195.0,917.5L1194.1,915.7L1193.1,914.0L1192.2,912.2L1191.2,910.4L1190.3,908.7L1189.3,906.9L1188.4,905.1L1187.4,903.4L1186.5,901.6L1185.5,899.8L1184.6,898.1L1183.7,896.3L1182.7,894.6L1181.8,892.8L1180.8,891.0L1179.8,889.3L1178.9,887.5L1177.9,885.7L1177.0,884.0L1176.0,882.2L1175.1,880.4L1174.1,878.7L1173.2,876.9L1172.2,875.2L1171.3,873.4L1170.3,871.6L1169.3,869.9L1168.4,868.1L1167.4,866.4L1166.4,864.6L1165.5,862.8L1164.5,861.1L1163.5,859.3L1162.6,857.6L1161.6,855.8L1160.6,854.0L1159.7,852.3L1158.7,850.5L1157.7,848.8L1156.7,847.0L1155.7,845.3L1154.8,843.5L1153.8,841.8L1152.8,840.0L1151.8,838.3L1150.8,836.5L1149.8,834.8L1148.8,833.0L1147.8,831.3L1146.8,829.5L1145.8,827.8L1144.8,826.1L1143.8,824.3L1142.8,822.6L1141.8,820.8L1140.8,819.1L1139.7,817.4L1138.7,815.6L1137.7,813.9L1136.7,812.2L1135.7,810.4L1134.6,808.7L1133.6,807.0L1132.6,805.3L1131.5,803.5L1130.5,801.8L1129.4,800.1L1128.4,798.4L1127.3,796.6L1126.3,794.9L1125.2,793.2L1124.2,791.5L1123.1,789.8L1122.0,788.1L1121.0,786.4L1119.9,784.7L1118.8,783.0L1117.7,781.3L1116.7,779.6L1115.6,777.9L1114.5,776.2L1113.4,774.5L1112.3,772.8L1111.2,771.1L1110.0,769.4L1108.9,767.7L1107.8,766.0L1106.7,764.3L1105.5,762.7L1104.4,761.0L1103.2,759.3L1102.1,757.7L1100.9,756.0L1099.7,754.3L1098.5,752.7L1097.3,751.0L1096.1,749.4L1094.9,747.8L1093.7,746.1L1092.5,744.5L1091.2,742.9L1090.0,741.3L1088.7,739.7L1087.4,738.1L1086.2,736.5L1084.9,734.9L1083.6,733.3L1082.3,731.7L1080.9,730.2L1079.6,728.6L1078.3,727.0L1076.9,725.5L1075.5,724.0L1074.1,722.5L1072.7,720.9L1071.3,719.4L1069.9,718.0L1068.5,716.5L1067.0,715.0L1065.6,713.6L1064.1,712.1L1062.6,710.7L1061.1,709.3L1059.6,707.9L1058.0,706.5L1056.5,705.1L1054.9,703.8L1053.3,702.4L1051.8,701.1L1050.2,699.8L1048.5,698.5L1046.9,697.2L1045.3,695.9L1043.6,694.7L1042.0,693.4L1040.3,692.2L1038.6,691.0L1036.9,689.8L1035.2,688.7L1033.5,687.5L1031.7,686.4L1030.0,685.3L1028.2,684.2L1026.5,683.1L1024.7,682.0L1022.9,681.0L1021.1,680.0L1019.2,678.9L1017.4,678.0L1015.6,677.0L1013.7,676.1L1011.9,675.1L1010.0,674.2L1008.1,673.3L1006.2,672.5L1004.3,671.6L1002.4,670.8L1000.5,670.0L998.5,669.2L996.6,668.5L994.7,667.7L992.7,667.0L990.7,666.4L988.8,665.7L986.8,665.1L984.8,664.4L982.8,663.8L980.8,663.3L978.7,662.7L976.7,662.2L974.7,661.7L972.6,661.3L970.6,660.8L968.6,660.4L966.5,660.0L964.4,659.7L962.4,659.3L960.3,659.0L958.2,658.7L956.1,658.5L954.1,658.3L952.0,658.1L949.9,657.9L947.8,657.7L945.7,657.6L943.6,657.5L941.5,657.5L939.4,657.5L937.3,657.5L935.2,657.5L933.2,657.5L931.1,657.6L929.0,657.7L926.9,657.8L924.8,658.0L922.8,658.1L920.7,658.3L918.7,658.5L916.6,658.8L914.6,659.0L912.5,659.2L910.5,659.5L908.5,659.8L906.4,660.1L904.4,660.4L902.4,660.8L900.4,661.1L898.4,661.4L896.3,661.8L894.3,662.2L892.3,662.6L890.4,663.0L888.4,663.3L886.4,663.8L884.4,664.2L882.4,664.6L880.4,665.0L878.5,665.4L876.5,665.9L874.5,666.3L872.6,666.7L870.6,667.2L868.6,667.6L866.7,668.1L864.7,668.5L862.7,669.0L860.8,669.5L858.8,669.9L856.8,670.4L854.9,670.9L852.9,671.4L850.9,671.9L849.0,672.4L847.0,672.9L845.1,673.4L843.1,673.9L841.2,674.4L839.2,675.0L837.3,675.5L835.3,676.0L833.4,676.6L831.4,677.1L829.5,677.7L827.5,678.3L825.6,678.8L823.6,679.4L821.7,680.0L819.7,680.6L817.8,681.2L815.9,681.9L813.9,682.5L812.0,683.1L810.1,683.7L808.2,684.4L806.2,685.1L804.3,685.7L802.4,686.4L800.5,687.1L798.6,687.8L796.7,688.5L794.8,689.2L792.8,689.9L790.9,690.6L789.0,691.4L787.2,692.1L785.3,692.9L783.4,693.7L781.5,694.5L779.6,695.3L777.7,696.1L775.9,696.9L774.0,697.7L772.1,698.5L770.3,699.4L768.4,700.3L766.6,701.1L764.7,702.0L762.9,702.9L761.1,703.8L759.2,704.7L757.4,705.6L755.6,706.6L753.8,707.5L752.0,708.5L750.2,709.5L748.4,710.4L746.6,711.4L744.8,712.4L743.0,713.4L741.3,714.4L739.5,715.5L737.8,716.5L736.0,717.6L734.3,718.6L732.5,719.7L730.8,720.8L729.1,721.8L727.3,722.9L725.6,724.0L723.9,725.2L722.2,726.3L720.5,727.4L718.8,728.6L717.1,729.7L715.5,730.9L713.8,732.0L712.1,733.2L710.5,734.4L708.8,735.6L707.2,736.8L705.5,738.0L703.9,739.2L702.3,740.5L700.7,741.7L699.0,743.0L697.4,744.2L695.8,745.5L694.2,746.8L692.7,748.0L691.1,749.3L689.5,750.6L687.9,751.9L686.4,753.2L684.8,754.5L683.3,755.9L681.8,757.2L680.2,758.5L678.7,759.9L677.2,761.2L675.7,762.6L674.2,764.0L672.7,765.3L671.2,766.7L669.7,768.1L668.2,769.5L666.7,770.9L665.3,772.3L663.8,773.7L662.3,775.2L660.9,776.6L659.5,778.0L658.0,779.5L656.6,780.9L655.2,782.4L653.8,783.8L652.4,785.3L650.9,786.8L649.6,788.2L648.2,789.7L646.8,791.2L645.4,792.7L644.0,794.2L642.7,795.7L641.3,797.2L640.0,798.7L638.6,800.2L637.3,801.8L635.9,803.3L634.6,804.8L633.3,806.4L632.0,807.9L630.7,809.5L629.4,811.0L628.1,812.6L626.8,814.1L625.5,815.7L624.2,817.3L622.9,818.8L621.7,820.4L620.4,822.0L619.1,823.6L617.9,825.2L616.6,826.8L615.4,828.4L614.2,830.0L612.9,831.6L611.7,833.2L610.5,834.8L609.3,836.5L608.1,838.1L606.9,839.7L605.7,841.4L604.5,843.0L603.3,844.6L602.1,846.3L601.0,847.9L599.8,849.6L598.6,851.2L597.5,852.9L596.3,854.5L595.2,856.2L594.0,857.9L592.9,859.5L591.7,861.2L590.6,862.9L589.5,864.6L588.4,866.3L587.3,867.9L586.1,869.6L585.0,871.3L583.9,873.0L582.8,874.7L581.7,876.4L580.7,878.1L579.6,879.8L578.5,881.5L577.4,883.2L576.4,884.9L575.3,886.6L574.2,888.3L573.2,890.1L572.1,891.8L571.0,893.5L570.0,895.2L568.9,896.9L567.9,898.6L566.8,900.3L565.8,902.1L564.8,903.8L563.7,905.5L562.7,907.2L561.7,908.9L560.6,910.7L559.6,912.4L558.6,914.1L557.5,915.8L556.5,917.5L555.5,919.3L554.4,921.0L553.4,922.7L552.4,924.4L551.4,926.2L550.3,927.9L549.3,929.6L548.3,931.3L547.3,933.0L546.3,934.7L545.2,936.5L544.2,938.2L543.2,939.9L542.1,941.6L541.1,943.3L540.1,945.0L539.1,946.7L538.0,948.4L537.0,950.1L536.0,951.8L534.9,953.5L533.9,955.2L532.8,956.9L531.8,958.6L530.8,960.3L529.7,962.0L528.7,963.7L527.6,965.4L526.6,967.1L525.5,968.8L524.4,970.5L523.4,972.1L522.3,973.8L521.2,975.5L520.2,977.2L519.1,978.8L518.0,980.5L516.9,982.1L515.8,983.8L514.7,985.5L513.6,987.1L512.5,988.8L511.4,990.4L510.3,992.0L509.2,993.7L508.1,995.3L506.9,996.9L505.8,998.5L504.7,1000.2L503.5,1001.8L502.4,1003.4L501.2,1005.0L500.1,1006.6L498.9,1008.2L497.7,1009.8L496.6,1011.4L495.4,1012.9L494.2,1014.5L493.0,1016.1L491.8,1017.6L490.6,1019.2L489.4,1020.7L488.1,1022.3L486.9,1023.8L485.7,1025.4L484.4,1026.9L483.2,1028.4L481.9,1029.9L480.7,1031.4L479.4,1032.9L478.1,1034.4L476.8,1035.9L475.5,1037.4L474.2,1038.8L472.9,1040.3L471.6,1041.7L470.3,1043.2L468.9,1044.6L467.6,1046.0L466.2,1047.5L464.9,1048.9L463.5,1050.3L462.1,1051.7L460.7,1053.0L459.3,1054.4L457.9,1055.8L456.5,1057.1L455.1,1058.5L453.7,1059.8L452.2,1061.1L450.8,1062.5L449.3,1063.8L447.9,1065.1L446.4,1066.3L444.9,1067.6L443.4,1068.9L442.0,1070.1L440.4,1071.3L438.9,1072.6L437.4,1073.8L435.9,1075.0L434.3,1076.1L432.8,1077.3L431.2,1078.4L429.7,1079.6L428.1,1080.7L426.5,1081.8L424.9,1082.9L423.3,1083.9L421.7,1085.0L420.0,1086.0L418.4,1087.0L416.8,1088.0L415.1,1089.0L413.4,1089.9L411.8,1090.8L410.1,1091.8L408.4,1092.6L406.7,1093.5L405.0,1094.3L403.2,1095.1L401.5,1095.9L399.8,1096.7L398.0,1097.4L396.2,1098.1L394.5,1098.8L392.7,1099.4L390.9,1100.1L389.1,1100.7L387.3,1101.2L385.5,1101.8L383.7,1102.3L381.9,1102.7L380.0,1103.2L378.2,1103.6L376.3,1104.0L374.5,1104.4L372.6,1104.7L370.7,1105.0L368.8,1105.3L366.9,1105.6L365.0,1105.8L363.1,1106.0L361.2,1106.2L359.3,1106.4L357.4,1106.5L355.5,1106.6L353.6,1106.7L351.7,1106.7L349.8,1106.8L347.9,1106.8L345.9,1106.8L344.0,1106.8L342.1,1106.7L340.2,1106.6L338.2,1106.5L336.3,1106.4L334.4,1106.3L332.4,1106.1L330.5,1106.0L328.6,1105.8L326.7,1105.6L324.7,1105.3L322.8,1105.1L320.9,1104.8L319.0,1104.5L317.1,1104.2L315.1,1103.9L313.2,1103.6L311.3,1103.2L309.4,1102.9L307.5,1102.5L305.6,1102.1L303.7,1101.7L301.8,1101.3L299.9,1100.8L298.0,1100.4L296.1,1099.9L294.2,1099.4L292.3,1099.0L290.4,1098.4L288.5,1097.9L286.6,1097.4L284.7,1096.9L282.8,1096.3L280.9,1095.8L279.1,1095.2L277.2,1094.6L275.3,1094.0L273.5,1093.4L271.6,1092.8L269.7,1092.1L267.9,1091.5L266.0,1090.9L264.2,1090.2L262.3,1089.5L260.4,1088.9L258.6,1088.2L256.8,1087.5L254.9,1086.8L253.1,1086.1L251.2,1085.3L249.4,1084.6L247.6,1083.9L245.7,1083.1L243.9,1082.4L242.1,1081.6L240.3,1080.9L238.5,1080.1L236.6,1079.3L234.8,1078.5L233.0,1077.7L231.2,1076.9L229.4,1076.1L227.6,1075.3L225.8,1074.5L224.0,1073.6L222.2,1072.8L220.4,1072.0L218.6,1071.1L216.8,1070.3L215.0,1069.4L213.3,1068.6L211.5,1067.7L209.7,1066.8L207.9,1065.9L206.1,1065.1L204.4,1064.2L202.6,1063.3Z"/>
<path fill="#ff00ff" d="M196.8,1079.7L198.7,1080.5L200.6,1081.3L202.4,1082.0L204.3,1082.8L206.2,1083.6L208.1,1084.3L209.9,1085.1L211.8,1085.8L213.7,1086.6L215.6,1087.3L217.5,1088.0L219.4,1088.7L221.3,1089.4L223.2,1090.1L225.1,1090.8L227.0,1091.5L228.9,1092.2L230.8,1092.9L232.8,1093.5L234.7,1094.2L236.6,1094.9L238.5,1095.5L240.5,1096.1L242.4,1096.7L244.4,1097.4L246.3,1098.0L248.3,1098.6L250.2,1099.1L252.2,1099.7L254.1,1100.3L256.1,1100.8L258.0,1101.4L260.0,1101.9L262.0,1102.5L264.0,1103.0L265.9,1103.5L267.9,1104.0L269.9,1104.5L271.9,1104.9L273.9,1105.4L275.9,1105.8L277.9,1106.3L279.9,1106.7L281.9,1107.1L283.9,1107.5L285.9,1107.9L287.9,1108.2L290.0,1108.6L292.0,1108.9L294.0,1109.3L296.1,1109.6L298.1,1109.9L300.1,1110.1L302.2,1110.4L304.2,1110.6L306.3,1110.9L308.3,1111.1L310.4,1111.3L312.4,1111.5L314.5,1111.6L316.6,1111.8L318.6,1111.9L320.7,1112.0L322.8,1112.1L324.8,1112.1L326.9,1112.2L329.0,1112.2L331.1,1112.2L333.1,1112.2L335.2,1112.2L337.3,1112.1L339.4,1112.0L341.5,1111.9L343.5,1111.8L345.6,1111.6L347.7,1111.4L349.8,1111.2L351.9,1111.0L353.9,1110.8L356.0,1110.5L358.1,1110.2L360.2,1109.8L362.2,1109.5L364.3,1109.1L366.4,1108.7L368.4,1108.2L370.5,1107.7L372.5,1107.2L374.5,1106.7L376.6,1106.1L378.6,1105.5L380.6,1104.9L382.6,1104.3L384.6,1103.6L386.6,1102.9L388.5,1102.2L390.5,1101.5L392.4,1100.7L394.4,1099.9L396.3,1099.1L398.2,1098.2L400.1,1097.4L402.0,1096.5L403.9,1095.6L405.8,1094.7L407.6,1093.7L409.5,1092.8L411.3,1091.8L413.1,1090.8L414.9,1089.8L416.7,1088.8L418.5,1087.7L420.3,1086.6L422.1,1085.6L423.8,1084.5L425.6,1083.4L427.3,1082.2L429.0,1081.1L430.7,1079.9L432.4,1078.8L434.1,1077.6L435.8,1076.4L437.5,1075.2L439.2,1074.0L440.8,1072.8L442.4,1071.5L444.1,1070.3L445.7,1069.0L447.3,1067.7L448.9,1066.5L450.5,1065.2L452.1,1063.9L453.7,1062.6L455.2,1061.2L456.8,1059.9L458.3,1058.6L459.9,1057.2L461.4,1055.9L462.9,1054.5L464.5,1053.2L466.0,1051.8L467.5,1050.4L469.0,1049.0L470.4,1047.6L471.9,1046.2L473.4,1044.8L474.9,1043.4L476.3,1041.9L477.8,1040.5L479.2,1039.1L480.6,1037.6L482.1,1036.2L483.5,1034.7L484.9,1033.3L486.3,1031.8L487.7,1030.3L489.1,1028.8L490.5,1027.3L491.9,1025.8L493.2,1024.3L494.6,1022.8L496.0,1021.3L497.3,1019.8L498.7,1018.3L500.0,1016.8L501.4,1015.3L502.7,1013.7L504.0,1012.2L505.3,1010.7L506.6,1009.1L508.0,1007.6L509.3,1006.0L510.6,1004.5L511.9,1002.9L513.1,1001.4L514.4,999.8L515.7,998.2L517.0,996.7L518.3,995.1L519.5,993.5L520.8,992.0L522.0,990.4L523.3,988.8L524.6,987.2L525.8,985.6L527.0,984.0L528.3,982.4L529.5,980.9L530.8,979.3L532.0,977.7L533.2,976.1L534.4,974.5L535.7,972.9L536.9,971.3L538.1,969.7L539.3,968.1L540.5,966.5L541.7,964.9L542.9,963.3L544.2,961.6L545.4,960.0L546.6,958.4L547.8,956.8L549.0,955.2L550.2,953.6L551.4,952.0L552.6,950.4L553.7,948.8L554.9,947.2L556.1,945.5L557.3,943.9L558.5,942.3L559.7,940.7L560.9,939.1L562.1,937.5L563.3,935.9L564.5,934.3L565.7,932.7L566.8,931.1L568.0,929.4L569.2,927.8L570.4,926.2L571.6,924.6L572.8,923.0L574.0,921.4L575.2,919.8L576.4,918.2L577.6,916.6L578.8,915.0L580.0,913.4L581.2,911.8L582.4,910.2L583.5,908.6L584.7,907.0L586.0,905.4L587.2,903.9L588.4,902.3L589.6,900.7L590.8,899.1L592.0,897.5L593.2,895.9L594.4,894.3L595.6,892.8L596.8,891.2L598.1,889.6L599.3,888.1L600.5,886.5L601.7,884.9L603.0,883.4L604.2,881.8L605.4,880.2L606.7,878.7L607.9,877.1L609.1,875.6L610.4,874.0L611.6,872.5L612.9,871.0L614.2,869.4L615.4,867.9L616.7,866.4L617.9,864.8L619.2,863.3L620.5,861.8L621.8,860.3L623.0,858.8L624.3,857.3L625.6,855.8L626.9,854.3L628.2,852.8L629.5,851.3L630.8,849.8L632.1,848.3L633.4,846.8L634.8,845.4L636.1,843.9L637.4,842.4L638.8,841.0L640.1,839.5L641.4,838.1L642.8,836.6L644.1,835.2L645.5,833.8L646.9,832.4L648.2,830.9L649.6,829.5L651.0,828.1L652.4,826.7L653.8,825.3L655.2,824.0L656.6,822.6L658.0,821.2L659.4,819.8L660.8,818.5L662.3,817.1L663.7,815.8L665.1,814.4L666.6,813.1L668.0,811.8L669.5,810.5L670.9,809.2L672.4,807.9L673.9,806.6L675.4,805.3L676.9,804.0L678.4,802.8L679.9,801.5L681.4,800.3L682.9,799.0L684.4,797.8L686.0,796.6L687.5,795.4L689.0,794.2L690.6,793.0L692.2,791.8L693.7,790.6L695.3,789.5L696.9,788.3L698.5,787.2L700.1,786.1L701.7,784.9L703.3,783.8L704.9,782.7L706.5,781.7L708.1,780.6L709.8,779.5L711.4,778.5L713.1,777.4L714.7,776.4L716.4,775.4L718.1,774.4L719.7,773.4L721.4,772.4L723.1,771.5L724.8,770.5L726.5,769.6L728.2,768.7L729.9,767.8L731.7,766.9L733.4,766.0L735.1,765.1L736.9,764.3L738.6,763.4L740.4,762.6L742.2,761.8L743.9,761.0L745.7,760.2L747.5,759.4L749.3,758.6L751.1,757.9L752.9,757.1L754.7,756.4L756.5,755.7L758.3,754.9L760.2,754.2L762.0,753.6L763.8,752.9L765.7,752.2L767.5,751.6L769.4,750.9L771.2,750.3L773.1,749.7L774.9,749.1L776.8,748.5L778.7,747.9L780.5,747.3L782.4,746.7L784.3,746.2L786.2,745.6L788.1,745.1L790.0,744.5L791.9,744.0L793.7,743.5L795.6,743.0L797.5,742.5L799.5,742.0L801.4,741.5L803.3,741.1L805.2,740.6L807.1,740.2L809.0,739.7L810.9,739.3L812.9,738.9L814.8,738.5L816.7,738.1L818.6,737.7L820.6,737.3L822.5,736.9L824.4,736.5L826.4,736.1L828.3,735.8L830.3,735.4L832.2,735.1L834.2,734.7L836.1,734.4L838.0,734.1L840.0,733.8L841.9,733.5L843.9,733.2L845.9,732.9L847.8,732.6L849.8,732.3L851.7,732.0L853.7,731.7L855.6,731.5L857.6,731.2L859.6,731.0L861.5,730.7L863.5,730.5L865.4,730.3L867.4,730.0L869.4,729.8L871.3,729.6L873.3,729.4L875.2,729.2L877.2,729.0L879.2,728.9L881.1,728.7L883.1,728.6L885.0,728.4L887.0,728.3L889.0,728.2L890.9,728.0L892.9,727.9L894.8,727.8L896.8,727.8L898.8,727.7L900.7,727.6L902.7,727.6L904.6,727.5L906.6,727.5L908.5,727.5L910.5,727.5L912.4,727.5L914.4,727.6L916.3,727.6L918.3,727.7L920.2,727.7L922.2,727.8L924.1,727.9L926.1,728.0L928.0,728.2L929.9,728.3L931.9,728.5L933.8,728.6L935.7,728.8L937.6,729.0L939.6,729.3L941.5,729.5L943.4,729.8L945.3,730.1L947.2,730.4L949.1,730.7L951.0,731.0L952.9,731.4L954.8,731.7L956.7,732.1L958.6,732.5L960.5,732.9L962.4,733.4L964.3,733.8L966.1,734.3L968.0,734.8L969.9,735.3L971.7,735.8L973.6,736.3L975.4,736.9L977.3,737.5L979.1,738.1L981.0,738.7L982.8,739.3L984.6,740.0L986.4,740.6L988.2,741.3L990.0,742.0L991.8,742.7L993.6,743.4L995.4,744.2L997.2,744.9L998.9,745.7L1000.7,746.5L1002.4,747.3L1004.2,748.1L1005.9,749.0L1007.7,749.8L1009.4,750.7L1011.1,751.6L1012.8,752.5L1014.5,753.5L1016.2,754.4L1017.8,755.4L1019.5,756.3L1021.2,757.3L1022.8,758.3L1024.5,759.3L1026.1,760.4L1027.7,761.4L1029.3,762.5L1030.9,763.6L1032.5,764.7L1034.1,765.8L1035.6,766.9L1037.2,768.1L1038.7,769.2L1040.3,770.4L1041.8,771.6L1043.3,772.8L1044.8,774.0L1046.3,775.2L1047.7,776.5L1049.2,777.8L1050.6,779.0L1052.1,780.3L1053.5,781.6L1054.9,782.9L1056.3,784.3L1057.7,785.6L1059.0,787.0L1060.4,788.4L1061.8,789.7L1063.1,791.1L1064.4,792.6L1065.7,794.0L1067.0,795.4L1068.3,796.9L1069.6,798.3L1070.9,799.8L1072.1,801.3L1073.4,802.8L1074.6,804.3L1075.9,805.8L1077.1,807.3L1078.3,808.8L1079.5,810.4L1080.7,811.9L1081.9,813.5L1083.1,815.0L1084.2,816.6L1085.4,818.2L1086.6,819.8L1087.7,821.4L1088.8,823.0L1090.0,824.6L1091.1,826.2L1092.2,827.8L1093.4,829.4L1094.5,831.1L1095.6,832.7L1096.7,834.3L1097.8,836.0L1098.9,837.6L1099.9,839.3L1101.0,841.0L1102.1,842.6L1103.2,844.3L1104.2,846.0L1105.3,847.6L1106.4,849.3L1107.4,851.0L1108.5,852.7L1109.5,854.4L1110.6,856.0L1111.6,857.7L1112.7,859.4L1113.7,861.1L1114.8,862.8L1115.8,864.5L1116.9,866.2L1117.9,867.9L1118.9,869.6L1120.0,871.3L1121.0,873.0L1122.0,874.7L1123.0,876.4L1124.1,878.2L1125.1,879.9L1126.1,881.6L1127.1,883.3L1128.1,885.0L1129.2,886.7L1130.2,888.4L1131.2,890.2L1132.2,891.9L1133.2,893.6L1134.2,895.3L1135.2,897.1L1136.2,898.8L1137.2,900.5L1138.2,902.2L1139.2,904.0L1140.2,905.7L1141.2,907.4L1142.2,909.1L1143.2,910.9L1144.2,912.6L1145.2,914.3L1146.2,916.1L1147.2,917.8L1148.2,919.5L1149.2,921.3L1150.2,923.0L1151.2,924.7L1152.2,926.5L1153.2,928.2L1154.2,929.9L1155.2,931.7L1156.2,933.4L1157.2,935.2L1158.2,936.9L1159.2,938.6L1160.2,940.4L1161.2,942.1L1162.2,943.8L1163.2,945.6L1164.2,947.3L1165.2,949.1L1166.2,950.8L1167.2,952.5L1168.2,954.3L1169.2,956.0L1170.2,957.7L1171.2,959.5L1172.2,961.2L1173.2,962.9L1174.2,964.7L1175.2,966.4L1176.3,968.1L1177.3,969.9L1178.3,971.6L1179.3,973.3L1180.3,975.1L1181.3,976.8L1182.4,978.5L1183.4,980.3L1184.4,982.0L1185.4,983.7L1186.5,985.4L1187.5,987.2L1188.5,988.9L1189.6,990.6L1190.6,992.3L1191.7,994.1L1192.7,995.8L1193.8,997.5L1194.8,999.2L1195.9,1000.9L1196.9,1002.6L1198.0,1004.3L1199.1,1006.1L1200.1,1007.8L1201.2,1009.5L1202.3,1011.2L1203.4,1012.9L1204.4,1014.6L1205.5,1016.3L1206.6,1018.0L1207.7,1019.7L1208.8,1021.4L1209.9,1023.0L1211.0,1024.7L1212.1,1026.4L1213.2,1028.1L1214.3,1029.8L1215.5,1031.5L1216.6,1033.2L1217.7,1034.8L1218.8,1036.5L1220.0,1038.2L1221.1,1039.8L1222.2,1041.5L1223.4,1043.2L1224.5,1044.8L1225.7,1046.5L1226.8,1048.1L1228.0,1049.8L1229.2,1051.5L1230.4,1053.1L1231.5,1054.7L1232.7,1056.4L1233.9,1058.0L1235.1,1059.7L1236.3,1061.3L1237.5,1062.9L1238.7,1064.5L1239.9,1066.2L1241.1,1067.8L1242.3,1069.4L1243.6,1071.0L1244.8,1072.6L1246.0,1074.2L1247.3,1075.8L1248.5,1077.4L1249.8,1079.0L1251.0,1080.6L1252.3,1082.2L1253.6,1083.8L1254.8,1085.3L1256.1,1086.9L1257.4,1088.5L1258.7,1090.0L1260.0,1091.6L1261.3,1093.1L1262.6,1094.7L1263.9,1096.2L1265.2,1097.8L1266.6,1099.3L1267.9,1100.8L1269.2,1102.4L1270.6,1103.9L1271.9,1105.4L1273.3,1106.9L1274.6,1108.4L1276.0,1109.9L1277.4,1111.4L1278.7,1112.9L1280.1,1114.4L1281.5,1115.9L1282.9,1117.4L1284.3,1118.8L1285.7,1120.3L1287.1,1121.8L1288.5,1123.2L1289.9,1124.7L1291.4,1126.1L1292.8,1127.5L1294.2,1129.0L1295.7,1130.4L1297.2,1131.8L1298.6,1133.2L1300.1,1134.6L1301.6,1136.0L1303.0,1137.4L1304.5,1138.8L1306.0,1140.2L1307.5,1141.5L1309.0,1142.9L1310.5,1144.3L1312.0,1145.6L1313.6,1147.0L1315.1,1148.3L1316.6,1149.6L1318.2,1151.0L1319.7,1152.3L1321.3,1153.6L1322.8,1154.9L1324.4,1156.2L1326.0,1157.5L1327.5,1158.8L1329.1,1160.0L1330.7,1161.3L1332.3,1162.6L1333.9,1163.8L1335.5,1165.1L1337.1,1166.3L1338.7,1167.5L1340.4,1168.8L1342.0,1170.0L1343.6,1171.2L1345.3,1172.4L1346.9,1173.6L1348.6,1174.7L1350.3,1175.9L1351.9,1177.1L1353.6,1178.2L1355.3,1179.4L1357.0,1180.5L1358.7,1181.7L1360.4,1182.8L1362.1,1183.9L1363.8,1185.0L1365.5,1186.1L1367.2,1187.2L1368.9,1188.3L1370.7,1189.3L1372.4,1190.4L1374.2,1191.4L1375.9,1192.5L1377.7,1193.5L1379.4,1194.5L1381.2,1195.5L1383.0,1196.5L1384.8,1197.5L1386.6,1198.5L1388.4,1199.4L1390.2,1200.4L1392.0,1201.3L1393.8,1202.3L1395.6,1203.2L1397.4,1204.1L1399.2,1205.0L1401.1,1205.9L1402.9,1206.8L1404.8,1207.7L1406.6,1208.5L1408.5,1209.4L1410.3,1210.2L1412.2,1211.0L1414.1,1211.9L1415.9,1212.7L1417.8,1213.4L1419.7,1214.2L1421.6,1215.0L1423.5,1215.7L1425.4,1216.5L1427.3,1217.2L1429.2,1217.9L1431.1,1218.6L1433.1,1219.3L1435.0,1220.0L1436.9,1220.7L1438.8,1221.3L1440.8,1221.9L1442.7,1222.6L1444.7,1223.2L1446.6,1223.8L1448.6,1224.4L1450.6,1224.9L1452.5,1225.5L1454.5,1226.0L1456.5,1226.5L1458.4,1227.0L1460.4,1227.5L1462.4,1228.0L1464.4,1228.5L1466.4,1229.0L1468.3,1229.4L1470.3,1229.9L1472.3,1230.3L1474.3,1230.7L1476.3,1231.1L1478.3,1231.5L1480.3,1231.9L1482.3,1232.2L1484.3,1232.6L1486.3,1232.9L1488.3,1233.3L1490.3,1233.6L1492.3,1233.9L1494.3,1234.2L1496.3,1234.5L1498.4,1234.8L1500.4,1235.0L1502.4,1235.3L1504.4,1235.5L1506.4,1235.8L1508.4,1236.0L1510.4,1236.2L1512.4,1236.4L1514.5,1236.6L1516.5,1236.8L1518.5,1237.0L1520.5,1237.1L1522.5,1237.3L1524.5,1237.5L1526.6,1237.6L1528.6,1237.7L1530.6,1237.9L1532.6,1238.0L1534.6,1238.1L1536.6,1238.2L1538.7,1238.3L1540.7,1238.4L1542.7,1238.5L1544.7,1238.6L1546.7,1238.7L1548.7,1238.8L1550.7,1238.9L1552.8,1238.9L1554.8,1239.0L1556.8,1239.0L1558.8,1239.1L1560.8,1239.1L1562.8,1239.1L1564.8,1239.2L1566.9,1239.2L1568.9,1239.2L1570.9,1239.2L1572.9,1239.3L1574.9,1239.3L1576.9,1239.3L1578.9,1239.3L1580.9,1239.3L1583.0,1239.3L1585.0,1239.3L1587.0,1239.2L1589.0,1239.2L1591.0,1239.2L1593.0,1239.2L1595.0,1239.2L1597.0,1239.1L1599.0,1239.1L1601.0,1239.1L1603.0,1239.1L1605.0,1239.0L1607.0,1239.0L1609.1,1239.0L1611.1,1239.0L1613.1,1238.9L1615.1,1238.9L1617.1,1238.9L1619.1,1238.8L1621.1,1238.8L1623.1,1238.8L1625.1,1238.7L1627.1,1238.7L1629.1,1238.7L1631.1,1238.6L1633.1,1238.6L1635.1,1238.5L1637.1,1238.5L1639.1,1238.5L1641.1,1238.4L1643.1,1238.4L1645.1,1238.3L1647.1,1238.3L1649.1,1238.3L1651.1,1238.2L1653.1,1238.2L1655.1,1238.2L1657.1,1238.1L1659.1,1238.1L1661.1,1238.1L1663.1,1238.0L1665.1,1238.0L1667.1,1238.0L1669.1,1238.0L1671.1,1237.9L1673.1,1237.9L1675.1,1237.9L1677.1,1237.9L1679.1,1237.9L1681.1,1237.9L1683.1,1237.9L1685.1,1237.9L1687.1,1237.9L1689.0,1237.9L1691.0,1237.9L1693.0,1237.9L1695.0,1237.9L1697.0,1238.0L1699.0,1238.0L1701.0,1238.0L1703.0,1238.1L1705.0,1238.1L1707.0,1238.2L1709.0,1238.2L1710.9,1238.3L1712.9,1238.3L1714.9,1238.4L1716.9,1238.5L1718.9,1238.6L1720.9,1238.7L1722.9,1238.8L1724.9,1238.9L1726.8,1239.0L1728.8,1239.1L1730.8,1239.2L1732.8,1239.4L1734.8,1239.5L1735.4,1231.2L1733.4,1231.0L1731.4,1230.9L1729.4,1230.8L1727.3,1230.6L1725.3,1230.5L1723.3,1230.4L1721.3,1230.3L1719.3,1230.2L1717.3,1230.1L1715.3,1230.0L1713.2,1229.9L1711.2,1229.8L1709.2,1229.8L1707.2,1229.7L1705.2,1229.6L1703.2,1229.6L1701.2,1229.5L1699.2,1229.5L1697.1,1229.4L1695.1,1229.4L1693.1,1229.4L1691.1,1229.4L1689.1,1229.3L1687.1,1229.3L1685.1,1229.3L1683.1,1229.3L1681.1,1229.3L1679.1,1229.3L1677.1,1229.3L1675.0,1229.3L1673.0,1229.3L1671.0,1229.3L1669.0,1229.3L1667.0,1229.3L1665.0,1229.3L1663.0,1229.4L1661.0,1229.4L1659.0,1229.4L1657.0,1229.4L1655.0,1229.4L1653.0,1229.5L1651.0,1229.5L1649.0,1229.5L1647.0,1229.5L1645.0,1229.6L1643.0,1229.6L1641.0,1229.6L1639.0,1229.7L1637.0,1229.7L1635.0,1229.7L1632.9,1229.7L1630.9,1229.8L1628.9,1229.8L1626.9,1229.8L1624.9,1229.9L1622.9,1229.9L1620.9,1229.9L1618.9,1229.9L1616.9,1230.0L1615.0,1230.0L1613.0,1230.0L1611.0,1230.0L1609.0,1230.0L1607.0,1230.1L1605.0,1230.1L1603.0,1230.1L1601.0,1230.1L1599.0,1230.1L1597.0,1230.1L1595.0,1230.1L1593.0,1230.1L1591.0,1230.0L1589.0,1230.0L1587.0,1230.0L1585.0,1230.0L1583.0,1229.9L1581.0,1229.9L1579.0,1229.9L1577.0,1229.8L1575.0,1229.8L1573.0,1229.7L1571.1,1229.7L1569.1,1229.6L1567.1,1229.5L1565.1,1229.5L1563.1,1229.4L1561.1,1229.3L1559.1,1229.3L1557.1,1229.2L1555.1,1229.1L1553.2,1229.0L1551.2,1228.9L1549.2,1228.8L1547.2,1228.7L1545.2,1228.5L1543.2,1228.4L1541.3,1228.3L1539.3,1228.1L1537.3,1228.0L1535.3,1227.9L1533.3,1227.7L1531.4,1227.5L1529.4,1227.4L1527.4,1227.2L1525.4,1227.0L1523.5,1226.8L1521.5,1226.6L1519.5,1226.4L1517.6,1226.2L1515.6,1226.0L1513.6,1225.7L1511.7,1225.5L1509.7,1225.2L1507.7,1225.0L1505.8,1224.7L1503.8,1224.4L1501.9,1224.1L1499.9,1223.9L1498.0,1223.6L1496.0,1223.3L1494.1,1223.0L1492.1,1222.6L1490.2,1222.3L1488.2,1222.0L1486.3,1221.6L1484.3,1221.2L1482.4,1220.9L1480.5,1220.5L1478.5,1220.1L1476.6,1219.7L1474.7,1219.3L1472.8,1218.8L1470.9,1218.4L1468.9,1217.9L1467.0,1217.5L1465.1,1217.0L1463.2,1216.5L1461.3,1216.0L1459.4,1215.5L1457.5,1215.0L1455.6,1214.4L1453.8,1213.9L1451.9,1213.3L1450.0,1212.8L1448.1,1212.2L1446.3,1211.6L1444.4,1210.9L1442.5,1210.3L1440.7,1209.7L1438.8,1209.0L1437.0,1208.4L1435.2,1207.7L1433.3,1207.0L1431.5,1206.3L1429.7,1205.6L1427.8,1204.8L1426.0,1204.1L1424.2,1203.3L1422.4,1202.6L1420.6,1201.8L1418.8,1201.0L1417.0,1200.2L1415.2,1199.4L1413.4,1198.6L1411.7,1197.7L1409.9,1196.9L1408.1,1196.0L1406.4,1195.2L1404.6,1194.3L1402.8,1193.4L1401.1,1192.5L1399.4,1191.6L1397.6,1190.6L1395.9,1189.7L1394.2,1188.7L1392.5,1187.8L1390.8,1186.8L1389.1,1185.8L1387.4,1184.8L1385.7,1183.8L1384.0,1182.8L1382.3,1181.8L1380.6,1180.8L1379.0,1179.7L1377.3,1178.7L1375.6,1177.6L1374.0,1176.6L1372.3,1175.5L1370.7,1174.4L1369.1,1173.3L1367.4,1172.2L1365.8,1171.1L1364.2,1170.0L1362.6,1168.8L1361.0,1167.7L1359.4,1166.6L1357.8,1165.4L1356.2,1164.2L1354.6,1163.1L1353.0,1161.9L1351.4,1160.7L1349.9,1159.5L1348.3,1158.3L1346.8,1157.1L1345.2,1155.9L1343.7,1154.7L1342.1,1153.4L1340.6,1152.2L1339.1,1151.0L1337.5,1149.7L1336.0,1148.4L1334.5,1147.2L1333.0,1145.9L1331.5,1144.6L1330.0,1143.3L1328.5,1142.0L1327.1,1140.7L1325.6,1139.4L1324.1,1138.1L1322.7,1136.8L1321.2,1135.5L1319.7,1134.1L1318.3,1132.8L1316.9,1131.4L1315.4,1130.1L1314.0,1128.7L1312.6,1127.4L1311.1,1126.0L1309.7,1124.6L1308.3,1123.2L1306.9,1121.8L1305.5,1120.4L1304.1,1119.0L1302.7,1117.6L1301.4,1116.2L1300.0,1114.8L1298.6,1113.4L1297.2,1112.0L1295.9,1110.6L1294.5,1109.1L1293.2,1107.7L1291.8,1106.2L1290.5,1104.8L1289.1,1103.3L1287.8,1101.9L1286.5,1100.4L1285.2,1098.9L1283.9,1097.5L1282.6,1096.0L1281.3,1094.5L1280.0,1093.0L1278.7,1091.5L1277.4,1090.0L1276.1,1088.5L1274.8,1087.0L1273.6,1085.5L1272.3,1084.0L1271.0,1082.4L1269.8,1080.9L1268.5,1079.4L1267.3,1077.8L1266.0,1076.3L1264.8,1074.8L1263.6,1073.2L1262.4,1071.6L1261.1,1070.1L1259.9,1068.5L1258.7,1067.0L1257.5,1065.4L1256.3,1063.8L1255.1,1062.2L1253.9,1060.7L1252.7,1059.1L1251.6,1057.5L1250.4,1055.9L1249.2,1054.3L1248.1,1052.7L1246.9,1051.1L1245.7,1049.5L1244.6,1047.9L1243.4,1046.2L1242.3,1044.6L1241.1,1043.0L1240.0,1041.4L1238.9,1039.8L1237.8,1038.1L1236.6,1036.5L1235.5,1034.9L1234.4,1033.2L1233.3,1031.6L1232.2,1029.9L1231.1,1028.3L1230.0,1026.6L1228.9,1025.0L1227.8,1023.3L1226.7,1021.7L1225.6,1020.0L1224.5,1018.3L1223.4,1016.7L1222.4,1015.0L1221.3,1013.3L1220.2,1011.6L1219.1,1010.0L1218.1,1008.3L1217.0,1006.6L1216.0,1004.9L1214.9,1003.2L1213.9,1001.5L1212.8,999.9L1211.8,998.2L1210.7,996.5L1209.7,994.8L1208.6,993.1L1207.6,991.4L1206.6,989.7L1205.5,988.0L1204.5,986.3L1203.5,984.6L1202.4,982.9L1201.4,981.2L1200.4,979.5L1199.4,977.7L1198.3,976.0L1197.3,974.3L1196.3,972.6L1195.3,970.9L1194.3,969.2L1193.2,967.5L1192.2,965.7L1191.2,964.0L1190.2,962.3L1189.2,960.6L1188.2,958.8L1187.2,957.1L1186.2,955.4L1185.2,953.7L1184.2,951.9L1183.2,950.2L1182.2,948.5L1181.2,946.8L1180.2,945.0L1179.2,943.3L1178.2,941.6L1177.2,939.8L1176.2,938.1L1175.2,936.4L1174.2,934.6L1173.2,932.9L1172.2,931.2L1171.2,929.4L1170.2,927.7L1169.2,926.0L1168.2,924.2L1167.2,922.5L1166.2,920.7L1165.2,919.0L1164.2,917.3L1163.2,915.5L1162.2,913.8L1161.2,912.1L1160.2,910.3L1159.2,908.6L1158.2,906.8L1157.2,905.1L1156.2,903.4L1155.2,901.6L1154.2,899.9L1153.2,898.2L1152.2,896.4L1151.2,894.7L1150.2,893.0L1149.2,891.2L1148.2,889.5L1147.2,887.8L1146.1,886.0L1145.1,884.3L1144.1,882.6L1143.1,880.8L1142.1,879.1L1141.0,877.4L1140.0,875.6L1139.0,873.9L1138.0,872.2L1136.9,870.5L1135.9,868.7L1134.9,867.0L1133.8,865.3L1132.8,863.6L1131.8,861.8L1130.7,860.1L1129.7,858.4L1128.6,856.7L1127.6,855.0L1126.5,853.3L1125.4,851.5L1124.4,849.8L1123.3,848.1L1122.3,846.4L1121.2,844.7L1120.1,843.0L1119.0,841.3L1118.0,839.6L1116.9,837.9L1115.8,836.2L1114.7,834.5L1113.6,832.8L1112.5,831.1L1111.4,829.4L1110.3,827.7L1109.1,826.0L1108.0,824.3L1106.9,822.7L1105.7,821.0L1104.6,819.3L1103.4,817.6L1102.3,816.0L1101.1,814.3L1099.9,812.6L1098.7,811.0L1097.5,809.3L1096.3,807.7L1095.1,806.1L1093.8,804.4L1092.6,802.8L1091.3,801.2L1090.1,799.6L1088.8,798.0L1087.5,796.4L1086.2,794.8L1084.9,793.2L1083.6,791.6L1082.3,790.0L1080.9,788.5L1079.6,786.9L1078.2,785.4L1076.8,783.9L1075.4,782.3L1074.0,780.8L1072.6,779.3L1071.1,777.8L1069.7,776.4L1068.2,774.9L1066.7,773.5L1065.2,772.0L1063.7,770.6L1062.2,769.2L1060.6,767.8L1059.1,766.5L1057.5,765.1L1055.9,763.8L1054.3,762.4L1052.7,761.1L1051.1,759.8L1049.4,758.5L1047.8,757.3L1046.1,756.0L1044.5,754.8L1042.8,753.6L1041.1,752.4L1039.4,751.2L1037.7,750.0L1035.9,748.9L1034.2,747.8L1032.5,746.7L1030.7,745.6L1028.9,744.5L1027.1,743.4L1025.4,742.4L1023.6,741.3L1021.7,740.3L1019.9,739.3L1018.1,738.4L1016.3,737.4L1014.4,736.5L1012.6,735.5L1010.7,734.6L1008.8,733.7L1006.9,732.9L1005.0,732.0L1003.1,731.2L1001.2,730.4L999.3,729.6L997.4,728.8L995.5,728.0L993.6,727.3L991.6,726.5L989.7,725.8L987.7,725.1L985.7,724.5L983.8,723.8L981.8,723.2L979.8,722.6L977.8,722.0L975.9,721.4L973.9,720.8L971.9,720.3L969.9,719.8L967.9,719.3L965.8,718.8L963.8,718.3L961.8,717.9L959.8,717.4L957.7,717.0L955.7,716.6L953.7,716.2L951.6,715.9L949.6,715.5L947.5,715.2L945.5,714.9L943.4,714.7L941.4,714.4L939.3,714.1L937.3,713.9L935.2,713.7L933.2,713.5L931.1,713.4L929.1,713.2L927.0,713.1L924.9,712.9L922.9,712.8L920.8,712.7L918.8,712.7L916.7,712.6L914.7,712.6L912.6,712.5L910.6,712.5L908.5,712.5L906.5,712.5L904.4,712.5L902.4,712.6L900.3,712.6L898.3,712.7L896.2,712.8L894.2,712.9L892.1,713.0L890.1,713.1L888.1,713.2L886.0,713.3L884.0,713.5L882.0,713.6L879.9,713.8L877.9,713.9L875.9,714.1L873.8,714.3L871.8,714.5L869.8,714.7L867.8,714.9L865.7,715.1L863.7,715.4L861.7,715.6L859.7,715.8L857.7,716.1L855.7,716.3L853.7,716.6L851.7,716.9L849.7,717.2L847.6,717.4L845.6,717.7L843.6,718.0L841.6,718.3L839.6,718.6L837.6,719.0L835.6,719.3L833.6,719.6L831.6,720.0L829.6,720.3L827.6,720.7L825.6,721.0L823.6,721.4L821.6,721.8L819.6,722.2L817.6,722.6L815.6,723.0L813.7,723.4L811.7,723.8L809.7,724.2L807.7,724.7L805.7,725.1L803.7,725.6L801.7,726.0L799.8,726.5L797.8,727.0L795.8,727.5L793.8,728.0L791.8,728.5L789.9,729.0L787.9,729.5L785.9,730.1L784.0,730.6L782.0,731.2L780.1,731.8L778.1,732.3L776.1,732.9L774.2,733.5L772.2,734.2L770.3,734.8L768.4,735.4L766.4,736.1L764.5,736.7L762.5,737.4L760.6,738.1L758.7,738.8L756.8,739.5L754.8,740.2L752.9,741.0L751.0,741.7L749.1,742.5L747.2,743.2L745.3,744.0L743.4,744.8L741.5,745.6L739.7,746.4L737.8,747.3L735.9,748.1L734.0,749.0L732.2,749.9L730.3,750.8L728.5,751.7L726.6,752.6L724.8,753.5L723.0,754.5L721.2,755.4L719.3,756.4L717.5,757.4L715.7,758.4L714.0,759.4L712.2,760.5L710.4,761.5L708.6,762.6L706.9,763.6L705.1,764.7L703.4,765.8L701.7,766.9L699.9,768.0L698.2,769.2L696.5,770.3L694.8,771.4L693.1,772.6L691.4,773.8L689.8,775.0L688.1,776.2L686.4,777.4L684.8,778.6L683.1,779.8L681.5,781.0L679.9,782.3L678.3,783.5L676.7,784.8L675.1,786.1L673.5,787.4L671.9,788.7L670.3,790.0L668.7,791.3L667.2,792.6L665.6,793.9L664.1,795.3L662.5,796.6L661.0,797.9L659.5,799.3L658.0,800.7L656.4,802.0L654.9,803.4L653.5,804.8L652.0,806.2L650.5,807.6L649.0,809.0L647.5,810.4L646.1,811.8L644.6,813.3L643.2,814.7L641.8,816.1L640.3,817.6L638.9,819.0L637.5,820.5L636.1,822.0L634.7,823.4L633.3,824.9L631.9,826.4L630.5,827.9L629.1,829.3L627.7,830.8L626.3,832.3L625.0,833.8L623.6,835.3L622.3,836.8L620.9,838.4L619.6,839.9L618.2,841.4L616.9,842.9L615.6,844.4L614.3,846.0L612.9,847.5L611.6,849.1L610.3,850.6L609.0,852.1L607.7,853.7L606.4,855.2L605.1,856.8L603.8,858.4L602.6,859.9L601.3,861.5L600.0,863.0L598.7,864.6L597.5,866.2L596.2,867.8L594.9,869.3L593.7,870.9L592.4,872.5L591.2,874.1L589.9,875.7L588.7,877.2L587.5,878.8L586.2,880.4L585.0,882.0L583.7,883.6L582.5,885.2L581.3,886.8L580.1,888.4L578.8,890.0L577.6,891.6L576.4,893.2L575.2,894.8L574.0,896.4L572.8,898.0L571.6,899.6L570.4,901.2L569.2,902.8L567.9,904.4L566.7,906.0L565.5,907.6L564.3,909.3L563.1,910.9L561.9,912.5L560.8,914.1L559.6,915.7L558.4,917.3L557.2,918.9L556.0,920.5L554.8,922.1L553.6,923.7L552.4,925.4L551.2,927.0L550.0,928.6L548.8,930.2L547.6,931.8L546.5,933.4L545.3,935.0L544.1,936.6L542.9,938.2L541.7,939.8L540.5,941.4L539.3,943.0L538.1,944.6L536.9,946.2L535.7,947.9L534.5,949.5L533.3,951.0L532.2,952.6L531.0,954.2L529.8,955.8L528.6,957.4L527.4,959.0L526.2,960.6L524.9,962.2L523.7,963.8L522.5,965.4L521.3,966.9L520.1,968.5L518.9,970.1L517.7,971.7L516.5,973.2L515.2,974.8L514.0,976.4L512.8,977.9L511.5,979.5L510.3,981.0L509.1,982.6L507.8,984.1L506.6,985.7L505.3,987.2L504.1,988.8L502.8,990.3L501.6,991.8L500.3,993.3L499.0,994.9L497.8,996.4L496.5,997.9L495.2,999.4L493.9,1000.9L492.6,1002.4L491.4,1003.9L490.1,1005.4L488.8,1006.9L487.4,1008.4L486.1,1009.8L484.8,1011.3L483.5,1012.8L482.2,1014.2L480.8,1015.7L479.5,1017.1L478.2,1018.6L476.8,1020.0L475.4,1021.4L474.1,1022.9L472.7,1024.3L471.3,1025.7L470.0,1027.1L468.6,1028.5L467.2,1029.9L465.8,1031.3L464.4,1032.6L463.0,1034.0L461.6,1035.4L460.1,1036.7L458.7,1038.1L457.3,1039.4L455.8,1040.7L454.4,1042.0L452.9,1043.4L451.5,1044.7L450.0,1046.0L448.5,1047.3L447.0,1048.5L445.5,1049.8L444.0,1051.1L442.5,1052.3L441.0,1053.5L439.5,1054.8L438.0,1056.0L436.5,1057.2L434.9,1058.4L433.4,1059.6L431.8,1060.8L430.2,1061.9L428.7,1063.1L427.1,1064.2L425.5,1065.3L423.9,1066.4L422.3,1067.5L420.7,1068.6L419.1,1069.7L417.5,1070.7L415.8,1071.8L414.2,1072.8L412.5,1073.8L410.9,1074.8L409.2,1075.8L407.5,1076.7L405.9,1077.7L404.2,1078.6L402.5,1079.5L400.8,1080.4L399.1,1081.3L397.3,1082.1L395.6,1083.0L393.9,1083.8L392.1,1084.6L390.4,1085.3L388.6,1086.1L386.9,1086.8L385.1,1087.5L383.3,1088.2L381.5,1088.9L379.7,1089.5L377.9,1090.1L376.1,1090.7L374.3,1091.3L372.5,1091.8L370.6,1092.3L368.8,1092.8L367.0,1093.3L365.1,1093.7L363.3,1094.2L361.4,1094.5L359.5,1094.9L357.7,1095.2L355.8,1095.6L353.9,1095.8L352.0,1096.1L350.1,1096.4L348.2,1096.6L346.3,1096.8L344.4,1096.9L342.5,1097.1L340.6,1097.2L338.7,1097.3L336.7,1097.4L334.8,1097.5L332.9,1097.5L331.0,1097.6L329.0,1097.6L327.1,1097.6L325.2,1097.5L323.3,1097.5L321.3,1097.4L319.4,1097.3L317.5,1097.2L315.5,1097.1L313.6,1096.9L311.7,1096.8L309.7,1096.6L307.8,1096.4L305.9,1096.2L303.9,1096.0L302.0,1095.8L300.1,1095.5L298.2,1095.2L296.2,1094.9L294.3,1094.6L292.4,1094.3L290.5,1094.0L288.5,1093.7L286.6,1093.3L284.7,1092.9L282.8,1092.6L280.9,1092.2L278.9,1091.8L277.0,1091.4L275.1,1090.9L273.2,1090.5L271.3,1090.0L269.4,1089.6L267.5,1089.1L265.6,1088.6L263.7,1088.1L261.8,1087.6L259.9,1087.1L258.0,1086.6L256.1,1086.0L254.2,1085.5L252.4,1084.9L250.5,1084.3L248.6,1083.8L246.7,1083.2L244.8,1082.6L243.0,1082.0L241.1,1081.4L239.2,1080.8L237.3,1080.1L235.5,1079.5L233.6,1078.8L231.8,1078.2L229.9,1077.5L228.0,1076.9L226.2,1076.2L224.3,1075.5L222.5,1074.8L220.6,1074.1L218.8,1073.4L216.9,1072.7L215.1,1072.0L213.2,1071.3L211.4,1070.5L209.6,1069.8L207.7,1069.1L205.9,1068.3L204.1,1067.6L202.2,1066.8Z"/>
<path fill="#808000" d="M193.7,982.5L195.1,983.9L196.5,985.4L197.9,986.9L199.3,988.4L200.8,989.8L202.3,991.2L203.7,992.7L205.2,994.1L206.7,995.5L208.2,996.9L209.7,998.3L211.2,999.7L212.7,1001.1L214.2,1002.4L215.7,1003.8L217.2,1005.1L218.8,1006.5L220.3,1007.8L221.8,1009.1L223.4,1010.5L224.9,1011.8L226.5,1013.1L228.1,1014.4L229.6,1015.7L231.2,1017.0L232.8,1018.2L234.3,1019.5L235.9,1020.8L237.5,1022.1L239.1,1023.3L240.7,1024.6L242.3,1025.8L243.8,1027.1L245.4,1028.3L247.0,1029.5L248.6,1030.8L250.2,1032.0L251.8,1033.2L253.4,1034.4L255.1,1035.6L256.7,1036.8L258.3,1038.1L259.9,1039.3L261.5,1040.5L263.1,1041.7L264.7,1042.9L266.3,1044.1L267.9,1045.3L269.5,1046.4L271.2,1047.6L272.8,1048.8L274.4,1050.0L276.0,1051.2L277.6,1052.4L279.2,1053.6L280.8,1054.8L282.4,1056.0L284.0,1057.1L285.6,1058.3L287.2,1059.5L288.8,1060.7L290.4,1061.9L292.0,1063.1L293.6,1064.3L295.2,1065.5L296.8,1066.7L298.4,1067.9L299.9,1069.1L301.5,1070.3L303.1,1071.5L304.7,1072.7L306.3,1074.0L307.8,1075.2L309.4,1076.4L311.0,1077.6L312.6,1078.9L314.1,1080.1L315.7,1081.3L317.3,1082.5L318.9,1083.8L320.4,1085.0L322.0,1086.2L323.6,1087.5L325.2,1088.7L326.7,1089.9L328.3,1091.2L329.9,1092.4L331.5,1093.6L333.1,1094.9L334.6,1096.1L336.2,1097.3L337.8,1098.5L339.4,1099.8L341.0,1101.0L342.6,1102.2L344.2,1103.4L345.8,1104.7L347.4,1105.9L349.0,1107.1L350.6,1108.3L352.2,1109.5L353.8,1110.8L355.4,1112.0L357.0,1113.2L358.6,1114.4L360.3,1115.6L361.9,1116.8L363.6,1118.0L365.3,1119.2L367.0,1120.4L368.7,1121.6L370.5,1122.7L372.3,1123.9L374.2,1125.0L376.0,1126.0L378.0,1127.1L379.9,1128.1L381.9,1129.0L384.0,1129.9L386.1,1130.8L388.2,1131.6L390.4,1132.3L392.6,1132.9L394.9,1133.4L397.2,1133.8L399.5,1134.1L401.9,1134.3L404.2,1134.4L406.6,1134.4L408.9,1134.3L411.2,1134.0L413.6,1133.7L415.9,1133.3L418.1,1132.7L420.4,1132.1L422.5,1131.4L424.7,1130.5L426.7,1129.7L428.8,1128.7L430.7,1127.7L432.7,1126.7L434.6,1125.6L436.4,1124.5L438.2,1123.3L440.0,1122.2L441.8,1121.0L443.5,1119.8L445.2,1118.5L446.9,1117.3L448.5,1116.0L450.1,1114.7L451.8,1113.4L453.4,1112.1L454.9,1110.8L456.5,1109.5L458.1,1108.2L459.6,1106.8L461.2,1105.5L462.7,1104.1L464.3,1102.8L465.8,1101.4L467.3,1100.0L468.8,1098.6L470.2,1097.1L471.7,1095.7L473.2,1094.3L474.6,1092.8L476.1,1091.4L477.5,1089.9L478.9,1088.4L480.3,1086.9L481.7,1085.4L483.1,1083.9L484.5,1082.4L485.8,1080.9L487.2,1079.4L488.6,1077.8L489.9,1076.3L491.2,1074.7L492.6,1073.2L493.9,1071.6L495.2,1070.1L496.5,1068.5L497.8,1066.9L499.0,1065.3L500.3,1063.7L501.6,1062.1L502.8,1060.5L504.1,1058.9L505.3,1057.3L506.5,1055.7L507.7,1054.0L508.9,1052.4L510.1,1050.7L511.3,1049.1L512.5,1047.4L513.7,1045.8L514.8,1044.1L516.0,1042.5L517.2,1040.8L518.3,1039.1L519.4,1037.4L520.6,1035.8L521.7,1034.1L522.8,1032.4L523.9,1030.7L525.0,1029.0L526.1,1027.3L527.2,1025.6L528.3,1023.9L529.4,1022.2L530.5,1020.5L531.5,1018.8L532.6,1017.0L533.6,1015.3L534.7,1013.6L535.8,1011.9L536.8,1010.2L537.8,1008.4L538.9,1006.7L539.9,1005.0L540.9,1003.3L542.0,1001.5L543.0,999.8L544.0,998.1L545.0,996.3L546.0,994.6L547.1,992.9L548.1,991.1L549.1,989.4L550.1,987.6L551.1,985.9L552.1,984.2L553.1,982.4L554.1,980.7L555.1,978.9L556.1,977.2L557.1,975.5L558.1,973.7L559.0,972.0L560.0,970.2L561.0,968.5L562.0,966.7L563.0,965.0L564.0,963.2L565.0,961.5L565.9,959.7L566.9,958.0L567.9,956.2L568.9,954.5L569.9,952.7L570.8,951.0L571.8,949.2L572.8,947.5L573.7,945.7L574.7,944.0L575.7,942.2L576.6,940.4L577.6,938.7L578.6,936.9L579.5,935.1L580.5,933.4L581.4,931.6L582.4,929.8L583.3,928.1L584.3,926.3L585.2,924.5L586.2,922.8L587.1,921.0L588.1,919.2L589.0,917.4L589.9,915.6L590.9,913.9L591.8,912.1L592.7,910.3L593.6,908.5L594.6,906.7L595.5,905.0L596.4,903.2L597.3,901.4L598.2,899.6L599.1,897.8L600.1,896.0L601.0,894.2L601.9,892.4L602.8,890.6L603.7,888.8L604.6,887.0L605.5,885.2L606.3,883.4L607.2,881.6L608.1,879.8L609.0,878.0L609.9,876.2L610.7,874.4L611.6,872.5L612.5,870.7L613.3,868.9L614.2,867.1L615.1,865.3L615.9,863.5L616.8,861.6L617.6,859.8L618.5,858.0L619.3,856.1L620.2,854.3L621.0,852.5L621.8,850.6L622.6,848.8L623.5,847.0L624.3,845.1L625.1,843.3L625.9,841.4L626.7,839.6L627.5,837.8L628.3,835.9L629.1,834.1L629.9,832.2L630.7,830.3L631.5,828.5L632.3,826.6L633.0,824.8L633.8,822.9L634.6,821.0L635.3,819.2L636.1,817.3L636.9,815.5L637.6,813.6L638.4,811.7L639.1,809.9L639.9,808.0L640.6,806.2L641.4,804.3L642.1,802.5L642.9,800.6L643.6,798.8L644.4,797.0L645.1,795.1L645.9,793.3L646.7,791.5L647.5,789.7L648.2,787.9L649.0,786.1L649.8,784.3L650.6,782.4L651.4,780.6L652.3,778.8L653.1,777.0L653.9,775.2L654.7,773.4L655.6,771.6L656.4,769.8L657.2,768.0L658.1,766.2L658.9,764.4L659.8,762.6L660.6,760.8L661.5,758.9L662.3,757.1L663.2,755.3L664.0,753.5L664.9,751.7L665.7,749.9L666.6,748.1L667.4,746.3L668.3,744.5L669.2,742.7L670.0,740.9L670.9,739.1L671.8,737.3L672.6,735.4L673.5,733.6L674.3,731.8L675.1,730.0L676.0,728.1L676.8,726.3L677.7,724.5L678.5,722.7L679.3,720.8L680.2,719.0L681.0,717.2L681.8,715.4L682.6,713.5L683.5,711.7L684.3,709.9L685.1,708.0L685.9,706.2L686.7,704.4L687.6,702.5L688.4,700.7L689.2,698.9L690.0,697.0L690.8,695.2L691.6,693.4L692.4,691.5L693.2,689.7L694.0,687.9L694.8,686.0L695.7,684.2L696.5,682.4L697.3,680.5L698.1,678.7L698.9,676.9L699.7,675.0L700.5,673.2L701.3,671.4L702.1,669.5L702.9,667.7L703.7,665.9L704.5,664.0L705.3,662.2L706.1,660.4L706.9,658.5L707.7,656.7L708.5,654.9L709.2,653.0L710.0,651.2L710.8,649.4L711.6,647.5L712.4,645.7L713.2,643.9L714.0,642.0L714.8,640.2L715.7,638.4L716.5,636.5L717.3,634.7L718.1,632.9L718.9,631.0L719.7,629.2L720.5,627.4L721.3,625.6L722.1,623.7L722.9,621.9L723.7,620.1L724.5,618.3L725.3,616.4L726.1,614.6L727.0,612.8L727.8,611.0L728.6,609.2L729.4,607.3L730.2,605.5L731.1,603.7L731.9,601.9L732.7,600.1L733.5,598.3L734.4,596.4L735.2,594.6L736.0,592.8L736.8,591.0L737.7,589.2L738.5,587.4L739.4,585.6L740.2,583.8L741.0,582.0L741.9,580.2L742.7,578.4L743.6,576.6L744.4,574.8L745.3,573.0L746.1,571.2L747.0,569.4L747.9,567.6L748.7,565.8L749.6,564.0L750.5,562.2L751.3,560.4L752.2,558.6L753.1,556.8L754.0,555.0L754.8,553.3L755.7,551.5L756.6,549.7L757.5,547.9L758.4,546.1L759.3,544.4L760.2,542.6L761.1,540.8L762.0,539.0L762.9,537.3L763.8,535.5L764.7,533.7L765.6,532.0L766.6,530.2L767.5,528.4L768.4,526.7L769.3,524.9L770.3,523.1L771.2,521.4L772.1,519.6L773.1,517.9L774.0,516.1L774.9,514.4L775.9,512.6L776.8,510.8L777.8,509.1L778.7,507.3L779.7,505.6L780.6,503.8L781.6,502.1L782.5,500.4L783.5,498.6L784.5,496.9L785.4,495.1L786.4,493.4L787.4,491.7L788.3,489.9L789.3,488.2L790.3,486.4L791.3,484.7L792.3,483.0L793.3,481.2L794.2,479.5L795.2,477.8L796.2,476.1L797.2,474.3L798.2,472.6L799.2,470.9L800.2,469.2L801.2,467.4L802.2,465.7L803.2,464.0L804.2,462.3L805.2,460.6L806.3,458.9L807.3,457.1L808.3,455.4L809.3,453.7L810.3,452.0L811.4,450.3L812.4,448.6L813.4,446.9L814.4,445.2L815.5,443.5L816.5,441.8L817.5,440.1L818.6,438.3L819.6,436.6L820.6,434.9L821.7,433.2L822.7,431.6L823.8,429.9L824.8,428.2L825.9,426.5L826.9,424.8L828.0,423.1L829.0,421.4L830.1,419.7L831.1,418.0L832.2,416.3L833.3,414.6L834.3,412.9L835.4,411.3L836.5,409.6L837.5,407.9L838.6,406.2L839.7,404.5L840.7,402.8L841.8,401.2L842.9,399.5L844.0,397.8L845.0,396.1L846.1,394.4L847.2,392.8L848.3,391.1L849.4,389.4L850.5,387.7L851.5,386.1L852.6,384.4L853.7,382.7L854.8,381.1L855.9,379.4L857.0,377.7L858.1,376.0L859.2,374.4L860.3,372.7L861.4,371.0L862.5,369.4L863.6,367.7L864.7,366.1L865.8,364.4L866.9,362.7L868.0,361.1L869.1,359.4L870.2,357.8L871.3,356.1L872.4,354.4L873.6,352.8L874.7,351.1L875.8,349.5L876.9,347.8L878.0,346.2L879.1,344.5L880.2,342.8L881.4,341.2L882.5,339.5L883.6,337.9L884.7,336.2L885.9,334.6L887.0,332.9L888.1,331.3L889.2,329.6L890.4,328.0L891.5,326.3L892.6,324.7L893.7,323.0L894.9,321.4L896.0,319.7L897.1,318.1L898.2,316.4L899.4,314.8L900.5,313.1L901.6,311.5L902.8,309.8L903.9,308.2L905.0,306.5L906.2,304.9L907.3,303.2L908.4,301.6L909.5,299.9L910.7,298.3L911.8,296.6L912.9,295.0L914.1,293.3L915.2,291.7L916.3,290.0L917.5,288.4L918.6,286.7L919.7,285.1L920.9,283.4L922.0,281.8L923.1,280.1L924.2,278.5L925.4,276.8L926.5,275.1L927.6,273.5L928.8,271.8L929.9,270.2L931.0,268.5L932.1,266.9L933.3,265.2L934.4,263.5L935.5,261.9L936.6,260.2L937.8,258.6L938.9,256.9L940.0,255.2L941.1,253.6L942.2,251.9L943.4,250.3L944.5,248.6L945.6,246.9L946.7,245.3L947.8,243.6L948.9,242.0L950.0,240.3L951.2,238.7L952.3,237.0L953.4,235.4L954.5,233.8L955.6,232.1L956.8,230.5L957.9,228.9L959.0,227.3L960.2,225.7L961.3,224.1L962.5,222.6L963.7,221.0L964.9,219.5L966.1,217.9L967.3,216.4L968.5,214.9L969.7,213.4L971.0,211.9L972.2,210.4L973.5,209.0L974.8,207.6L976.0,206.1L977.4,204.7L978.7,203.4L980.0,202.0L981.4,200.6L982.8,199.3L984.1,198.0L985.5,196.7L987.0,195.5L988.4,194.2L989.9,193.0L991.3,191.8L992.8,190.7L994.3,189.5L995.9,188.4L997.4,187.3L999.0,186.2L1000.6,185.2L1002.1,184.2L1003.8,183.2L1005.4,182.2L1007.0,181.3L1008.7,180.4L1010.3,179.5L1012.0,178.7L1013.7,177.9L1015.4,177.1L1017.1,176.4L1018.9,175.7L1020.6,175.0L1022.3,174.4L1024.1,173.8L1025.8,173.2L1027.6,172.8L1029.4,172.3L1031.1,171.9L1032.9,171.6L1034.7,171.3L1036.5,171.0L1038.2,170.8L1040.0,170.7L1041.7,170.7L1043.4,170.7L1045.1,170.8L1046.8,171.0L1048.5,171.2L1050.1,171.5L1051.7,171.9L1053.3,172.4L1054.9,173.0L1056.5,173.6L1058.1,174.3L1059.6,175.1L1061.1,175.9L1062.6,176.8L1064.1,177.8L1065.6,178.8L1067.0,179.9L1068.4,181.0L1069.8,182.2L1071.2,183.4L1072.6,184.7L1073.9,186.0L1075.2,187.3L1076.5,188.7L1077.8,190.1L1079.1,191.5L1080.3,192.9L1081.6,194.4L1082.8,195.9L1084.0,197.4L1085.2,198.9L1086.4,200.4L1087.5,202.0L1088.7,203.5L1089.8,205.1L1091.0,206.7L1092.1,208.3L1093.3,209.9L1094.4,211.5L1095.5,213.1L1096.6,214.7L1097.7,216.4L1098.8,218.0L1099.9,219.7L1101.0,221.3L1102.0,223.0L1103.1,224.6L1104.1,226.3L1105.2,227.9L1106.2,229.6L1107.2,231.3L1108.3,233.0L1109.3,234.7L1110.3,236.4L1111.3,238.1L1112.3,239.8L1113.3,241.5L1114.2,243.2L1115.2,244.9L1116.2,246.6L1117.1,248.3L1118.1,250.1L1119.0,251.8L1119.9,253.5L1120.9,255.3L1121.8,257.0L1122.7,258.8L1123.6,260.5L1124.5,262.3L1125.4,264.1L1126.3,265.8L1127.2,267.6L1128.0,269.4L1128.9,271.1L1129.7,272.9L1130.6,274.7L1131.4,276.5L1132.3,278.3L1133.1,280.1L1133.9,281.9L1134.8,283.7L1135.6,285.5L1136.4,287.3L1137.2,289.1L1138.0,290.9L1138.8,292.7L1139.6,294.5L1140.3,296.3L1141.1,298.2L1141.9,300.0L1142.6,301.8L1143.4,303.6L1144.2,305.5L1144.9,307.3L1145.6,309.2L1146.4,311.0L1147.1,312.8L1147.8,314.7L1148.6,316.5L1149.3,318.4L1150.0,320.2L1150.7,322.1L1151.4,323.9L1152.1,325.8L1152.8,327.6L1153.5,329.5L1154.2,331.4L1154.9,333.2L1155.6,335.1L1156.3,337.0L1156.9,338.8L1157.6,340.7L1158.3,342.6L1159.0,344.4L1159.6,346.3L1160.3,348.2L1160.9,350.1L1161.6,352.0L1162.2,353.8L1162.9,355.7L1163.5,357.6L1164.2,359.5L1164.8,361.4L1165.5,363.3L1166.1,365.1L1166.8,367.0L1167.4,368.9L1168.0,370.8L1168.7,372.7L1169.3,374.6L1169.9,376.5L1170.5,378.4L1171.2,380.3L1171.8,382.2L1172.4,384.1L1173.0,386.0L1173.7,387.9L1174.3,389.8L1174.9,391.7L1175.5,393.6L1176.1,395.4L1176.7,397.3L1177.3,399.2L1177.9,401.1L1178.6,403.0L1179.2,404.9L1179.8,406.9L1180.4,408.8L1181.0,410.7L1181.6,412.6L1182.2,414.5L1182.8,416.4L1183.4,418.3L1183.9,420.2L1184.5,422.1L1185.1,424.0L1185.7,425.9L1186.3,427.8L1186.9,429.7L1187.5,431.6L1188.1,433.5L1188.7,435.4L1189.2,437.3L1189.8,439.3L1190.4,441.2L1191.0,443.1L1191.6,445.0L1192.1,446.9L1192.7,448.8L1193.3,450.7L1193.9,452.6L1194.4,454.5L1195.0,456.5L1195.6,458.4L1196.1,460.3L1196.7,462.2L1197.3,464.1L1197.8,466.0L1198.4,467.9L1199.0,469.9L1199.5,471.8L1200.1,473.7L1200.6,475.6L1201.2,477.5L1201.8,479.4L1202.3,481.4L1202.9,483.3L1203.4,485.2L1204.0,487.1L1204.5,489.0L1205.1,491.0L1205.6,492.9L1206.2,494.8L1206.7,496.7L1207.3,498.6L1207.8,500.6L1208.4,502.5L1208.9,504.4L1209.5,506.3L1210.0,508.2L1210.5,510.2L1211.1,512.1L1211.6,514.0L1212.2,515.9L1212.7,517.9L1213.2,519.8L1213.8,521.7L1214.3,523.6L1214.9,525.6L1215.4,527.5L1215.9,529.4L1216.5,531.3L1217.0,533.3L1217.5,535.2L1218.1,537.1L1218.6,539.0L1219.1,541.0L1219.7,542.9L1220.2,544.8L1220.7,546.7L1221.2,548.7L1221.8,550.6L1222.3,552.5L1222.8,554.4L1223.4,556.4L1223.9,558.3L1224.4,560.2L1224.9,562.2L1225.5,564.1L1226.0,566.0L1226.5,567.9L1227.0,569.9L1227.6,571.8L1228.1,573.7L1228.6,575.7L1229.1,577.6L1229.6,579.5L1230.2,581.5L1230.7,583.4L1231.2,585.3L1231.7,587.2L1232.2,589.2L1232.8,591.1L1233.3,593.0L1233.8,595.0L1234.3,596.9L1234.8,598.8L1235.3,600.8L1235.9,602.7L1236.4,604.6L1236.9,606.6L1237.4,608.5L1237.9,610.4L1238.4,612.4L1239.0,614.3L1239.5,616.2L1240.0,618.1L1240.5,620.1L1241.0,622.0L1241.5,623.9L1242.1,625.9L1242.6,627.8L1243.1,629.7L1243.6,631.7L1244.1,633.6L1244.6,635.5L1245.1,637.5L1245.7,639.4L1246.2,641.3L1246.7,643.3L1247.2,645.2L1247.7,647.1L1248.2,649.1L1248.7,651.0L1249.3,652.9L1249.8,654.9L1250.3,656.8L1250.8,658.7L1251.3,660.7L1251.8,662.6L1252.3,664.5L1252.9,666.5L1253.4,668.4L1253.9,670.3L1254.4,672.3L1254.9,674.2L1255.4,676.1L1256.0,678.1L1256.5,680.0L1257.0,681.9L1257.5,683.9L1258.0,685.8L1258.5,687.7L1259.1,689.7L1259.6,691.6L1260.1,693.5L1260.6,695.5L1261.1,697.4L1261.6,699.3L1262.2,701.3L1262.7,703.2L1263.2,705.1L1263.7,707.1L1264.2,709.0L1264.8,710.9L1265.3,712.9L1265.8,714.8L1266.3,716.7L1266.9,718.7L1267.4,720.6L1267.9,722.5L1268.4,724.5L1269.0,726.4L1269.5,728.3L1270.0,730.3L1270.5,732.2L1271.1,734.1L1271.6,736.1L1272.1,738.0L1272.6,739.9L1273.2,741.8L1273.7,743.8L1274.2,745.7L1274.8,747.6L1275.3,749.6L1275.8,751.5L1276.4,753.4L1276.9,755.4L1277.4,757.3L1278.0,759.2L1278.5,761.2L1279.0,763.1L1279.6,765.0L1280.1,766.9L1280.7,768.9L1281.2,770.8L1281.7,772.7L1282.3,774.7L1282.8,776.6L1283.4,778.5L1283.9,780.4L1284.5,782.4L1285.0,784.3L1285.6,786.2L1286.1,788.2L1286.6,790.1L1287.2,792.0L1287.7,793.9L1288.3,795.9L1288.9,797.8L1289.4,799.7L1290.0,801.6L1290.5,803.6L1291.1,805.5L1291.6,807.4L1292.2,809.3L1292.8,811.3L1293.3,813.2L1293.9,815.1L1294.4,817.0L1295.0,819.0L1295.6,820.9L1296.1,822.8L1296.7,824.7L1297.3,826.6L1297.9,828.6L1298.4,830.5L1299.0,832.4L1299.6,834.3L1300.2,836.3L1300.7,838.2L1301.3,840.1L1301.9,842.0L1302.5,843.9L1303.1,845.9L1303.6,847.8L1304.2,849.7L1304.8,851.6L1305.4,853.5L1306.0,855.4L1306.6,857.4L1307.2,859.3L1307.8,861.2L1308.4,863.1L1309.0,865.0L1309.6,866.9L1310.2,868.8L1310.8,870.8L1311.4,872.7L1312.0,874.6L1312.6,876.5L1313.2,878.4L1313.8,880.3L1314.5,882.2L1315.1,884.1L1315.7,886.0L1316.3,887.9L1316.9,889.9L1317.6,891.8L1318.2,893.7L1318.8,895.6L1319.4,897.5L1320.1,899.4L1320.7,901.3L1321.3,903.2L1322.0,905.1L1322.6,907.0L1323.3,908.9L1323.9,910.8L1324.6,912.7L1325.2,914.6L1325.8,916.5L1326.5,918.4L1327.2,920.3L1327.8,922.2L1328.5,924.1L1329.1,926.0L1329.8,927.9L1330.5,929.8L1331.1,931.7L1331.8,933.6L1332.5,935.5L1333.1,937.4L1333.8,939.3L1334.5,941.1L1335.2,943.0L1335.8,944.9L1336.5,946.8L1337.2,948.7L1337.9,950.6L1338.6,952.5L1339.3,954.4L1340.0,956.2L1340.7,958.1L1341.4,960.0L1342.1,961.9L1342.8,963.8L1343.5,965.7L1344.2,967.5L1344.9,969.4L1345.6,971.3L1346.3,973.2L1347.1,975.0L1347.8,976.9L1348.5,978.8L1349.2,980.7L1350.0,982.5L1350.7,984.4L1351.4,986.3L1352.2,988.2L1352.9,990.0L1353.7,991.9L1354.4,993.8L1355.2,995.6L1355.9,997.5L1356.7,999.4L1357.4,1001.2L1358.2,1003.1L1359.0,1004.9L1359.8,1006.8L1360.5,1008.7L1361.3,1010.5L1362.1,1012.4L1362.9,1014.2L1363.7,1016.1L1364.5,1017.9L1365.3,1019.8L1366.1,1021.6L1366.9,1023.5L1367.7,1025.3L1368.5,1027.2L1369.3,1029.0L1370.2,1030.8L1371.0,1032.7L1371.8,1034.5L1372.7,1036.3L1373.5,1038.2L1374.4,1040.0L1375.2,1041.8L1376.1,1043.7L1377.0,1045.5L1377.8,1047.3L1378.7,1049.1L1379.6,1050.9L1380.5,1052.8L1381.4,1054.6L1382.3,1056.4L1383.2,1058.2L1384.1,1060.0L1385.0,1061.8L1385.9,1063.6L1386.8,1065.4L1387.7,1067.2L1388.7,1069.0L1389.6,1070.8L1390.6,1072.6L1391.5,1074.3L1392.5,1076.1L1393.5,1077.9L1394.4,1079.7L1395.4,1081.4L1396.4,1083.2L1397.4,1085.0L1398.4,1086.7L1399.4,1088.5L1400.4,1090.3L1401.4,1092.0L1402.4,1093.8L1403.5,1095.5L1404.5,1097.2L1405.5,1099.0L1406.6,1100.7L1407.7,1102.4L1408.7,1104.2L1409.8,1105.9L1410.9,1107.6L1412.0,1109.3L1413.0,1111.0L1414.2,1112.7L1415.3,1114.4L1416.4,1116.1L1417.5,1117.8L1418.6,1119.5L1419.8,1121.2L1420.9,1122.9L1422.1,1124.5L1423.2,1126.2L1424.4,1127.8L1425.5,1129.5L1426.7,1131.2L1427.9,1132.8L1429.1,1134.4L1430.2,1136.1L1431.4,1137.7L1432.6,1139.3L1433.8,1140.9L1435.0,1142.6L1436.2,1144.2L1437.4,1145.8L1438.6,1147.4L1439.8,1149.0L1441.0,1150.6L1442.2,1152.2L1443.3,1153.8L1444.5,1155.4L1445.7,1157.1L1446.9,1158.7L1448.1,1160.3L1449.3,1161.9L1450.5,1163.5L1451.8,1165.1L1453.0,1166.7L1454.2,1168.3L1455.5,1170.0L1456.7,1171.6L1458.0,1173.2L1459.3,1174.8L1460.6,1176.4L1461.9,1177.9L1463.2,1179.5L1464.6,1181.1L1466.0,1182.6L1467.3,1184.2L1468.8,1185.7L1470.2,1187.2L1471.6,1188.7L1473.1,1190.2L1474.6,1191.7L1476.2,1193.1L1477.7,1194.5L1479.3,1195.9L1480.9,1197.3L1482.5,1198.6L1484.1,1199.9L1485.8,1201.2L1487.4,1202.5L1489.1,1203.7L1490.8,1205.0L1492.5,1206.2L1494.2,1207.3L1495.9,1208.5L1497.7,1209.6L1499.5,1210.7L1501.2,1211.8L1503.0,1212.9L1504.8,1213.9L1506.6,1215.0L1508.4,1216.0L1510.3,1216.9L1512.1,1217.9L1514.0,1218.8L1515.8,1219.7L1517.7,1220.6L1519.6,1221.5L1521.5,1222.4L1523.4,1223.2L1525.3,1224.0L1527.2,1224.8L1529.1,1225.6L1531.0,1226.3L1533.0,1227.0L1534.9,1227.7L1536.8,1228.4L1538.8,1229.1L1540.8,1229.7L1542.7,1230.4L1544.7,1231.0L1546.7,1231.6L1548.7,1232.1L1550.6,1232.7L1552.6,1233.2L1554.6,1233.7L1556.6,1234.2L1558.6,1234.7L1560.6,1235.1L1562.6,1235.5L1564.6,1235.9L1566.7,1236.3L1568.7,1236.7L1570.7,1237.0L1572.7,1237.4L1574.7,1237.7L1576.8,1238.0L1578.8,1238.3L1580.8,1238.6L1582.8,1238.8L1584.8,1239.1L1586.9,1239.3L1588.9,1239.5L1590.9,1239.8L1592.9,1240.0L1595.0,1240.1L1597.0,1240.3L1599.0,1240.5L1601.0,1240.6L1603.1,1240.7L1605.1,1240.9L1607.1,1241.0L1609.1,1241.1L1611.1,1241.2L1613.2,1241.2L1615.2,1241.3L1617.2,1241.4L1619.2,1241.4L1621.2,1241.5L1623.3,1241.5L1625.3,1241.6L1627.3,1241.6L1629.3,1241.6L1631.3,1241.6L1633.3,1241.6L1635.3,1241.7L1637.3,1241.7L1639.4,1241.7L1641.4,1241.7L1643.4,1241.7L1645.4,1241.7L1647.4,1241.6L1649.4,1241.6L1651.4,1241.6L1653.4,1241.7L1655.4,1241.7L1657.4,1241.7L1659.4,1241.7L1661.4,1241.7L1663.4,1241.8L1665.4,1241.8L1667.4,1241.8L1669.4,1241.8L1671.4,1241.8L1673.4,1241.8L1675.4,1241.8L1677.4,1241.8L1679.4,1241.8L1681.4,1241.8L1683.4,1241.8L1685.4,1241.8L1687.4,1241.8L1689.4,1241.9L1691.4,1241.9L1693.4,1241.9L1695.5,1241.9L1697.5,1241.9L1699.5,1241.9L1701.5,1241.9L1703.5,1241.9L1705.5,1241.9L1707.5,1241.9L1709.5,1241.9L1711.5,1241.9L1713.5,1241.9L1715.5,1241.9L1717.5,1241.9L1719.5,1241.9L1721.5,1241.9L1723.5,1241.9L1725.5,1241.9L1727.5,1241.9L1729.4,1241.9L1731.4,1242.0L1733.4,1242.0L1735.4,1242.0L1735.5,1235.0L1733.5,1235.0L1731.5,1235.0L1729.5,1234.9L1727.5,1234.9L1725.5,1234.9L1723.5,1234.9L1721.5,1234.8L1719.5,1234.8L1717.5,1234.8L1715.5,1234.7L1713.5,1234.7L1711.5,1234.7L1709.5,1234.6L1707.5,1234.6L1705.5,1234.6L1703.5,1234.5L1701.5,1234.5L1699.5,1234.5L1697.5,1234.4L1695.5,1234.4L1693.5,1234.4L1691.5,1234.3L1689.5,1234.3L1687.5,1234.3L1685.5,1234.2L1683.5,1234.2L1681.5,1234.2L1679.5,1234.1L1677.5,1234.1L1675.5,1234.0L1673.5,1234.0L1671.5,1234.0L1669.5,1233.9L1667.5,1233.9L1665.5,1233.8L1663.5,1233.8L1661.5,1233.7L1659.5,1233.7L1657.5,1233.6L1655.6,1233.6L1653.6,1233.5L1651.6,1233.5L1649.6,1233.4L1647.6,1233.3L1645.6,1233.2L1643.6,1233.1L1641.6,1233.0L1639.6,1232.9L1637.6,1232.8L1635.6,1232.7L1633.6,1232.5L1631.6,1232.4L1629.7,1232.3L1627.7,1232.1L1625.7,1232.0L1623.7,1231.8L1621.7,1231.7L1619.8,1231.5L1617.8,1231.4L1615.8,1231.2L1613.8,1231.0L1611.9,1230.8L1609.9,1230.6L1607.9,1230.4L1606.0,1230.2L1604.0,1230.0L1602.0,1229.8L1600.1,1229.5L1598.1,1229.3L1596.2,1229.0L1594.2,1228.8L1592.3,1228.5L1590.3,1228.2L1588.4,1228.0L1586.4,1227.7L1584.5,1227.3L1582.6,1227.0L1580.6,1226.7L1578.7,1226.3L1576.8,1226.0L1574.8,1225.6L1572.9,1225.2L1571.0,1224.8L1569.1,1224.4L1567.2,1223.9L1565.3,1223.5L1563.4,1223.0L1561.5,1222.5L1559.6,1222.1L1557.8,1221.6L1555.9,1221.1L1554.0,1220.5L1552.2,1220.0L1550.3,1219.4L1548.4,1218.9L1546.6,1218.3L1544.8,1217.7L1542.9,1217.0L1541.1,1216.4L1539.3,1215.7L1537.5,1215.0L1535.7,1214.3L1533.9,1213.6L1532.1,1212.9L1530.3,1212.1L1528.5,1211.4L1526.8,1210.6L1525.0,1209.7L1523.3,1208.9L1521.6,1208.1L1519.8,1207.2L1518.1,1206.3L1516.4,1205.4L1514.7,1204.5L1513.1,1203.5L1511.4,1202.6L1509.8,1201.6L1508.1,1200.6L1506.5,1199.6L1504.9,1198.5L1503.3,1197.5L1501.7,1196.4L1500.1,1195.3L1498.6,1194.2L1497.0,1193.0L1495.5,1191.9L1494.0,1190.7L1492.5,1189.5L1491.0,1188.3L1489.6,1187.1L1488.2,1185.8L1486.8,1184.5L1485.4,1183.2L1484.0,1181.9L1482.6,1180.6L1481.3,1179.2L1479.9,1177.9L1478.6,1176.5L1477.3,1175.1L1476.0,1173.6L1474.8,1172.2L1473.5,1170.7L1472.2,1169.2L1471.0,1167.8L1469.8,1166.3L1468.5,1164.7L1467.3,1163.2L1466.1,1161.7L1464.9,1160.1L1463.7,1158.5L1462.5,1157.0L1461.3,1155.4L1460.1,1153.8L1458.9,1152.2L1457.8,1150.6L1456.6,1149.0L1455.4,1147.4L1454.2,1145.8L1453.0,1144.2L1451.8,1142.6L1450.6,1141.0L1449.4,1139.4L1448.2,1137.8L1447.1,1136.2L1445.9,1134.6L1444.7,1133.0L1443.5,1131.4L1442.3,1129.8L1441.2,1128.1L1440.0,1126.5L1438.9,1124.9L1437.7,1123.3L1436.6,1121.7L1435.4,1120.1L1434.3,1118.5L1433.2,1116.8L1432.0,1115.2L1430.9,1113.6L1429.8,1112.0L1428.7,1110.3L1427.6,1108.7L1426.6,1107.0L1425.5,1105.4L1424.4,1103.7L1423.3,1102.1L1422.3,1100.4L1421.2,1098.7L1420.2,1097.1L1419.2,1095.4L1418.1,1093.7L1417.1,1092.0L1416.1,1090.3L1415.1,1088.6L1414.1,1086.9L1413.1,1085.2L1412.1,1083.5L1411.1,1081.8L1410.1,1080.1L1409.1,1078.4L1408.2,1076.6L1407.2,1074.9L1406.3,1073.2L1405.3,1071.4L1404.4,1069.7L1403.4,1068.0L1402.5,1066.2L1401.6,1064.5L1400.6,1062.7L1399.7,1061.0L1398.8,1059.2L1397.9,1057.4L1397.0,1055.7L1396.1,1053.9L1395.2,1052.1L1394.3,1050.4L1393.5,1048.6L1392.6,1046.8L1391.7,1045.0L1390.9,1043.3L1390.0,1041.5L1389.1,1039.7L1388.3,1037.9L1387.5,1036.1L1386.6,1034.3L1385.8,1032.5L1384.9,1030.7L1384.1,1028.9L1383.3,1027.1L1382.5,1025.3L1381.7,1023.5L1380.9,1021.7L1380.1,1019.9L1379.3,1018.0L1378.5,1016.2L1377.7,1014.4L1376.9,1012.6L1376.1,1010.7L1375.3,1008.9L1374.5,1007.1L1373.8,1005.3L1373.0,1003.4L1372.2,1001.6L1371.5,999.8L1370.7,997.9L1369.9,996.1L1369.2,994.3L1368.4,992.4L1367.7,990.6L1366.9,988.7L1366.2,986.9L1365.5,985.0L1364.7,983.2L1364.0,981.3L1363.3,979.5L1362.5,977.6L1361.8,975.8L1361.1,973.9L1360.4,972.1L1359.7,970.2L1359.0,968.3L1358.2,966.5L1357.5,964.6L1356.8,962.8L1356.1,960.9L1355.4,959.0L1354.7,957.2L1354.0,955.3L1353.3,953.4L1352.6,951.6L1352.0,949.7L1351.3,947.8L1350.6,946.0L1349.9,944.1L1349.2,942.2L1348.5,940.3L1347.9,938.5L1347.2,936.6L1346.5,934.7L1345.8,932.8L1345.2,931.0L1344.5,929.1L1343.9,927.2L1343.2,925.3L1342.5,923.4L1341.9,921.6L1341.2,919.7L1340.6,917.8L1339.9,915.9L1339.3,914.0L1338.6,912.1L1338.0,910.3L1337.3,908.4L1336.7,906.5L1336.1,904.6L1335.4,902.7L1334.8,900.8L1334.1,898.9L1333.5,897.0L1332.9,895.1L1332.3,893.2L1331.6,891.4L1331.0,889.5L1330.4,887.6L1329.8,885.7L1329.2,883.8L1328.5,881.9L1327.9,880.0L1327.3,878.1L1326.7,876.2L1326.1,874.3L1325.5,872.4L1324.9,870.5L1324.3,868.6L1323.7,866.7L1323.1,864.8L1322.5,862.9L1321.9,861.0L1321.3,859.1L1320.7,857.2L1320.1,855.3L1319.5,853.4L1318.9,851.5L1318.3,849.5L1317.7,847.6L1317.1,845.7L1316.6,843.8L1316.0,841.9L1315.4,840.0L1314.8,838.1L1314.2,836.2L1313.7,834.3L1313.1,832.4L1312.5,830.5L1311.9,828.5L1311.4,826.6L1310.8,824.7L1310.2,822.8L1309.7,820.9L1309.1,819.0L1308.5,817.1L1308.0,815.1L1307.4,813.2L1306.8,811.3L1306.3,809.4L1305.7,807.5L1305.2,805.6L1304.6,803.7L1304.0,801.7L1303.5,799.8L1302.9,797.9L1302.4,796.0L1301.8,794.1L1301.3,792.1L1300.7,790.2L1300.2,788.3L1299.6,786.4L1299.1,784.5L1298.5,782.5L1298.0,780.6L1297.4,778.7L1296.9,776.8L1296.4,774.9L1295.8,772.9L1295.3,771.0L1294.7,769.1L1294.2,767.2L1293.7,765.2L1293.1,763.3L1292.6,761.4L1292.1,759.5L1291.5,757.5L1291.0,755.6L1290.4,753.7L1289.9,751.8L1289.4,749.8L1288.8,747.9L1288.3,746.0L1287.8,744.1L1287.3,742.1L1286.7,740.2L1286.2,738.3L1285.7,736.4L1285.1,734.4L1284.6,732.5L1284.1,730.6L1283.6,728.6L1283.0,726.7L1282.5,724.8L1282.0,722.9L1281.5,720.9L1280.9,719.0L1280.4,717.1L1279.9,715.1L1279.4,713.2L1278.8,711.3L1278.3,709.3L1277.8,707.4L1277.3,705.5L1276.8,703.6L1276.2,701.6L1275.7,699.7L1275.2,697.8L1274.7,695.8L1274.2,693.9L1273.6,692.0L1273.1,690.0L1272.6,688.1L1272.1,686.2L1271.6,684.3L1271.1,682.3L1270.5,680.4L1270.0,678.5L1269.5,676.5L1269.0,674.6L1268.5,672.7L1268.0,670.7L1267.4,668.8L1266.9,666.9L1266.4,664.9L1265.9,663.0L1265.4,661.1L1264.9,659.1L1264.4,657.2L1263.8,655.3L1263.3,653.3L1262.8,651.4L1262.3,649.5L1261.8,647.5L1261.3,645.6L1260.8,643.7L1260.2,641.7L1259.7,639.8L1259.2,637.9L1258.7,635.9L1258.2,634.0L1257.7,632.1L1257.2,630.1L1256.6,628.2L1256.1,626.3L1255.6,624.3L1255.1,622.4L1254.6,620.5L1254.1,618.5L1253.6,616.6L1253.0,614.7L1252.5,612.7L1252.0,610.8L1251.5,608.9L1251.0,606.9L1250.5,605.0L1249.9,603.1L1249.4,601.1L1248.9,599.2L1248.4,597.3L1247.9,595.3L1247.3,593.4L1246.8,591.5L1246.3,589.5L1245.8,587.6L1245.3,585.7L1244.8,583.7L1244.2,581.8L1243.7,579.9L1243.2,577.9L1242.7,576.0L1242.1,574.1L1241.6,572.1L1241.1,570.2L1240.6,568.3L1240.1,566.3L1239.5,564.4L1239.0,562.5L1238.5,560.5L1238.0,558.6L1237.4,556.7L1236.9,554.8L1236.4,552.8L1235.9,550.9L1235.3,549.0L1234.8,547.0L1234.3,545.1L1233.7,543.2L1233.2,541.2L1232.7,539.3L1232.1,537.4L1231.6,535.4L1231.1,533.5L1230.5,531.6L1230.0,529.6L1229.5,527.7L1228.9,525.8L1228.4,523.9L1227.9,521.9L1227.3,520.0L1226.8,518.1L1226.2,516.1L1225.7,514.2L1225.2,512.3L1224.6,510.4L1224.1,508.4L1223.5,506.5L1223.0,504.6L1222.4,502.6L1221.9,500.7L1221.4,498.8L1220.8,496.9L1220.3,494.9L1219.7,493.0L1219.2,491.1L1218.6,489.2L1218.1,487.2L1217.5,485.3L1216.9,483.4L1216.4,481.5L1215.8,479.5L1215.3,477.6L1214.7,475.7L1214.2,473.8L1213.6,471.8L1213.0,469.9L1212.5,468.0L1211.9,466.1L1211.3,464.1L1210.8,462.2L1210.2,460.3L1209.6,458.4L1209.1,456.4L1208.5,454.5L1207.9,452.6L1207.4,450.7L1206.8,448.8L1206.2,446.8L1205.6,444.9L1205.1,443.0L1204.5,441.1L1203.9,439.2L1203.3,437.2L1202.7,435.3L1202.2,433.4L1201.6,431.5L1201.0,429.6L1200.4,427.7L1199.8,425.7L1199.2,423.8L1198.6,421.9L1198.0,420.0L1197.4,418.1L1196.8,416.2L1196.2,414.2L1195.6,412.3L1195.0,410.4L1194.4,408.5L1193.8,406.6L1193.2,404.7L1192.6,402.8L1192.0,400.9L1191.4,398.9L1190.8,397.0L1190.2,395.1L1189.6,393.2L1189.0,391.3L1188.3,389.4L1187.7,387.5L1187.1,385.6L1186.5,383.7L1185.9,381.8L1185.2,379.9L1184.6,378.0L1184.0,376.0L1183.4,374.1L1182.7,372.2L1182.1,370.3L1181.5,368.4L1180.8,366.5L1180.2,364.6L1179.5,362.7L1178.9,360.8L1178.3,358.9L1177.6,357.0L1177.0,355.1L1176.3,353.2L1175.7,351.3L1175.0,349.4L1174.3,347.5L1173.7,345.6L1173.0,343.7L1172.3,341.8L1171.7,339.9L1171.0,338.0L1170.3,336.1L1169.6,334.2L1169.0,332.4L1168.3,330.5L1167.6,328.6L1166.9,326.7L1166.2,324.8L1165.5,322.9L1164.8,321.0L1164.0,319.1L1163.3,317.2L1162.6,315.4L1161.9,313.5L1161.1,311.6L1160.4,309.7L1159.7,307.9L1158.9,306.0L1158.2,304.1L1157.4,302.2L1156.6,300.4L1155.9,298.5L1155.1,296.6L1154.3,294.8L1153.5,292.9L1152.8,291.0L1152.0,289.2L1151.2,287.3L1150.3,285.5L1149.5,283.6L1148.7,281.8L1147.9,279.9L1147.1,278.1L1146.2,276.2L1145.4,274.4L1144.5,272.6L1143.7,270.7L1142.8,268.9L1141.9,267.1L1141.0,265.3L1140.2,263.4L1139.3,261.6L1138.4,259.8L1137.5,258.0L1136.5,256.2L1135.6,254.4L1134.7,252.6L1133.7,250.8L1132.8,249.0L1131.9,247.2L1130.9,245.4L1129.9,243.6L1129.0,241.8L1128.0,240.1L1127.0,238.3L1126.0,236.5L1125.0,234.8L1124.0,233.0L1122.9,231.2L1121.9,229.5L1120.9,227.7L1119.8,226.0L1118.8,224.3L1117.7,222.5L1116.6,220.8L1115.6,219.1L1114.5,217.4L1113.4,215.7L1112.3,213.9L1111.2,212.2L1110.0,210.5L1108.9,208.9L1107.8,207.2L1106.6,205.5L1105.5,203.8L1104.3,202.1L1103.1,200.5L1102.0,198.8L1100.8,197.2L1099.6,195.5L1098.3,193.9L1097.1,192.2L1095.8,190.6L1094.6,189.0L1093.3,187.3L1091.9,185.7L1090.6,184.1L1089.2,182.5L1087.8,181.0L1086.4,179.4L1084.9,177.9L1083.4,176.4L1081.9,174.9L1080.3,173.4L1078.7,172.0L1077.0,170.6L1075.3,169.2L1073.5,167.9L1071.7,166.6L1069.8,165.4L1067.9,164.3L1066.0,163.2L1063.9,162.1L1061.8,161.2L1059.7,160.3L1057.5,159.6L1055.3,158.9L1053.0,158.3L1050.7,157.9L1048.5,157.6L1046.2,157.3L1043.9,157.2L1041.6,157.2L1039.3,157.2L1037.1,157.4L1034.9,157.6L1032.7,157.9L1030.5,158.3L1028.3,158.7L1026.2,159.2L1024.1,159.7L1022.0,160.3L1020.0,160.9L1017.9,161.6L1015.9,162.4L1013.9,163.1L1011.9,163.9L1009.9,164.8L1008.0,165.7L1006.1,166.6L1004.2,167.5L1002.3,168.5L1000.5,169.5L998.6,170.6L996.8,171.6L995.0,172.7L993.2,173.9L991.5,175.0L989.7,176.2L988.0,177.4L986.3,178.7L984.6,180.0L982.9,181.3L981.3,182.6L979.7,183.9L978.1,185.3L976.5,186.7L975.0,188.1L973.4,189.5L971.9,191.0L970.5,192.5L969.0,194.0L967.6,195.5L966.1,197.0L964.7,198.5L963.3,200.1L962.0,201.6L960.6,203.2L959.3,204.8L958.0,206.4L956.7,208.0L955.4,209.6L954.2,211.2L952.9,212.9L951.7,214.5L950.5,216.1L949.3,217.8L948.1,219.4L946.9,221.1L945.7,222.8L944.6,224.4L943.4,226.1L942.3,227.7L941.1,229.4L940.0,231.1L938.9,232.8L937.7,234.4L936.6,236.1L935.5,237.8L934.4,239.4L933.3,241.1L932.1,242.7L931.0,244.4L929.9,246.0L928.8,247.7L927.7,249.4L926.6,251.0L925.5,252.7L924.3,254.3L923.2,256.0L922.1,257.6L921.0,259.3L919.8,260.9L918.7,262.6L917.6,264.2L916.5,265.9L915.4,267.5L914.2,269.2L913.1,270.8L912.0,272.5L910.8,274.1L909.7,275.8L908.6,277.4L907.5,279.1L906.3,280.7L905.2,282.4L904.1,284.0L902.9,285.7L901.8,287.3L900.7,289.0L899.5,290.6L898.4,292.3L897.3,293.9L896.2,295.6L895.0,297.2L893.9,298.9L892.8,300.5L891.6,302.2L890.5,303.8L889.4,305.5L888.2,307.1L887.1,308.8L886.0,310.4L884.8,312.1L883.7,313.7L882.6,315.4L881.5,317.1L880.3,318.7L879.2,320.4L878.1,322.0L876.9,323.7L875.8,325.3L874.7,327.0L873.6,328.6L872.4,330.3L871.3,332.0L870.2,333.6L869.1,335.3L867.9,336.9L866.8,338.6L865.7,340.3L864.6,341.9L863.5,343.6L862.3,345.3L861.2,346.9L860.1,348.6L859.0,350.2L857.9,351.9L856.8,353.6L855.7,355.3L854.6,356.9L853.4,358.6L852.3,360.3L851.2,361.9L850.1,363.6L849.0,365.3L847.9,367.0L846.8,368.6L845.7,370.3L844.6,372.0L843.5,373.7L842.4,375.3L841.3,377.0L840.2,378.7L839.1,380.4L838.0,382.1L837.0,383.8L835.9,385.4L834.8,387.1L833.7,388.8L832.6,390.5L831.5,392.2L830.4,393.9L829.4,395.6L828.3,397.3L827.2,399.0L826.1,400.6L825.1,402.3L824.0,404.0L822.9,405.7L821.8,407.4L820.8,409.1L819.7,410.8L818.6,412.5L817.6,414.2L816.5,415.9L815.5,417.6L814.4,419.4L813.3,421.1L812.3,422.8L811.2,424.5L810.2,426.2L809.1,427.9L808.1,429.6L807.0,431.3L806.0,433.0L805.0,434.8L803.9,436.5L802.9,438.2L801.8,439.9L800.8,441.6L799.8,443.4L798.7,445.1L797.7,446.8L796.7,448.5L795.7,450.3L794.6,452.0L793.6,453.7L792.6,455.4L791.6,457.2L790.6,458.9L789.6,460.6L788.5,462.4L787.5,464.1L786.5,465.9L785.5,467.6L784.5,469.3L783.5,471.1L782.5,472.8L781.5,474.6L780.5,476.3L779.5,478.1L778.5,479.8L777.6,481.6L776.6,483.3L775.6,485.1L774.6,486.8L773.6,488.6L772.7,490.3L771.7,492.1L770.7,493.8L769.7,495.6L768.8,497.4L767.8,499.1L766.9,500.9L765.9,502.7L764.9,504.4L764.0,506.2L763.0,508.0L762.1,509.7L761.1,511.5L760.2,513.3L759.3,515.1L758.3,516.8L757.4,518.6L756.4,520.4L755.5,522.2L754.6,524.0L753.7,525.7L752.7,527.5L751.8,529.3L750.9,531.1L750.0,532.9L749.1,534.7L748.2,536.5L747.2,538.3L746.3,540.1L745.4,541.9L744.5,543.7L743.6,545.5L742.7,547.3L741.9,549.1L741.0,550.9L740.1,552.7L739.2,554.5L738.3,556.3L737.4,558.1L736.6,559.9L735.7,561.7L734.8,563.5L734.0,565.3L733.1,567.2L732.2,569.0L731.4,570.8L730.5,572.6L729.7,574.4L728.8,576.3L728.0,578.1L727.1,579.9L726.3,581.7L725.4,583.5L724.6,585.4L723.7,587.2L722.9,589.0L722.1,590.8L721.2,592.7L720.4,594.5L719.6,596.3L718.8,598.1L717.9,600.0L717.1,601.8L716.3,603.6L715.5,605.5L714.6,607.3L713.8,609.1L713.0,610.9L712.2,612.8L711.4,614.6L710.6,616.4L709.7,618.3L708.9,620.1L708.1,621.9L707.3,623.8L706.5,625.6L705.7,627.4L704.9,629.3L704.1,631.1L703.3,632.9L702.5,634.8L701.7,636.6L700.9,638.4L700.1,640.3L699.3,642.1L698.5,644.0L697.7,645.8L696.9,647.6L696.1,649.5L695.3,651.3L694.5,653.1L693.7,655.0L692.9,656.8L692.1,658.6L691.3,660.5L690.5,662.3L689.7,664.1L688.9,666.0L688.1,667.8L687.3,669.6L686.5,671.5L685.7,673.3L684.9,675.1L684.1,677.0L683.3,678.8L682.5,680.6L681.7,682.4L680.9,684.3L680.1,686.1L679.3,687.9L678.5,689.8L677.7,691.6L676.8,693.4L676.0,695.2L675.2,697.1L674.4,698.9L673.6,700.7L672.8,702.5L672.0,704.3L671.2,706.2L670.3,708.0L669.5,709.8L668.7,711.6L667.9,713.4L667.1,715.2L666.2,717.1L665.4,718.9L664.6,720.7L663.7,722.5L662.9,724.3L662.1,726.1L661.2,727.9L660.4,729.7L659.5,731.5L658.7,733.3L657.8,735.1L657.0,736.9L656.1,738.7L655.3,740.5L654.4,742.3L653.5,744.1L652.7,745.9L651.8,747.8L651.0,749.6L650.1,751.4L649.2,753.2L648.4,755.0L647.5,756.8L646.7,758.6L645.8,760.5L645.0,762.3L644.1,764.1L643.3,765.9L642.5,767.8L641.6,769.6L640.8,771.4L640.0,773.3L639.1,775.1L638.3,776.9L637.5,778.8L636.7,780.6L635.9,782.5L635.1,784.3L634.3,786.2L633.5,788.1L632.7,789.9L631.9,791.8L631.1,793.7L630.4,795.5L629.6,797.4L628.8,799.3L628.1,801.1L627.3,803.0L626.6,804.8L625.8,806.7L625.1,808.5L624.3,810.4L623.6,812.2L622.8,814.1L622.1,815.9L621.3,817.8L620.6,819.6L619.8,821.4L619.0,823.2L618.3,825.1L617.5,826.9L616.7,828.7L615.9,830.6L615.1,832.4L614.4,834.2L613.6,836.0L612.8,837.8L611.9,839.6L611.1,841.5L610.3,843.3L609.5,845.1L608.7,846.9L607.9,848.7L607.0,850.5L606.2,852.3L605.4,854.1L604.5,855.9L603.7,857.7L602.9,859.5L602.0,861.3L601.2,863.1L600.3,864.9L599.4,866.7L598.6,868.5L597.7,870.3L596.8,872.1L596.0,873.9L595.1,875.7L594.2,877.4L593.3,879.2L592.5,881.0L591.6,882.8L590.7,884.6L589.8,886.4L588.9,888.1L588.0,889.9L587.1,891.7L586.2,893.5L585.3,895.2L584.4,897.0L583.5,898.8L582.6,900.5L581.7,902.3L580.7,904.1L579.8,905.8L578.9,907.6L578.0,909.4L577.0,911.1L576.1,912.9L575.2,914.7L574.3,916.4L573.3,918.2L572.4,919.9L571.4,921.7L570.5,923.4L569.5,925.2L568.6,927.0L567.7,928.7L566.7,930.5L565.7,932.2L564.8,934.0L563.8,935.7L562.9,937.5L561.9,939.2L561.0,940.9L560.0,942.7L559.0,944.4L558.1,946.2L557.1,947.9L556.1,949.7L555.1,951.4L554.2,953.1L553.2,954.9L552.2,956.6L551.2,958.4L550.3,960.1L549.3,961.8L548.3,963.6L547.3,965.3L546.3,967.0L545.3,968.8L544.3,970.5L543.4,972.2L542.4,974.0L541.4,975.7L540.4,977.4L539.4,979.2L538.4,980.9L537.4,982.6L536.4,984.3L535.4,986.1L534.4,987.8L533.4,989.5L532.4,991.2L531.4,992.9L530.4,994.6L529.3,996.4L528.3,998.1L527.3,999.8L526.3,1001.5L525.3,1003.2L524.2,1004.9L523.2,1006.6L522.2,1008.3L521.1,1009.9L520.1,1011.6L519.0,1013.3L518.0,1015.0L516.9,1016.7L515.8,1018.3L514.8,1020.0L513.7,1021.7L512.6,1023.3L511.5,1025.0L510.4,1026.6L509.3,1028.3L508.2,1029.9L507.1,1031.5L506.0,1033.2L504.9,1034.8L503.8,1036.4L502.6,1038.0L501.5,1039.6L500.4,1041.2L499.2,1042.8L498.1,1044.4L496.9,1046.0L495.7,1047.6L494.5,1049.1L493.3,1050.7L492.1,1052.3L490.9,1053.8L489.7,1055.4L488.5,1056.9L487.3,1058.4L486.0,1059.9L484.8,1061.5L483.5,1063.0L482.3,1064.5L481.0,1066.0L479.7,1067.4L478.4,1068.9L477.1,1070.4L475.8,1071.8L474.5,1073.3L473.2,1074.7L471.8,1076.1L470.5,1077.5L469.1,1078.9L467.7,1080.3L466.3,1081.7L464.9,1083.0L463.5,1084.4L462.1,1085.7L460.7,1087.1L459.3,1088.4L457.8,1089.7L456.4,1091.0L454.9,1092.3L453.4,1093.6L452.0,1094.8L450.5,1096.1L449.0,1097.3L447.5,1098.6L446.0,1099.8L444.4,1101.0L442.9,1102.2L441.4,1103.4L439.8,1104.5L438.3,1105.7L436.7,1106.8L435.2,1107.9L433.6,1108.9L432.0,1110.0L430.4,1111.0L428.8,1111.9L427.3,1112.8L425.7,1113.7L424.0,1114.5L422.4,1115.3L420.8,1116.0L419.2,1116.6L417.6,1117.2L415.9,1117.7L414.3,1118.2L412.7,1118.6L411.1,1118.9L409.4,1119.1L407.8,1119.3L406.1,1119.4L404.5,1119.4L402.8,1119.3L401.2,1119.2L399.5,1119.0L397.9,1118.7L396.3,1118.3L394.6,1117.9L393.0,1117.4L391.4,1116.8L389.8,1116.1L388.2,1115.4L386.6,1114.6L385.0,1113.8L383.4,1113.0L381.8,1112.0L380.2,1111.1L378.6,1110.1L377.0,1109.1L375.5,1108.0L373.9,1106.9L372.3,1105.8L370.7,1104.7L369.2,1103.5L367.6,1102.3L366.0,1101.2L364.4,1100.0L362.8,1098.8L361.2,1097.6L359.6,1096.4L358.1,1095.2L356.5,1094.0L354.9,1092.8L353.3,1091.5L351.7,1090.3L350.2,1089.1L348.6,1087.9L347.0,1086.7L345.4,1085.5L343.8,1084.2L342.3,1083.0L340.7,1081.8L339.1,1080.6L337.5,1079.3L336.0,1078.1L334.4,1076.9L332.8,1075.6L331.2,1074.4L329.7,1073.2L328.1,1071.9L326.5,1070.7L324.9,1069.5L323.4,1068.2L321.8,1067.0L320.2,1065.8L318.6,1064.6L317.0,1063.3L315.4,1062.1L313.8,1060.9L312.3,1059.6L310.7,1058.4L309.1,1057.2L307.5,1056.0L305.9,1054.8L304.3,1053.5L302.7,1052.3L301.1,1051.1L299.5,1049.9L297.9,1048.7L296.3,1047.5L294.7,1046.2L293.1,1045.0L291.5,1043.8L289.9,1042.6L288.3,1041.4L286.7,1040.2L285.1,1039.0L283.5,1037.8L281.9,1036.6L280.3,1035.4L278.7,1034.2L277.1,1033.0L275.5,1031.8L273.9,1030.6L272.3,1029.4L270.7,1028.2L269.1,1027.0L267.5,1025.8L266.0,1024.6L264.4,1023.4L262.8,1022.2L261.2,1021.0L259.7,1019.7L258.1,1018.5L256.5,1017.3L255.0,1016.1L253.4,1014.8L251.9,1013.6L250.3,1012.4L248.8,1011.1L247.2,1009.9L245.7,1008.7L244.2,1007.4L242.7,1006.2L241.1,1004.9L239.6,1003.6L238.1,1002.4L236.6,1001.1L235.1,999.8L233.6,998.5L232.1,997.2L230.6,995.9L229.2,994.6L227.7,993.3L226.2,992.0L224.8,990.7L223.3,989.4L221.9,988.1L220.5,986.7L219.1,985.4L217.6,984.0L216.2,982.7L214.8,981.3L213.4,979.9L212.1,978.5L210.7,977.2L209.3,975.8L208.0,974.3L206.6,972.9L205.3,971.5Z"/>
</g>
<rect x="1316.3" y="151.9" width="288.1" height="420.6" fill="#fff" stroke="#000" stroke-width="2.4"/>
<line x1="1341" y1="199.2" x2="1466.3" y2="199.2" stroke="#000000" stroke-width="2.6"/>
<rect x="1397.9" y="193.2" width="9.2" height="9.5" fill="#000000"/>
<text x="1479.5" y="214.7" font-size="54" letter-spacing="1.8" class="t">1.0 h</text>
<line x1="1341" y1="265.3" x2="1466.3" y2="265.3" stroke="#ff0000" stroke-width="2.6"/>
<ellipse cx="1402.8" cy="264.3" rx="3.4" ry="4.7" fill="#ff0000"/>
<text x="1479.5" y="280.8" font-size="54" letter-spacing="1.8" class="t">0.5 h</text>
<line x1="1341" y1="334.0" x2="1466.3" y2="334.0" stroke="#0000ff" stroke-width="2.6"/>
<path d="M1397.9,337.3 L1411.8,337.3 L1404.5,325.7 Z" fill="#0000ff"/>
<text x="1479.5" y="349.5" font-size="54" letter-spacing="1.8" class="t">1.5 h</text>
<line x1="1341" y1="399.9" x2="1466.3" y2="399.9" stroke="#008080" stroke-width="2.6"/>
<path d="M1397.9,397 L1411.8,397 L1404.5,408.5 Z" fill="#008080"/>
<text x="1479.5" y="415.4" font-size="54" letter-spacing="1.8" class="t">2.0 h</text>
<line x1="1341" y1="468.3" x2="1466.3" y2="468.3" stroke="#ff00ff" stroke-width="2.6"/>
<path d="M1409.1,460 L1409.1,474.5 L1400.4,467.6 Z" fill="#ff00ff"/>
<text x="1479.5" y="483.8" font-size="54" letter-spacing="1.8" class="t">2.5 h</text>
<line x1="1341" y1="541.6" x2="1466.3" y2="541.6" stroke="#808000" stroke-width="2.6"/>
<path d="M1400.4,533.3 L1400.4,547.8 L1409.9,540.8 Z" fill="#808000"/>
<text x="1479.5" y="557.1" font-size="54" class="t">0  <tspan x="1545.5">h</tspan></text>
<text x="172" y="1251.8" text-anchor="end" font-size="41.5" letter-spacing="2.5" class="t">0.0</text>
<text x="172" y="1080.4" text-anchor="end" font-size="41.5" letter-spacing="2.5" class="t">0.2</text>
<text x="172" y="908.9" text-anchor="end" font-size="41.5" letter-spacing="2.5" class="t">0.4</text>
<text x="172" y="737.5" text-anchor="end" font-size="41.5" letter-spacing="2.5" class="t">0.6</text>
<text x="172" y="566.0" text-anchor="end" font-size="41.5" letter-spacing="2.5" class="t">0.8</text>
<text x="172" y="394.6" text-anchor="end" font-size="41.5" letter-spacing="2.5" class="t">1.0</text>
<text x="172" y="223.1" text-anchor="end" font-size="41.5" letter-spacing="2.5" class="t">1.2</text>
<text x="172" y="51.7" text-anchor="end" font-size="41.5" letter-spacing="2.5" class="t">1.4</text>
<text x="208.9" y="1313" text-anchor="middle" font-size="41.5" letter-spacing="2.5" class="t">300</text>
<text x="461.6" y="1313" text-anchor="middle" font-size="41.5" letter-spacing="2.5" class="t">350</text>
<text x="714.2" y="1313" text-anchor="middle" font-size="41.5" letter-spacing="2.5" class="t">400</text>
<text x="966.9" y="1313" text-anchor="middle" font-size="41.5" letter-spacing="2.5" class="t">450</text>
<text x="1219.6" y="1313" text-anchor="middle" font-size="41.5" letter-spacing="2.5" class="t">500</text>
<text x="1472.2" y="1313" text-anchor="middle" font-size="41.5" letter-spacing="2.5" class="t">550</text>
<text x="1724.9" y="1313" text-anchor="middle" font-size="41.5" letter-spacing="2.5" class="t">600</text>
<text x="722" y="1418.8" font-size="65.5" font-weight="bold" letter-spacing="2.9" class="t">wavelength(nm)</text>
<text transform="translate(63.9,685.8) rotate(-90)" x="0" y="0" text-anchor="middle" font-size="72" font-weight="bold" class="t">Abs</text>
</svg>
</body></html>
